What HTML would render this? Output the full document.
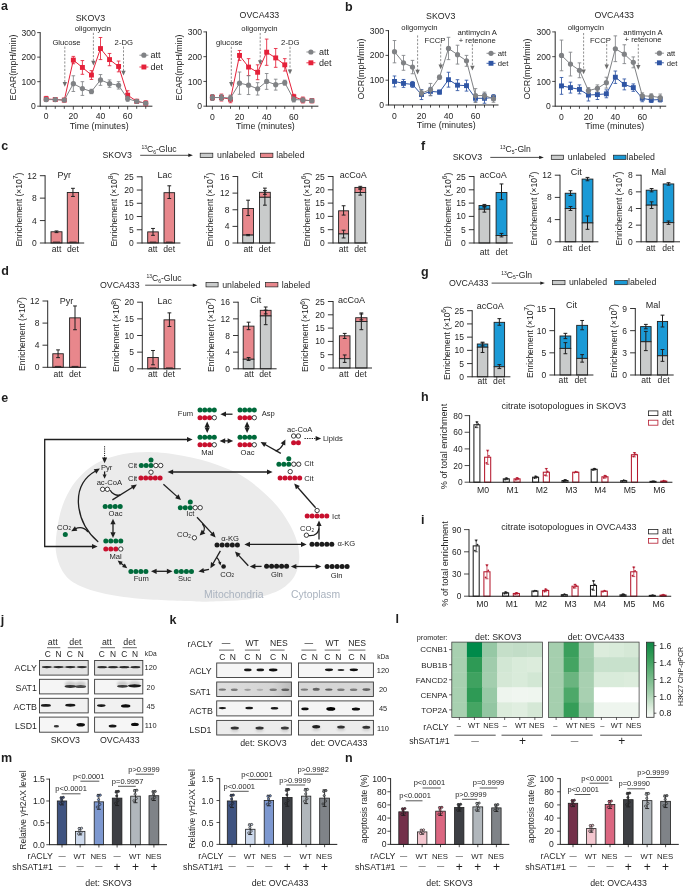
<!DOCTYPE html>
<html lang="en">
<head>
<meta charset="utf-8">
<title>Figure</title>
<style>
html,body{margin:0;padding:0;background:#fff;}
body{width:685px;height:886px;overflow:hidden;}
svg{display:block;font-family:"Liberation Sans", sans-serif;fill:#1f1f1f;}
</style>
</head>
<body>
<svg width="685" height="886" viewBox="0 0 685 886" shape-rendering="geometricPrecision">
<rect x="0" y="0" width="685" height="886" fill="#ffffff"/>
<line x1="40.20" y1="32.15" x2="40.20" y2="106.65" stroke="#1f1f1f" stroke-width="0.95"/>
<line x1="40.20" y1="106.20" x2="152.40" y2="106.20" stroke="#1f1f1f" stroke-width="0.95"/>
<line x1="37.20" y1="106.20" x2="40.20" y2="106.20" stroke="#1f1f1f" stroke-width="0.8"/>
<text x="35.80" y="109.28" font-size="8.6" text-anchor="end">0</text>
<line x1="37.20" y1="81.67" x2="40.20" y2="81.67" stroke="#1f1f1f" stroke-width="0.8"/>
<text x="35.80" y="84.75" font-size="8.6" text-anchor="end">100</text>
<line x1="37.20" y1="57.13" x2="40.20" y2="57.13" stroke="#1f1f1f" stroke-width="0.8"/>
<text x="35.80" y="60.21" font-size="8.6" text-anchor="end">200</text>
<line x1="37.20" y1="32.60" x2="40.20" y2="32.60" stroke="#1f1f1f" stroke-width="0.8"/>
<text x="35.80" y="35.68" font-size="8.6" text-anchor="end">300</text>
<line x1="46.20" y1="106.20" x2="46.20" y2="109.60" stroke="#1f1f1f" stroke-width="0.8"/>
<text x="46.20" y="119.38" font-size="8.6" text-anchor="middle">0</text>
<line x1="73.35" y1="106.20" x2="73.35" y2="109.60" stroke="#1f1f1f" stroke-width="0.8"/>
<text x="73.35" y="119.38" font-size="8.6" text-anchor="middle">20</text>
<line x1="100.50" y1="106.20" x2="100.50" y2="109.60" stroke="#1f1f1f" stroke-width="0.8"/>
<text x="100.50" y="119.38" font-size="8.6" text-anchor="middle">40</text>
<line x1="127.65" y1="106.20" x2="127.65" y2="109.60" stroke="#1f1f1f" stroke-width="0.8"/>
<text x="127.65" y="119.38" font-size="8.6" text-anchor="middle">60</text>
<text x="90.40" y="21.15" font-size="8.8" text-anchor="middle">SKOV3</text>
<text x="99.20" y="129.49" font-size="8.9" text-anchor="middle">Time (minutes)</text>
<text transform="translate(12.50 67.50) rotate(-90)" y="3.19" font-size="8.9" text-anchor="middle">ECAR(mpH/min)</text>
<text x="66.50" y="44.96" font-size="7.7" text-anchor="middle">Glucose</text>
<line x1="64.80" y1="46.60" x2="64.80" y2="82.80" stroke="#555" stroke-width="0.65" stroke-dasharray="2.2 1.5"/>
<polygon points="64.80,86.80 62.60,82.00 67.00,82.00" fill="#6d6d6d"/>
<text x="92.90" y="30.86" font-size="7.7" text-anchor="middle">oligomycin</text>
<line x1="93.40" y1="32.80" x2="93.40" y2="61.50" stroke="#555" stroke-width="0.65" stroke-dasharray="2.2 1.5"/>
<polygon points="93.40,65.50 91.20,60.70 95.60,60.70" fill="#6d6d6d"/>
<text x="123.80" y="44.96" font-size="7.7" text-anchor="middle">2-DG</text>
<line x1="123.50" y1="46.60" x2="123.50" y2="71.50" stroke="#555" stroke-width="0.65" stroke-dasharray="2.2 1.5"/>
<polygon points="123.50,75.50 121.30,70.70 125.70,70.70" fill="#6d6d6d"/>
<line x1="55.25" y1="106.20" x2="55.25" y2="108.80" stroke="#1f1f1f" stroke-width="0.8"/>
<line x1="64.30" y1="106.20" x2="64.30" y2="108.80" stroke="#1f1f1f" stroke-width="0.8"/>
<line x1="82.40" y1="106.20" x2="82.40" y2="108.80" stroke="#1f1f1f" stroke-width="0.8"/>
<line x1="91.45" y1="106.20" x2="91.45" y2="108.80" stroke="#1f1f1f" stroke-width="0.8"/>
<line x1="109.55" y1="106.20" x2="109.55" y2="108.80" stroke="#1f1f1f" stroke-width="0.8"/>
<line x1="118.60" y1="106.20" x2="118.60" y2="108.80" stroke="#1f1f1f" stroke-width="0.8"/>
<line x1="136.70" y1="106.20" x2="136.70" y2="108.80" stroke="#1f1f1f" stroke-width="0.8"/>
<line x1="145.75" y1="106.20" x2="145.75" y2="108.80" stroke="#1f1f1f" stroke-width="0.8"/>
<path d="M46.20 96.39V101.29M44.40 96.39H48.00M44.40 101.29H48.00" fill="none" stroke="#e5213a" stroke-width="0.85"/>
<path d="M55.25 97.86V101.29M53.45 97.86H57.05M53.45 101.29H57.05" fill="none" stroke="#e5213a" stroke-width="0.85"/>
<path d="M64.30 98.35V101.78M62.50 98.35H66.10M62.50 101.78H66.10" fill="none" stroke="#e5213a" stroke-width="0.85"/>
<path d="M73.35 56.40V63.76M71.55 56.40H75.15M71.55 63.76H75.15" fill="none" stroke="#e5213a" stroke-width="0.85"/>
<path d="M82.40 60.57V74.31M80.60 60.57H84.20M80.60 74.31H84.20" fill="none" stroke="#e5213a" stroke-width="0.85"/>
<path d="M91.45 70.63V79.46M89.65 70.63H93.25M89.65 79.46H93.25" fill="none" stroke="#e5213a" stroke-width="0.85"/>
<path d="M100.50 37.51V59.59M98.70 37.51H102.30M98.70 59.59H102.30" fill="none" stroke="#e5213a" stroke-width="0.85"/>
<path d="M109.55 53.45V65.72M107.75 53.45H111.35M107.75 65.72H111.35" fill="none" stroke="#e5213a" stroke-width="0.85"/>
<path d="M118.60 61.06V71.85M116.80 61.06H120.40M116.80 71.85H120.40" fill="none" stroke="#e5213a" stroke-width="0.85"/>
<path d="M127.65 90.74V99.58M125.85 90.74H129.45M125.85 99.58H129.45" fill="none" stroke="#e5213a" stroke-width="0.85"/>
<path d="M136.70 99.33V103.26M134.90 99.33H138.50M134.90 103.26H138.50" fill="none" stroke="#e5213a" stroke-width="0.85"/>
<path d="M145.75 100.80V105.71M143.95 100.80H147.55M143.95 105.71H147.55" fill="none" stroke="#e5213a" stroke-width="0.85"/>
<polyline points="46.20,98.84 55.25,99.58 64.30,100.07 73.35,60.08 82.40,67.44 91.45,75.04 100.50,48.55 109.55,59.59 118.60,66.46 127.65,95.16 136.70,101.29 145.75,103.26" fill="none" stroke="#e5213a" stroke-width="1.0"/>
<rect x="43.75" y="96.39" width="4.90" height="4.90" fill="#e5213a"/>
<rect x="52.80" y="97.13" width="4.90" height="4.90" fill="#e5213a"/>
<rect x="61.85" y="97.62" width="4.90" height="4.90" fill="#e5213a"/>
<rect x="70.90" y="57.63" width="4.90" height="4.90" fill="#e5213a"/>
<rect x="79.95" y="64.99" width="4.90" height="4.90" fill="#e5213a"/>
<rect x="89.00" y="72.59" width="4.90" height="4.90" fill="#e5213a"/>
<rect x="98.05" y="46.10" width="4.90" height="4.90" fill="#e5213a"/>
<rect x="107.10" y="57.14" width="4.90" height="4.90" fill="#e5213a"/>
<rect x="116.15" y="64.01" width="4.90" height="4.90" fill="#e5213a"/>
<rect x="125.20" y="92.71" width="4.90" height="4.90" fill="#e5213a"/>
<rect x="134.25" y="98.84" width="4.90" height="4.90" fill="#e5213a"/>
<rect x="143.30" y="100.81" width="4.90" height="4.90" fill="#e5213a"/>
<path d="M46.20 97.61V101.54M44.40 97.61H48.00M44.40 101.54H48.00" fill="none" stroke="#808285" stroke-width="0.85"/>
<path d="M55.25 98.10V101.05M53.45 98.10H57.05M53.45 101.05H57.05" fill="none" stroke="#808285" stroke-width="0.85"/>
<path d="M64.30 98.59V101.54M62.50 98.59H66.10M62.50 101.54H66.10" fill="none" stroke="#808285" stroke-width="0.85"/>
<path d="M73.35 75.78V91.48M71.55 75.78H75.15M71.55 91.48H75.15" fill="none" stroke="#808285" stroke-width="0.85"/>
<path d="M82.40 81.67V95.41M80.60 81.67H84.20M80.60 95.41H84.20" fill="none" stroke="#808285" stroke-width="0.85"/>
<path d="M91.45 89.27V93.69M89.65 89.27H93.25M89.65 93.69H93.25" fill="none" stroke="#808285" stroke-width="0.85"/>
<path d="M100.50 74.55V85.35M98.70 74.55H102.30M98.70 85.35H102.30" fill="none" stroke="#808285" stroke-width="0.85"/>
<path d="M109.55 79.95V87.31M107.75 79.95H111.35M107.75 87.31H111.35" fill="none" stroke="#808285" stroke-width="0.85"/>
<path d="M118.60 81.67V89.03M116.80 81.67H120.40M116.80 89.03H120.40" fill="none" stroke="#808285" stroke-width="0.85"/>
<path d="M127.65 96.39V101.29M125.85 96.39H129.45M125.85 101.29H129.45" fill="none" stroke="#808285" stroke-width="0.85"/>
<path d="M136.70 99.58V103.01M134.90 99.58H138.50M134.90 103.01H138.50" fill="none" stroke="#808285" stroke-width="0.85"/>
<path d="M145.75 101.54V104.97M143.95 101.54H147.55M143.95 104.97H147.55" fill="none" stroke="#808285" stroke-width="0.85"/>
<polyline points="46.20,99.58 55.25,99.58 64.30,100.07 73.35,83.63 82.40,88.54 91.45,91.48 100.50,79.95 109.55,83.63 118.60,85.35 127.65,98.84 136.70,101.29 145.75,103.26" fill="none" stroke="#808285" stroke-width="1.0"/>
<circle cx="46.20" cy="99.58" r="2.6" fill="#808285"/>
<circle cx="55.25" cy="99.58" r="2.6" fill="#808285"/>
<circle cx="64.30" cy="100.07" r="2.6" fill="#808285"/>
<circle cx="73.35" cy="83.63" r="2.6" fill="#808285"/>
<circle cx="82.40" cy="88.54" r="2.6" fill="#808285"/>
<circle cx="91.45" cy="91.48" r="2.6" fill="#808285"/>
<circle cx="100.50" cy="79.95" r="2.6" fill="#808285"/>
<circle cx="109.55" cy="83.63" r="2.6" fill="#808285"/>
<circle cx="118.60" cy="85.35" r="2.6" fill="#808285"/>
<circle cx="127.65" cy="98.84" r="2.6" fill="#808285"/>
<circle cx="136.70" cy="101.29" r="2.6" fill="#808285"/>
<circle cx="145.75" cy="103.26" r="2.6" fill="#808285"/>
<line x1="139.40" y1="55.20" x2="148.40" y2="55.20" stroke="#808285" stroke-width="0.9"/>
<circle cx="143.90" cy="55.20" r="2.6" fill="#808285"/>
<text x="150.60" y="58.42" font-size="9">att</text>
<line x1="139.40" y1="67.00" x2="148.40" y2="67.00" stroke="#e5213a" stroke-width="0.9"/>
<rect x="141.45" y="64.55" width="4.90" height="4.90" fill="#e5213a"/>
<text x="150.60" y="70.22" font-size="9">det</text>
<line x1="206.40" y1="31.45" x2="206.40" y2="106.65" stroke="#1f1f1f" stroke-width="0.95"/>
<line x1="206.40" y1="106.20" x2="318.40" y2="106.20" stroke="#1f1f1f" stroke-width="0.95"/>
<line x1="203.40" y1="106.20" x2="206.40" y2="106.20" stroke="#1f1f1f" stroke-width="0.8"/>
<text x="202.00" y="109.28" font-size="8.6" text-anchor="end">0</text>
<line x1="203.40" y1="81.43" x2="206.40" y2="81.43" stroke="#1f1f1f" stroke-width="0.8"/>
<text x="202.00" y="84.51" font-size="8.6" text-anchor="end">100</text>
<line x1="203.40" y1="56.67" x2="206.40" y2="56.67" stroke="#1f1f1f" stroke-width="0.8"/>
<text x="202.00" y="59.75" font-size="8.6" text-anchor="end">200</text>
<line x1="203.40" y1="31.90" x2="206.40" y2="31.90" stroke="#1f1f1f" stroke-width="0.8"/>
<text x="202.00" y="34.98" font-size="8.6" text-anchor="end">300</text>
<line x1="212.40" y1="106.20" x2="212.40" y2="109.60" stroke="#1f1f1f" stroke-width="0.8"/>
<text x="212.40" y="119.68" font-size="8.6" text-anchor="middle">0</text>
<line x1="239.53" y1="106.20" x2="239.53" y2="109.60" stroke="#1f1f1f" stroke-width="0.8"/>
<text x="239.53" y="119.68" font-size="8.6" text-anchor="middle">20</text>
<line x1="266.66" y1="106.20" x2="266.66" y2="109.60" stroke="#1f1f1f" stroke-width="0.8"/>
<text x="266.66" y="119.68" font-size="8.6" text-anchor="middle">40</text>
<line x1="293.79" y1="106.20" x2="293.79" y2="109.60" stroke="#1f1f1f" stroke-width="0.8"/>
<text x="293.79" y="119.68" font-size="8.6" text-anchor="middle">60</text>
<text x="259.40" y="18.25" font-size="8.8" text-anchor="middle">OVCA433</text>
<text x="265.40" y="129.49" font-size="8.9" text-anchor="middle">Time (minutes)</text>
<text transform="translate(178.60 67.50) rotate(-90)" y="3.19" font-size="8.9" text-anchor="middle">ECAR(mpH/min)</text>
<text x="229.30" y="45.46" font-size="7.7" text-anchor="middle">glucose</text>
<line x1="231.30" y1="46.80" x2="231.30" y2="82.90" stroke="#555" stroke-width="0.65" stroke-dasharray="2.2 1.5"/>
<polygon points="231.30,86.90 229.10,82.10 233.50,82.10" fill="#6d6d6d"/>
<text x="259.40" y="31.16" font-size="7.7" text-anchor="middle">oligomycin</text>
<line x1="260.20" y1="33.00" x2="260.20" y2="61.00" stroke="#555" stroke-width="0.65" stroke-dasharray="2.2 1.5"/>
<polygon points="260.20,65.00 258.00,60.20 262.40,60.20" fill="#6d6d6d"/>
<text x="290.30" y="45.46" font-size="7.7" text-anchor="middle">2-DG</text>
<line x1="290.00" y1="46.80" x2="290.00" y2="70.20" stroke="#555" stroke-width="0.65" stroke-dasharray="2.2 1.5"/>
<polygon points="290.00,74.20 287.80,69.40 292.20,69.40" fill="#6d6d6d"/>
<line x1="221.44" y1="106.20" x2="221.44" y2="108.80" stroke="#1f1f1f" stroke-width="0.8"/>
<line x1="230.49" y1="106.20" x2="230.49" y2="108.80" stroke="#1f1f1f" stroke-width="0.8"/>
<line x1="248.57" y1="106.20" x2="248.57" y2="108.80" stroke="#1f1f1f" stroke-width="0.8"/>
<line x1="257.62" y1="106.20" x2="257.62" y2="108.80" stroke="#1f1f1f" stroke-width="0.8"/>
<line x1="275.70" y1="106.20" x2="275.70" y2="108.80" stroke="#1f1f1f" stroke-width="0.8"/>
<line x1="284.75" y1="106.20" x2="284.75" y2="108.80" stroke="#1f1f1f" stroke-width="0.8"/>
<line x1="302.83" y1="106.20" x2="302.83" y2="108.80" stroke="#1f1f1f" stroke-width="0.8"/>
<line x1="311.88" y1="106.20" x2="311.88" y2="108.80" stroke="#1f1f1f" stroke-width="0.8"/>
<path d="M212.40 94.56V100.50M210.60 94.56H214.20M210.60 100.50H214.20" fill="none" stroke="#e5213a" stroke-width="0.85"/>
<path d="M221.44 94.06V101.00M219.64 94.06H223.24M219.64 101.00H223.24" fill="none" stroke="#e5213a" stroke-width="0.85"/>
<path d="M230.49 95.80V102.73M228.69 95.80H232.29M228.69 102.73H232.29" fill="none" stroke="#e5213a" stroke-width="0.85"/>
<path d="M239.53 50.47V60.38M237.73 50.47H241.33M237.73 60.38H241.33" fill="none" stroke="#e5213a" stroke-width="0.85"/>
<path d="M248.57 58.65V75.49M246.77 58.65H250.37M246.77 75.49H250.37" fill="none" stroke="#e5213a" stroke-width="0.85"/>
<path d="M257.62 64.84V79.70M255.82 64.84H259.42M255.82 79.70H259.42" fill="none" stroke="#e5213a" stroke-width="0.85"/>
<path d="M266.66 39.08V65.33M264.86 39.08H268.46M264.86 65.33H268.46" fill="none" stroke="#e5213a" stroke-width="0.85"/>
<path d="M275.70 48.49V67.32M273.90 48.49H277.50M273.90 67.32H277.50" fill="none" stroke="#e5213a" stroke-width="0.85"/>
<path d="M284.75 58.65V71.03M282.95 58.65H286.55M282.95 71.03H286.55" fill="none" stroke="#e5213a" stroke-width="0.85"/>
<path d="M293.79 94.31V99.27M291.99 94.31H295.59M291.99 99.27H295.59" fill="none" stroke="#e5213a" stroke-width="0.85"/>
<path d="M302.83 97.04V102.98M301.03 97.04H304.63M301.03 102.98H304.63" fill="none" stroke="#e5213a" stroke-width="0.85"/>
<path d="M311.88 98.77V102.73M310.08 98.77H313.68M310.08 102.73H313.68" fill="none" stroke="#e5213a" stroke-width="0.85"/>
<polyline points="212.40,97.53 221.44,97.53 230.49,99.27 239.53,55.43 248.57,67.07 257.62,72.27 266.66,52.21 275.70,57.90 284.75,64.84 293.79,96.79 302.83,100.01 311.88,100.75" fill="none" stroke="#e5213a" stroke-width="1.0"/>
<rect x="209.95" y="95.08" width="4.90" height="4.90" fill="#e5213a"/>
<rect x="218.99" y="95.08" width="4.90" height="4.90" fill="#e5213a"/>
<rect x="228.04" y="96.82" width="4.90" height="4.90" fill="#e5213a"/>
<rect x="237.08" y="52.98" width="4.90" height="4.90" fill="#e5213a"/>
<rect x="246.12" y="64.62" width="4.90" height="4.90" fill="#e5213a"/>
<rect x="255.17" y="69.82" width="4.90" height="4.90" fill="#e5213a"/>
<rect x="264.21" y="49.76" width="4.90" height="4.90" fill="#e5213a"/>
<rect x="273.25" y="55.45" width="4.90" height="4.90" fill="#e5213a"/>
<rect x="282.30" y="62.39" width="4.90" height="4.90" fill="#e5213a"/>
<rect x="291.34" y="94.34" width="4.90" height="4.90" fill="#e5213a"/>
<rect x="300.38" y="97.56" width="4.90" height="4.90" fill="#e5213a"/>
<rect x="309.43" y="98.30" width="4.90" height="4.90" fill="#e5213a"/>
<path d="M212.40 94.56V100.50M210.60 94.56H214.20M210.60 100.50H214.20" fill="none" stroke="#808285" stroke-width="0.85"/>
<path d="M221.44 94.56V100.50M219.64 94.56H223.24M219.64 100.50H223.24" fill="none" stroke="#808285" stroke-width="0.85"/>
<path d="M230.49 95.06V101.00M228.69 95.06H232.29M228.69 101.00H232.29" fill="none" stroke="#808285" stroke-width="0.85"/>
<path d="M239.53 72.02V94.31M237.73 72.02H241.33M237.73 94.31H241.33" fill="none" stroke="#808285" stroke-width="0.85"/>
<path d="M248.57 75.74V94.56M246.77 75.74H250.37M246.77 94.56H250.37" fill="none" stroke="#808285" stroke-width="0.85"/>
<path d="M257.62 82.67V95.06M255.82 82.67H259.42M255.82 95.06H259.42" fill="none" stroke="#808285" stroke-width="0.85"/>
<path d="M266.66 73.51V89.36M264.86 73.51H268.46M264.86 89.36H268.46" fill="none" stroke="#808285" stroke-width="0.85"/>
<path d="M275.70 79.20V90.10M273.90 79.20H277.50M273.90 90.10H277.50" fill="none" stroke="#808285" stroke-width="0.85"/>
<path d="M284.75 80.19V85.15M282.95 80.19H286.55M282.95 85.15H286.55" fill="none" stroke="#808285" stroke-width="0.85"/>
<path d="M293.79 97.04V101.99M291.99 97.04H295.59M291.99 101.99H295.59" fill="none" stroke="#808285" stroke-width="0.85"/>
<path d="M302.83 98.03V101.99M301.03 98.03H304.63M301.03 101.99H304.63" fill="none" stroke="#808285" stroke-width="0.85"/>
<path d="M311.88 99.02V102.48M310.08 99.02H313.68M310.08 102.48H313.68" fill="none" stroke="#808285" stroke-width="0.85"/>
<polyline points="212.40,97.53 221.44,97.53 230.49,98.03 239.53,83.17 248.57,85.15 257.62,88.86 266.66,81.43 275.70,84.65 284.75,82.67 293.79,99.51 302.83,100.01 311.88,100.75" fill="none" stroke="#808285" stroke-width="1.0"/>
<circle cx="212.40" cy="97.53" r="2.6" fill="#808285"/>
<circle cx="221.44" cy="97.53" r="2.6" fill="#808285"/>
<circle cx="230.49" cy="98.03" r="2.6" fill="#808285"/>
<circle cx="239.53" cy="83.17" r="2.6" fill="#808285"/>
<circle cx="248.57" cy="85.15" r="2.6" fill="#808285"/>
<circle cx="257.62" cy="88.86" r="2.6" fill="#808285"/>
<circle cx="266.66" cy="81.43" r="2.6" fill="#808285"/>
<circle cx="275.70" cy="84.65" r="2.6" fill="#808285"/>
<circle cx="284.75" cy="82.67" r="2.6" fill="#808285"/>
<circle cx="293.79" cy="99.51" r="2.6" fill="#808285"/>
<circle cx="302.83" cy="100.01" r="2.6" fill="#808285"/>
<circle cx="311.88" cy="100.75" r="2.6" fill="#808285"/>
<line x1="306.40" y1="52.00" x2="315.40" y2="52.00" stroke="#808285" stroke-width="0.9"/>
<circle cx="310.90" cy="52.00" r="2.6" fill="#808285"/>
<text x="318.90" y="55.22" font-size="9">att</text>
<line x1="306.40" y1="62.80" x2="315.40" y2="62.80" stroke="#e5213a" stroke-width="0.9"/>
<rect x="308.45" y="60.35" width="4.90" height="4.90" fill="#e5213a"/>
<text x="318.90" y="66.02" font-size="9">det</text>
<line x1="388.50" y1="30.15" x2="388.50" y2="105.45" stroke="#1f1f1f" stroke-width="0.95"/>
<line x1="388.50" y1="105.00" x2="498.50" y2="105.00" stroke="#1f1f1f" stroke-width="0.95"/>
<line x1="385.50" y1="105.00" x2="388.50" y2="105.00" stroke="#1f1f1f" stroke-width="0.8"/>
<text x="384.10" y="108.08" font-size="8.6" text-anchor="end">0</text>
<line x1="385.50" y1="80.20" x2="388.50" y2="80.20" stroke="#1f1f1f" stroke-width="0.8"/>
<text x="384.10" y="83.28" font-size="8.6" text-anchor="end">100</text>
<line x1="385.50" y1="55.40" x2="388.50" y2="55.40" stroke="#1f1f1f" stroke-width="0.8"/>
<text x="384.10" y="58.48" font-size="8.6" text-anchor="end">200</text>
<line x1="385.50" y1="30.60" x2="388.50" y2="30.60" stroke="#1f1f1f" stroke-width="0.8"/>
<text x="384.10" y="33.68" font-size="8.6" text-anchor="end">300</text>
<line x1="394.50" y1="105.00" x2="394.50" y2="108.40" stroke="#1f1f1f" stroke-width="0.8"/>
<text x="394.50" y="118.68" font-size="8.6" text-anchor="middle">0</text>
<line x1="421.50" y1="105.00" x2="421.50" y2="108.40" stroke="#1f1f1f" stroke-width="0.8"/>
<text x="421.50" y="118.68" font-size="8.6" text-anchor="middle">20</text>
<line x1="448.50" y1="105.00" x2="448.50" y2="108.40" stroke="#1f1f1f" stroke-width="0.8"/>
<text x="448.50" y="118.68" font-size="8.6" text-anchor="middle">40</text>
<line x1="475.50" y1="105.00" x2="475.50" y2="108.40" stroke="#1f1f1f" stroke-width="0.8"/>
<text x="475.50" y="118.68" font-size="8.6" text-anchor="middle">60</text>
<text x="440.70" y="18.75" font-size="8.8" text-anchor="middle">SKOV3</text>
<text x="446.30" y="128.09" font-size="8.9" text-anchor="middle">Time (minutes)</text>
<text transform="translate(361.00 69.00) rotate(-90)" y="3.19" font-size="8.9" text-anchor="middle">OCR(mpH/min)</text>
<text x="419.40" y="30.36" font-size="7.7" text-anchor="middle">oligomycin</text>
<line x1="417.60" y1="35.40" x2="417.60" y2="70.50" stroke="#555" stroke-width="0.65" stroke-dasharray="2.2 1.5"/>
<polygon points="417.60,74.50 415.40,69.70 419.80,69.70" fill="#6d6d6d"/>
<text x="435.00" y="42.96" font-size="7.7" text-anchor="middle">FCCP</text>
<line x1="440.70" y1="44.20" x2="440.70" y2="65.30" stroke="#555" stroke-width="0.65" stroke-dasharray="2.2 1.5"/>
<polygon points="440.70,69.30 438.50,64.50 442.90,64.50" fill="#6d6d6d"/>
<text x="477.20" y="35.36" font-size="7.7" text-anchor="middle">antimycin A</text>
<text x="477.20" y="42.56" font-size="7.7" text-anchor="middle">+ retenone</text>
<line x1="472.40" y1="44.20" x2="472.40" y2="66.50" stroke="#555" stroke-width="0.65" stroke-dasharray="2.2 1.5"/>
<polygon points="472.40,70.50 470.20,65.70 474.60,65.70" fill="#6d6d6d"/>
<line x1="403.50" y1="105.00" x2="403.50" y2="107.60" stroke="#1f1f1f" stroke-width="0.8"/>
<line x1="412.50" y1="105.00" x2="412.50" y2="107.60" stroke="#1f1f1f" stroke-width="0.8"/>
<line x1="430.50" y1="105.00" x2="430.50" y2="107.60" stroke="#1f1f1f" stroke-width="0.8"/>
<line x1="439.50" y1="105.00" x2="439.50" y2="107.60" stroke="#1f1f1f" stroke-width="0.8"/>
<line x1="457.50" y1="105.00" x2="457.50" y2="107.60" stroke="#1f1f1f" stroke-width="0.8"/>
<line x1="466.50" y1="105.00" x2="466.50" y2="107.60" stroke="#1f1f1f" stroke-width="0.8"/>
<line x1="484.50" y1="105.00" x2="484.50" y2="107.60" stroke="#1f1f1f" stroke-width="0.8"/>
<line x1="493.50" y1="105.00" x2="493.50" y2="107.60" stroke="#1f1f1f" stroke-width="0.8"/>
<path d="M394.50 75.98V86.90M392.70 75.98H396.30M392.70 86.90H396.30" fill="none" stroke="#2f55a4" stroke-width="0.85"/>
<path d="M403.50 79.46V87.39M401.70 79.46H405.30M401.70 87.39H405.30" fill="none" stroke="#2f55a4" stroke-width="0.85"/>
<path d="M412.50 81.44V87.39M410.70 81.44H414.30M410.70 87.39H414.30" fill="none" stroke="#2f55a4" stroke-width="0.85"/>
<path d="M421.50 89.62V99.54M419.70 89.62H423.30M419.70 99.54H423.30" fill="none" stroke="#2f55a4" stroke-width="0.85"/>
<path d="M430.50 87.39V95.33M428.70 87.39H432.30M428.70 95.33H432.30" fill="none" stroke="#2f55a4" stroke-width="0.85"/>
<path d="M439.50 90.12V94.09M437.70 90.12H441.30M437.70 94.09H441.30" fill="none" stroke="#2f55a4" stroke-width="0.85"/>
<path d="M448.50 72.26V87.14M446.70 72.26H450.30M446.70 87.14H450.30" fill="none" stroke="#2f55a4" stroke-width="0.85"/>
<path d="M457.50 79.70V90.62M455.70 79.70H459.30M455.70 90.62H459.30" fill="none" stroke="#2f55a4" stroke-width="0.85"/>
<path d="M466.50 80.20V91.11M464.70 80.20H468.30M464.70 91.11H468.30" fill="none" stroke="#2f55a4" stroke-width="0.85"/>
<path d="M475.50 94.83V101.78M473.70 94.83H477.30M473.70 101.78H477.30" fill="none" stroke="#2f55a4" stroke-width="0.85"/>
<path d="M484.50 93.34V103.26M482.70 93.34H486.30M482.70 103.26H486.30" fill="none" stroke="#2f55a4" stroke-width="0.85"/>
<path d="M493.50 94.58V100.54M491.70 94.58H495.30M491.70 100.54H495.30" fill="none" stroke="#2f55a4" stroke-width="0.85"/>
<polyline points="394.50,81.44 403.50,83.42 412.50,84.42 421.50,94.58 430.50,91.36 439.50,92.10 448.50,79.70 457.50,85.16 466.50,85.66 475.50,98.30 484.50,98.30 493.50,97.56" fill="none" stroke="#2f55a4" stroke-width="1.0"/>
<rect x="392.05" y="78.99" width="4.90" height="4.90" fill="#2f55a4"/>
<rect x="401.05" y="80.97" width="4.90" height="4.90" fill="#2f55a4"/>
<rect x="410.05" y="81.97" width="4.90" height="4.90" fill="#2f55a4"/>
<rect x="419.05" y="92.13" width="4.90" height="4.90" fill="#2f55a4"/>
<rect x="428.05" y="88.91" width="4.90" height="4.90" fill="#2f55a4"/>
<rect x="437.05" y="89.65" width="4.90" height="4.90" fill="#2f55a4"/>
<rect x="446.05" y="77.25" width="4.90" height="4.90" fill="#2f55a4"/>
<rect x="455.05" y="82.71" width="4.90" height="4.90" fill="#2f55a4"/>
<rect x="464.05" y="83.21" width="4.90" height="4.90" fill="#2f55a4"/>
<rect x="473.05" y="95.85" width="4.90" height="4.90" fill="#2f55a4"/>
<rect x="482.05" y="95.85" width="4.90" height="4.90" fill="#2f55a4"/>
<rect x="491.05" y="95.11" width="4.90" height="4.90" fill="#2f55a4"/>
<path d="M394.50 40.52V62.84M392.70 40.52H396.30M392.70 62.84H396.30" fill="none" stroke="#808285" stroke-width="0.85"/>
<path d="M403.50 55.40V70.28M401.70 55.40H405.30M401.70 70.28H405.30" fill="none" stroke="#808285" stroke-width="0.85"/>
<path d="M412.50 60.36V73.75M410.70 60.36H414.30M410.70 73.75H414.30" fill="none" stroke="#808285" stroke-width="0.85"/>
<path d="M421.50 90.12V96.07M419.70 90.12H423.30M419.70 96.07H423.30" fill="none" stroke="#808285" stroke-width="0.85"/>
<path d="M430.50 83.42V95.82M428.70 83.42H432.30M428.70 95.82H432.30" fill="none" stroke="#808285" stroke-width="0.85"/>
<path d="M439.50 75.24V79.21M437.70 75.24H441.30M437.70 79.21H441.30" fill="none" stroke="#808285" stroke-width="0.85"/>
<path d="M448.50 37.30V59.62M446.70 37.30H450.30M446.70 59.62H450.30" fill="none" stroke="#808285" stroke-width="0.85"/>
<path d="M457.50 45.23V64.08M455.70 45.23H459.30M455.70 64.08H459.30" fill="none" stroke="#808285" stroke-width="0.85"/>
<path d="M466.50 55.40V66.31M464.70 55.40H468.30M464.70 66.31H468.30" fill="none" stroke="#808285" stroke-width="0.85"/>
<path d="M475.50 88.63V102.52M473.70 88.63H477.30M473.70 102.52H477.30" fill="none" stroke="#808285" stroke-width="0.85"/>
<path d="M484.50 92.10V99.05M482.70 92.10H486.30M482.70 99.05H486.30" fill="none" stroke="#808285" stroke-width="0.85"/>
<path d="M493.50 95.33V102.27M491.70 95.33H495.30M491.70 102.27H495.30" fill="none" stroke="#808285" stroke-width="0.85"/>
<polyline points="394.50,51.68 403.50,62.84 412.50,67.06 421.50,93.10 430.50,89.62 439.50,77.22 448.50,48.46 457.50,54.66 466.50,60.86 475.50,95.58 484.50,95.58 493.50,98.80" fill="none" stroke="#808285" stroke-width="1.0"/>
<circle cx="394.50" cy="51.68" r="2.6" fill="#808285"/>
<circle cx="403.50" cy="62.84" r="2.6" fill="#808285"/>
<circle cx="412.50" cy="67.06" r="2.6" fill="#808285"/>
<circle cx="421.50" cy="93.10" r="2.6" fill="#808285"/>
<circle cx="430.50" cy="89.62" r="2.6" fill="#808285"/>
<circle cx="439.50" cy="77.22" r="2.6" fill="#808285"/>
<circle cx="448.50" cy="48.46" r="2.6" fill="#808285"/>
<circle cx="457.50" cy="54.66" r="2.6" fill="#808285"/>
<circle cx="466.50" cy="60.86" r="2.6" fill="#808285"/>
<circle cx="475.50" cy="95.58" r="2.6" fill="#808285"/>
<circle cx="484.50" cy="95.58" r="2.6" fill="#808285"/>
<circle cx="493.50" cy="98.80" r="2.6" fill="#808285"/>
<line x1="486.50" y1="53.30" x2="495.50" y2="53.30" stroke="#808285" stroke-width="0.9"/>
<circle cx="491.00" cy="53.30" r="2.6" fill="#808285"/>
<text x="497.80" y="56.06" font-size="7.7">att</text>
<line x1="486.50" y1="63.30" x2="495.50" y2="63.30" stroke="#2f55a4" stroke-width="0.9"/>
<rect x="488.55" y="60.85" width="4.90" height="4.90" fill="#2f55a4"/>
<text x="497.80" y="66.06" font-size="7.7">det</text>
<line x1="555.20" y1="31.45" x2="555.20" y2="106.65" stroke="#1f1f1f" stroke-width="0.95"/>
<line x1="555.20" y1="106.20" x2="666.20" y2="106.20" stroke="#1f1f1f" stroke-width="0.95"/>
<line x1="552.20" y1="106.20" x2="555.20" y2="106.20" stroke="#1f1f1f" stroke-width="0.8"/>
<text x="550.80" y="109.28" font-size="8.6" text-anchor="end">0</text>
<line x1="552.20" y1="81.43" x2="555.20" y2="81.43" stroke="#1f1f1f" stroke-width="0.8"/>
<text x="550.80" y="84.51" font-size="8.6" text-anchor="end">100</text>
<line x1="552.20" y1="56.67" x2="555.20" y2="56.67" stroke="#1f1f1f" stroke-width="0.8"/>
<text x="550.80" y="59.75" font-size="8.6" text-anchor="end">200</text>
<line x1="552.20" y1="31.90" x2="555.20" y2="31.90" stroke="#1f1f1f" stroke-width="0.8"/>
<text x="550.80" y="34.98" font-size="8.6" text-anchor="end">300</text>
<line x1="561.50" y1="106.20" x2="561.50" y2="109.60" stroke="#1f1f1f" stroke-width="0.8"/>
<text x="561.50" y="119.88" font-size="8.6" text-anchor="middle">0</text>
<line x1="588.43" y1="106.20" x2="588.43" y2="109.60" stroke="#1f1f1f" stroke-width="0.8"/>
<text x="588.43" y="119.88" font-size="8.6" text-anchor="middle">20</text>
<line x1="615.36" y1="106.20" x2="615.36" y2="109.60" stroke="#1f1f1f" stroke-width="0.8"/>
<text x="615.36" y="119.88" font-size="8.6" text-anchor="middle">40</text>
<line x1="642.29" y1="106.20" x2="642.29" y2="109.60" stroke="#1f1f1f" stroke-width="0.8"/>
<text x="642.29" y="119.88" font-size="8.6" text-anchor="middle">60</text>
<text x="614.20" y="18.25" font-size="8.8" text-anchor="middle">OVCA433</text>
<text x="614.70" y="129.49" font-size="8.9" text-anchor="middle">Time (minutes)</text>
<text transform="translate(526.80 69.00) rotate(-90)" y="3.19" font-size="8.9" text-anchor="middle">OCR(mpH/min)</text>
<text x="585.80" y="29.86" font-size="7.7" text-anchor="middle">oligomycin</text>
<line x1="583.60" y1="33.00" x2="583.60" y2="70.20" stroke="#555" stroke-width="0.65" stroke-dasharray="2.2 1.5"/>
<polygon points="583.60,74.20 581.40,69.40 585.80,69.40" fill="#6d6d6d"/>
<text x="600.40" y="42.96" font-size="7.7" text-anchor="middle">FCCP</text>
<line x1="606.70" y1="44.20" x2="606.70" y2="65.20" stroke="#555" stroke-width="0.65" stroke-dasharray="2.2 1.5"/>
<polygon points="606.70,69.20 604.50,64.40 608.90,64.40" fill="#6d6d6d"/>
<text x="643.00" y="34.66" font-size="7.7" text-anchor="middle">antimycin A</text>
<text x="643.00" y="41.86" font-size="7.7" text-anchor="middle">+ retenone</text>
<line x1="638.30" y1="44.20" x2="638.30" y2="65.80" stroke="#555" stroke-width="0.65" stroke-dasharray="2.2 1.5"/>
<polygon points="638.30,69.80 636.10,65.00 640.50,65.00" fill="#6d6d6d"/>
<line x1="570.48" y1="106.20" x2="570.48" y2="108.80" stroke="#1f1f1f" stroke-width="0.8"/>
<line x1="579.45" y1="106.20" x2="579.45" y2="108.80" stroke="#1f1f1f" stroke-width="0.8"/>
<line x1="597.41" y1="106.20" x2="597.41" y2="108.80" stroke="#1f1f1f" stroke-width="0.8"/>
<line x1="606.38" y1="106.20" x2="606.38" y2="108.80" stroke="#1f1f1f" stroke-width="0.8"/>
<line x1="624.34" y1="106.20" x2="624.34" y2="108.80" stroke="#1f1f1f" stroke-width="0.8"/>
<line x1="633.31" y1="106.20" x2="633.31" y2="108.80" stroke="#1f1f1f" stroke-width="0.8"/>
<line x1="651.27" y1="106.20" x2="651.27" y2="108.80" stroke="#1f1f1f" stroke-width="0.8"/>
<line x1="660.24" y1="106.20" x2="660.24" y2="108.80" stroke="#1f1f1f" stroke-width="0.8"/>
<path d="M561.50 77.47V94.31M559.70 77.47H563.30M559.70 94.31H563.30" fill="none" stroke="#2f55a4" stroke-width="0.85"/>
<path d="M570.48 82.18V93.07M568.68 82.18H572.28M568.68 93.07H572.28" fill="none" stroke="#2f55a4" stroke-width="0.85"/>
<path d="M579.45 84.90V93.82M577.65 84.90H581.25M577.65 93.82H581.25" fill="none" stroke="#2f55a4" stroke-width="0.85"/>
<path d="M588.43 89.11V101.00M586.63 89.11H590.23M586.63 101.00H590.23" fill="none" stroke="#2f55a4" stroke-width="0.85"/>
<path d="M597.41 89.61V99.51M595.61 89.61H599.21M595.61 99.51H599.21" fill="none" stroke="#2f55a4" stroke-width="0.85"/>
<path d="M606.38 89.85V97.78M604.58 89.85H608.18M604.58 97.78H608.18" fill="none" stroke="#2f55a4" stroke-width="0.85"/>
<path d="M615.36 71.03V83.41M613.56 71.03H617.16M613.56 83.41H617.16" fill="none" stroke="#2f55a4" stroke-width="0.85"/>
<path d="M624.34 78.96V89.85M622.54 78.96H626.14M622.54 89.85H626.14" fill="none" stroke="#2f55a4" stroke-width="0.85"/>
<path d="M633.31 83.91V91.34M631.51 83.91H635.11M631.51 91.34H635.11" fill="none" stroke="#2f55a4" stroke-width="0.85"/>
<path d="M642.29 94.81V101.74M640.49 94.81H644.09M640.49 101.74H644.09" fill="none" stroke="#2f55a4" stroke-width="0.85"/>
<path d="M651.27 97.53V102.48M649.47 97.53H653.07M649.47 102.48H653.07" fill="none" stroke="#2f55a4" stroke-width="0.85"/>
<path d="M660.24 97.04V101.99M658.44 97.04H662.04M658.44 101.99H662.04" fill="none" stroke="#2f55a4" stroke-width="0.85"/>
<polyline points="561.50,85.89 570.48,87.62 579.45,89.36 588.43,95.06 597.41,94.56 606.38,93.82 615.36,77.22 624.34,84.41 633.31,87.62 642.29,98.27 651.27,100.01 660.24,99.51" fill="none" stroke="#2f55a4" stroke-width="1.0"/>
<rect x="559.05" y="83.44" width="4.90" height="4.90" fill="#2f55a4"/>
<rect x="568.03" y="85.17" width="4.90" height="4.90" fill="#2f55a4"/>
<rect x="577.00" y="86.91" width="4.90" height="4.90" fill="#2f55a4"/>
<rect x="585.98" y="92.61" width="4.90" height="4.90" fill="#2f55a4"/>
<rect x="594.96" y="92.11" width="4.90" height="4.90" fill="#2f55a4"/>
<rect x="603.93" y="91.37" width="4.90" height="4.90" fill="#2f55a4"/>
<rect x="612.91" y="74.77" width="4.90" height="4.90" fill="#2f55a4"/>
<rect x="621.89" y="81.96" width="4.90" height="4.90" fill="#2f55a4"/>
<rect x="630.86" y="85.17" width="4.90" height="4.90" fill="#2f55a4"/>
<rect x="639.84" y="95.82" width="4.90" height="4.90" fill="#2f55a4"/>
<rect x="648.82" y="97.56" width="4.90" height="4.90" fill="#2f55a4"/>
<rect x="657.79" y="97.06" width="4.90" height="4.90" fill="#2f55a4"/>
<path d="M561.50 40.07V70.78M559.70 40.07H563.30M559.70 70.78H563.30" fill="none" stroke="#808285" stroke-width="0.85"/>
<path d="M570.48 52.21V75.98M568.68 52.21H572.28M568.68 75.98H572.28" fill="none" stroke="#808285" stroke-width="0.85"/>
<path d="M579.45 62.86V77.72M577.65 62.86H581.25M577.65 77.72H581.25" fill="none" stroke="#808285" stroke-width="0.85"/>
<path d="M588.43 87.62V93.57M586.63 87.62H590.23M586.63 93.57H590.23" fill="none" stroke="#808285" stroke-width="0.85"/>
<path d="M597.41 84.90V91.84M595.61 84.90H599.21M595.61 91.84H599.21" fill="none" stroke="#808285" stroke-width="0.85"/>
<path d="M606.38 77.22V88.12M604.58 77.22H608.18M604.58 88.12H608.18" fill="none" stroke="#808285" stroke-width="0.85"/>
<path d="M615.36 35.86V61.62M613.56 35.86H617.16M613.56 61.62H617.16" fill="none" stroke="#808285" stroke-width="0.85"/>
<path d="M624.34 44.78V63.60M622.54 44.78H626.14M622.54 63.60H626.14" fill="none" stroke="#808285" stroke-width="0.85"/>
<path d="M633.31 56.91V67.81M631.51 56.91H635.11M631.51 67.81H635.11" fill="none" stroke="#808285" stroke-width="0.85"/>
<path d="M642.29 92.83V98.77M640.49 92.83H644.09M640.49 98.77H644.09" fill="none" stroke="#808285" stroke-width="0.85"/>
<path d="M651.27 93.82V98.77M649.47 93.82H653.07M649.47 98.77H653.07" fill="none" stroke="#808285" stroke-width="0.85"/>
<path d="M660.24 94.06V101.00M658.44 94.06H662.04M658.44 101.00H662.04" fill="none" stroke="#808285" stroke-width="0.85"/>
<polyline points="561.50,55.43 570.48,64.10 579.45,70.29 588.43,90.60 597.41,88.37 606.38,82.67 615.36,48.74 624.34,54.19 633.31,62.36 642.29,95.80 651.27,96.29 660.24,97.53" fill="none" stroke="#808285" stroke-width="1.0"/>
<circle cx="561.50" cy="55.43" r="2.6" fill="#808285"/>
<circle cx="570.48" cy="64.10" r="2.6" fill="#808285"/>
<circle cx="579.45" cy="70.29" r="2.6" fill="#808285"/>
<circle cx="588.43" cy="90.60" r="2.6" fill="#808285"/>
<circle cx="597.41" cy="88.37" r="2.6" fill="#808285"/>
<circle cx="606.38" cy="82.67" r="2.6" fill="#808285"/>
<circle cx="615.36" cy="48.74" r="2.6" fill="#808285"/>
<circle cx="624.34" cy="54.19" r="2.6" fill="#808285"/>
<circle cx="633.31" cy="62.36" r="2.6" fill="#808285"/>
<circle cx="642.29" cy="95.80" r="2.6" fill="#808285"/>
<circle cx="651.27" cy="96.29" r="2.6" fill="#808285"/>
<circle cx="660.24" cy="97.53" r="2.6" fill="#808285"/>
<line x1="654.90" y1="53.20" x2="663.90" y2="53.20" stroke="#808285" stroke-width="0.9"/>
<circle cx="659.40" cy="53.20" r="2.6" fill="#808285"/>
<text x="666.70" y="55.96" font-size="7.7">att</text>
<line x1="654.90" y1="62.80" x2="663.90" y2="62.80" stroke="#2f55a4" stroke-width="0.9"/>
<rect x="656.95" y="60.35" width="4.90" height="4.90" fill="#2f55a4"/>
<text x="666.70" y="65.56" font-size="7.7">det</text>
<text x="1.00" y="9.60" font-size="12.5" font-weight="bold">a</text>
<text x="345.00" y="11.40" font-size="12.5" font-weight="bold">b</text>
<text x="1.20" y="149.60" font-size="12.5" font-weight="bold">c</text>
<text x="102.50" y="158.05" font-size="8.8">SKOV3</text>
<line x1="140.20" y1="155.30" x2="189.90" y2="155.30" stroke="#1f1f1f" stroke-width="0.8"/>
<polygon points="192.90,155.30 188.30,157.00 188.30,153.60" fill="#1f1f1f"/>
<text x="159.00" y="152.00" font-size="8.6" text-anchor="middle"><tspan font-size="5" dy="-2.6">13</tspan><tspan dy="2.6">C</tspan><tspan font-size="5" dy="1.6">6</tspan><tspan dy="-1.6">-Gluc</tspan></text>
<rect x="200.20" y="153.20" width="12.60" height="4.40" fill="#c9cbcb" stroke="#1f1f1f" stroke-width="0.7"/>
<text x="217.00" y="158.25" font-size="8.8">unlabeled</text>
<rect x="260.40" y="153.20" width="12.50" height="4.40" fill="#e8878c" stroke="#1f1f1f" stroke-width="0.7"/>
<text x="276.20" y="158.25" font-size="8.8">labeled</text>
<rect x="51.00" y="231.78" width="11.00" height="11.22" fill="#e8878c" stroke="#1f1f1f" stroke-width="0.9"/>
<path d="M56.50 230.94V232.62M54.60 230.94H58.40M54.60 232.62H58.40" fill="none" stroke="#1f1f1f" stroke-width="1.0"/>
<line x1="53.00" y1="242.10" x2="60.00" y2="242.10" stroke="#1f1f1f" stroke-width="0.9"/>
<rect x="67.30" y="192.52" width="11.30" height="50.48" fill="#e8878c" stroke="#1f1f1f" stroke-width="0.9"/>
<path d="M72.95 188.32V196.45M71.05 188.32H74.85M71.05 196.45H74.85" fill="none" stroke="#1f1f1f" stroke-width="1.0"/>
<line x1="69.30" y1="242.10" x2="76.60" y2="242.10" stroke="#1f1f1f" stroke-width="0.9"/>
<line x1="45.10" y1="175.25" x2="45.10" y2="243.45" stroke="#1f1f1f" stroke-width="0.95"/>
<line x1="45.10" y1="243.00" x2="84.20" y2="243.00" stroke="#1f1f1f" stroke-width="0.95"/>
<line x1="39.90" y1="243.00" x2="45.10" y2="243.00" stroke="#1f1f1f" stroke-width="0.9"/>
<text x="36.80" y="246.04" font-size="8.5" text-anchor="end">0</text>
<line x1="39.90" y1="220.57" x2="45.10" y2="220.57" stroke="#1f1f1f" stroke-width="0.9"/>
<text x="36.80" y="223.61" font-size="8.5" text-anchor="end">4</text>
<line x1="39.90" y1="198.13" x2="45.10" y2="198.13" stroke="#1f1f1f" stroke-width="0.9"/>
<text x="36.80" y="201.18" font-size="8.5" text-anchor="end">8</text>
<line x1="39.90" y1="175.70" x2="45.10" y2="175.70" stroke="#1f1f1f" stroke-width="0.9"/>
<text x="36.80" y="178.74" font-size="8.5" text-anchor="end">12</text>
<text x="64.30" y="178.22" font-size="9" text-anchor="middle">Pyr</text>
<text x="56.50" y="251.78" font-size="8.6" text-anchor="middle">att</text>
<text x="73.00" y="251.78" font-size="8.6" text-anchor="middle">det</text>
<text transform="translate(18.80 209.60) rotate(-90)" y="3.04" font-size="8.5" text-anchor="middle">Enrichement (×10<tspan dy="-3.6" font-size="6.8">7</tspan><tspan dy="3.6">)</tspan></text>
<rect x="147.70" y="231.88" width="10.60" height="11.12" fill="#e8878c" stroke="#1f1f1f" stroke-width="0.9"/>
<path d="M153.00 228.44V235.32M151.10 228.44H154.90M151.10 235.32H154.90" fill="none" stroke="#1f1f1f" stroke-width="1.0"/>
<line x1="149.70" y1="242.10" x2="156.30" y2="242.10" stroke="#1f1f1f" stroke-width="0.9"/>
<rect x="164.00" y="192.69" width="10.60" height="50.31" fill="#e8878c" stroke="#1f1f1f" stroke-width="0.9"/>
<path d="M169.30 185.80V198.51M167.40 185.80H171.20M167.40 198.51H171.20" fill="none" stroke="#1f1f1f" stroke-width="1.0"/>
<line x1="166.00" y1="242.10" x2="172.60" y2="242.10" stroke="#1f1f1f" stroke-width="0.9"/>
<line x1="142.00" y1="176.35" x2="142.00" y2="243.45" stroke="#1f1f1f" stroke-width="0.95"/>
<line x1="142.00" y1="243.00" x2="180.40" y2="243.00" stroke="#1f1f1f" stroke-width="0.95"/>
<line x1="136.80" y1="243.00" x2="142.00" y2="243.00" stroke="#1f1f1f" stroke-width="0.9"/>
<text x="133.70" y="246.04" font-size="8.5" text-anchor="end">0</text>
<line x1="136.80" y1="229.76" x2="142.00" y2="229.76" stroke="#1f1f1f" stroke-width="0.9"/>
<text x="133.70" y="232.80" font-size="8.5" text-anchor="end">5</text>
<line x1="136.80" y1="216.52" x2="142.00" y2="216.52" stroke="#1f1f1f" stroke-width="0.9"/>
<text x="133.70" y="219.56" font-size="8.5" text-anchor="end">10</text>
<line x1="136.80" y1="203.28" x2="142.00" y2="203.28" stroke="#1f1f1f" stroke-width="0.9"/>
<text x="133.70" y="206.32" font-size="8.5" text-anchor="end">15</text>
<line x1="136.80" y1="190.04" x2="142.00" y2="190.04" stroke="#1f1f1f" stroke-width="0.9"/>
<text x="133.70" y="193.08" font-size="8.5" text-anchor="end">20</text>
<line x1="136.80" y1="176.80" x2="142.00" y2="176.80" stroke="#1f1f1f" stroke-width="0.9"/>
<text x="133.70" y="179.84" font-size="8.5" text-anchor="end">25</text>
<text x="164.80" y="178.22" font-size="9" text-anchor="middle">Lac</text>
<text x="152.70" y="251.78" font-size="8.6" text-anchor="middle">att</text>
<text x="169.30" y="251.78" font-size="8.6" text-anchor="middle">det</text>
<text transform="translate(113.80 209.60) rotate(-90)" y="3.04" font-size="8.5" text-anchor="middle">Enrichement (×10<tspan dy="-3.6" font-size="6.8">8</tspan><tspan dy="3.6">)</tspan></text>
<rect x="242.70" y="208.50" width="10.80" height="26.60" fill="#e8878c" stroke="#1f1f1f" stroke-width="0.9"/>
<rect x="242.70" y="235.10" width="10.80" height="7.90" fill="#c9cbcb" stroke="#1f1f1f" stroke-width="0.9"/>
<path d="M248.10 234.48V235.73M246.20 234.48H250.00M246.20 235.73H250.00" fill="none" stroke="#1f1f1f" stroke-width="1.0"/>
<path d="M248.10 200.19V215.57M246.20 200.19H250.00M246.20 215.57H250.00" fill="none" stroke="#1f1f1f" stroke-width="1.0"/>
<rect x="259.50" y="192.29" width="10.80" height="4.99" fill="#e8878c" stroke="#1f1f1f" stroke-width="0.9"/>
<rect x="259.50" y="197.28" width="10.80" height="45.72" fill="#c9cbcb" stroke="#1f1f1f" stroke-width="0.9"/>
<path d="M264.90 190.63V205.18M263.00 190.63H266.80M263.00 205.18H266.80" fill="none" stroke="#1f1f1f" stroke-width="1.0"/>
<path d="M264.90 188.14V194.37M263.00 188.14H266.80M263.00 194.37H266.80" fill="none" stroke="#1f1f1f" stroke-width="1.0"/>
<line x1="237.70" y1="176.05" x2="237.70" y2="243.45" stroke="#1f1f1f" stroke-width="0.95"/>
<line x1="237.70" y1="243.00" x2="275.30" y2="243.00" stroke="#1f1f1f" stroke-width="0.95"/>
<line x1="232.50" y1="243.00" x2="237.70" y2="243.00" stroke="#1f1f1f" stroke-width="0.9"/>
<text x="229.40" y="246.04" font-size="8.5" text-anchor="end">0</text>
<line x1="232.50" y1="226.38" x2="237.70" y2="226.38" stroke="#1f1f1f" stroke-width="0.9"/>
<text x="229.40" y="229.42" font-size="8.5" text-anchor="end">4</text>
<line x1="232.50" y1="209.75" x2="237.70" y2="209.75" stroke="#1f1f1f" stroke-width="0.9"/>
<text x="229.40" y="212.79" font-size="8.5" text-anchor="end">8</text>
<line x1="232.50" y1="193.12" x2="237.70" y2="193.12" stroke="#1f1f1f" stroke-width="0.9"/>
<text x="229.40" y="196.17" font-size="8.5" text-anchor="end">12</text>
<line x1="232.50" y1="176.50" x2="237.70" y2="176.50" stroke="#1f1f1f" stroke-width="0.9"/>
<text x="229.40" y="179.54" font-size="8.5" text-anchor="end">16</text>
<text x="257.20" y="178.22" font-size="9" text-anchor="middle">Cit</text>
<text x="248.20" y="251.78" font-size="8.6" text-anchor="middle">att</text>
<text x="264.80" y="251.78" font-size="8.6" text-anchor="middle">det</text>
<text transform="translate(209.50 209.60) rotate(-90)" y="3.04" font-size="8.5" text-anchor="middle">Enrichement (×10<tspan dy="-3.6" font-size="6.8">7</tspan><tspan dy="3.6">)</tspan></text>
<rect x="338.60" y="210.81" width="10.00" height="23.14" fill="#e8878c" stroke="#1f1f1f" stroke-width="0.9"/>
<rect x="338.60" y="233.96" width="10.00" height="9.04" fill="#c9cbcb" stroke="#1f1f1f" stroke-width="0.9"/>
<path d="M343.60 230.23V237.95M341.70 230.23H345.50M341.70 237.95H345.50" fill="none" stroke="#1f1f1f" stroke-width="1.0"/>
<path d="M343.60 205.76V215.07M341.70 205.76H345.50M341.70 215.07H345.50" fill="none" stroke="#1f1f1f" stroke-width="1.0"/>
<rect x="354.90" y="187.41" width="10.80" height="5.05" fill="#e8878c" stroke="#1f1f1f" stroke-width="0.9"/>
<rect x="354.90" y="192.46" width="10.80" height="50.54" fill="#c9cbcb" stroke="#1f1f1f" stroke-width="0.9"/>
<path d="M360.30 189.27V195.12M358.40 189.27H362.20M358.40 195.12H362.20" fill="none" stroke="#1f1f1f" stroke-width="1.0"/>
<path d="M360.30 186.34V188.74M358.40 186.34H362.20M358.40 188.74H362.20" fill="none" stroke="#1f1f1f" stroke-width="1.0"/>
<line x1="333.00" y1="176.05" x2="333.00" y2="243.45" stroke="#1f1f1f" stroke-width="0.95"/>
<line x1="333.00" y1="243.00" x2="367.70" y2="243.00" stroke="#1f1f1f" stroke-width="0.95"/>
<line x1="327.80" y1="243.00" x2="333.00" y2="243.00" stroke="#1f1f1f" stroke-width="0.9"/>
<text x="324.70" y="246.04" font-size="8.5" text-anchor="end">0</text>
<line x1="327.80" y1="229.70" x2="333.00" y2="229.70" stroke="#1f1f1f" stroke-width="0.9"/>
<text x="324.70" y="232.74" font-size="8.5" text-anchor="end">5</text>
<line x1="327.80" y1="216.40" x2="333.00" y2="216.40" stroke="#1f1f1f" stroke-width="0.9"/>
<text x="324.70" y="219.44" font-size="8.5" text-anchor="end">10</text>
<line x1="327.80" y1="203.10" x2="333.00" y2="203.10" stroke="#1f1f1f" stroke-width="0.9"/>
<text x="324.70" y="206.14" font-size="8.5" text-anchor="end">15</text>
<line x1="327.80" y1="189.80" x2="333.00" y2="189.80" stroke="#1f1f1f" stroke-width="0.9"/>
<text x="324.70" y="192.84" font-size="8.5" text-anchor="end">20</text>
<line x1="327.80" y1="176.50" x2="333.00" y2="176.50" stroke="#1f1f1f" stroke-width="0.9"/>
<text x="324.70" y="179.54" font-size="8.5" text-anchor="end">25</text>
<text x="353.20" y="178.22" font-size="9" text-anchor="middle">acCoA</text>
<text x="343.60" y="251.78" font-size="8.6" text-anchor="middle">att</text>
<text x="360.20" y="251.78" font-size="8.6" text-anchor="middle">det</text>
<text transform="translate(306.70 209.60) rotate(-90)" y="3.04" font-size="8.5" text-anchor="middle">Enrichement (×10<tspan dy="-3.6" font-size="6.8">6</tspan><tspan dy="3.6">)</tspan></text>
<text x="1.20" y="275.00" font-size="12.5" font-weight="bold">d</text>
<text x="100.00" y="287.75" font-size="8.8">OVCA433</text>
<line x1="145.20" y1="285.20" x2="194.40" y2="285.20" stroke="#1f1f1f" stroke-width="0.8"/>
<polygon points="197.40,285.20 192.80,286.90 192.80,283.50" fill="#1f1f1f"/>
<text x="164.00" y="280.90" font-size="8.6" text-anchor="middle"><tspan font-size="5" dy="-2.6">13</tspan><tspan dy="2.6">C</tspan><tspan font-size="5" dy="1.6">6</tspan><tspan dy="-1.6">-Gluc</tspan></text>
<rect x="206.00" y="282.60" width="12.10" height="4.30" fill="#c9cbcb" stroke="#1f1f1f" stroke-width="0.7"/>
<text x="222.20" y="287.60" font-size="8.8">unlabeled</text>
<rect x="265.60" y="282.60" width="12.30" height="4.30" fill="#e8878c" stroke="#1f1f1f" stroke-width="0.7"/>
<text x="281.70" y="287.60" font-size="8.8">labeled</text>
<rect x="52.80" y="353.76" width="10.50" height="13.54" fill="#e8878c" stroke="#1f1f1f" stroke-width="0.9"/>
<path d="M58.05 349.90V357.63M56.15 349.90H59.95M56.15 357.63H59.95" fill="none" stroke="#1f1f1f" stroke-width="1.0"/>
<line x1="54.80" y1="366.40" x2="61.30" y2="366.40" stroke="#1f1f1f" stroke-width="0.9"/>
<rect x="69.60" y="317.85" width="10.80" height="49.45" fill="#e8878c" stroke="#1f1f1f" stroke-width="0.9"/>
<path d="M75.00 305.97V329.73M73.10 305.97H76.90M73.10 329.73H76.90" fill="none" stroke="#1f1f1f" stroke-width="1.0"/>
<line x1="71.60" y1="366.40" x2="78.40" y2="366.40" stroke="#1f1f1f" stroke-width="0.9"/>
<line x1="47.70" y1="300.55" x2="47.70" y2="367.75" stroke="#1f1f1f" stroke-width="0.95"/>
<line x1="47.70" y1="367.30" x2="86.20" y2="367.30" stroke="#1f1f1f" stroke-width="0.95"/>
<line x1="42.50" y1="367.30" x2="47.70" y2="367.30" stroke="#1f1f1f" stroke-width="0.9"/>
<text x="39.40" y="370.34" font-size="8.5" text-anchor="end">0</text>
<line x1="42.50" y1="345.20" x2="47.70" y2="345.20" stroke="#1f1f1f" stroke-width="0.9"/>
<text x="39.40" y="348.24" font-size="8.5" text-anchor="end">4</text>
<line x1="42.50" y1="323.10" x2="47.70" y2="323.10" stroke="#1f1f1f" stroke-width="0.9"/>
<text x="39.40" y="326.14" font-size="8.5" text-anchor="end">8</text>
<line x1="42.50" y1="301.00" x2="47.70" y2="301.00" stroke="#1f1f1f" stroke-width="0.9"/>
<text x="39.40" y="304.04" font-size="8.5" text-anchor="end">12</text>
<text x="66.60" y="304.22" font-size="9" text-anchor="middle">Pyr</text>
<text x="58.30" y="377.48" font-size="8.6" text-anchor="middle">att</text>
<text x="74.90" y="377.48" font-size="8.6" text-anchor="middle">det</text>
<text transform="translate(22.10 334.00) rotate(-90)" y="3.04" font-size="8.5" text-anchor="middle">Enrichement (×10<tspan dy="-3.6" font-size="6.8">7</tspan><tspan dy="3.6">)</tspan></text>
<rect x="147.70" y="357.48" width="10.60" height="11.32" fill="#e8878c" stroke="#1f1f1f" stroke-width="0.9"/>
<path d="M153.00 350.49V364.80M151.10 350.49H154.90M151.10 364.80H154.90" fill="none" stroke="#1f1f1f" stroke-width="1.0"/>
<line x1="149.70" y1="367.90" x2="156.30" y2="367.90" stroke="#1f1f1f" stroke-width="0.9"/>
<rect x="164.00" y="319.85" width="10.80" height="48.95" fill="#e8878c" stroke="#1f1f1f" stroke-width="0.9"/>
<path d="M169.40 312.86V326.51M167.50 312.86H171.30M167.50 326.51H171.30" fill="none" stroke="#1f1f1f" stroke-width="1.0"/>
<line x1="166.00" y1="367.90" x2="172.80" y2="367.90" stroke="#1f1f1f" stroke-width="0.9"/>
<line x1="142.30" y1="301.75" x2="142.30" y2="369.25" stroke="#1f1f1f" stroke-width="0.95"/>
<line x1="142.30" y1="368.80" x2="180.90" y2="368.80" stroke="#1f1f1f" stroke-width="0.95"/>
<line x1="137.10" y1="368.80" x2="142.30" y2="368.80" stroke="#1f1f1f" stroke-width="0.9"/>
<text x="134.00" y="371.84" font-size="8.5" text-anchor="end">0</text>
<line x1="137.10" y1="352.15" x2="142.30" y2="352.15" stroke="#1f1f1f" stroke-width="0.9"/>
<text x="134.00" y="355.19" font-size="8.5" text-anchor="end">5</text>
<line x1="137.10" y1="335.50" x2="142.30" y2="335.50" stroke="#1f1f1f" stroke-width="0.9"/>
<text x="134.00" y="338.54" font-size="8.5" text-anchor="end">10</text>
<line x1="137.10" y1="318.85" x2="142.30" y2="318.85" stroke="#1f1f1f" stroke-width="0.9"/>
<text x="134.00" y="321.89" font-size="8.5" text-anchor="end">15</text>
<line x1="137.10" y1="302.20" x2="142.30" y2="302.20" stroke="#1f1f1f" stroke-width="0.9"/>
<text x="134.00" y="305.24" font-size="8.5" text-anchor="end">20</text>
<text x="164.80" y="304.22" font-size="9" text-anchor="middle">Lac</text>
<text x="152.70" y="377.48" font-size="8.6" text-anchor="middle">att</text>
<text x="169.00" y="377.48" font-size="8.6" text-anchor="middle">det</text>
<text transform="translate(116.30 335.00) rotate(-90)" y="3.04" font-size="8.5" text-anchor="middle">Enrichement (×10<tspan dy="-3.6" font-size="6.8">8</tspan><tspan dy="3.6">)</tspan></text>
<rect x="243.20" y="326.13" width="10.80" height="33.09" fill="#e8878c" stroke="#1f1f1f" stroke-width="0.9"/>
<rect x="243.20" y="359.23" width="10.80" height="9.57" fill="#c9cbcb" stroke="#1f1f1f" stroke-width="0.9"/>
<path d="M248.60 357.56V360.48M246.70 357.56H250.50M246.70 360.48H250.50" fill="none" stroke="#1f1f1f" stroke-width="1.0"/>
<path d="M248.60 322.18V329.67M246.70 322.18H250.50M246.70 329.67H250.50" fill="none" stroke="#1f1f1f" stroke-width="1.0"/>
<rect x="260.30" y="310.32" width="10.80" height="5.62" fill="#e8878c" stroke="#1f1f1f" stroke-width="0.9"/>
<rect x="260.30" y="315.94" width="10.80" height="52.86" fill="#c9cbcb" stroke="#1f1f1f" stroke-width="0.9"/>
<path d="M265.70 310.11V324.68M263.80 310.11H267.60M263.80 324.68H267.60" fill="none" stroke="#1f1f1f" stroke-width="1.0"/>
<path d="M265.70 306.99V313.86M263.80 306.99H267.60M263.80 313.86H267.60" fill="none" stroke="#1f1f1f" stroke-width="1.0"/>
<line x1="238.20" y1="301.75" x2="238.20" y2="369.25" stroke="#1f1f1f" stroke-width="0.95"/>
<line x1="238.20" y1="368.80" x2="276.60" y2="368.80" stroke="#1f1f1f" stroke-width="0.95"/>
<line x1="233.00" y1="368.80" x2="238.20" y2="368.80" stroke="#1f1f1f" stroke-width="0.9"/>
<text x="229.90" y="371.84" font-size="8.5" text-anchor="end">0</text>
<line x1="233.00" y1="352.15" x2="238.20" y2="352.15" stroke="#1f1f1f" stroke-width="0.9"/>
<text x="229.90" y="355.19" font-size="8.5" text-anchor="end">4</text>
<line x1="233.00" y1="335.50" x2="238.20" y2="335.50" stroke="#1f1f1f" stroke-width="0.9"/>
<text x="229.90" y="338.54" font-size="8.5" text-anchor="end">8</text>
<line x1="233.00" y1="318.85" x2="238.20" y2="318.85" stroke="#1f1f1f" stroke-width="0.9"/>
<text x="229.90" y="321.89" font-size="8.5" text-anchor="end">12</text>
<line x1="233.00" y1="302.20" x2="238.20" y2="302.20" stroke="#1f1f1f" stroke-width="0.9"/>
<text x="229.90" y="305.24" font-size="8.5" text-anchor="end">16</text>
<text x="255.80" y="303.42" font-size="9" text-anchor="middle">Cit</text>
<text x="249.00" y="377.48" font-size="8.6" text-anchor="middle">att</text>
<text x="265.30" y="377.48" font-size="8.6" text-anchor="middle">det</text>
<text transform="translate(211.30 335.00) rotate(-90)" y="3.04" font-size="8.5" text-anchor="middle">Enrichement (×10<tspan dy="-3.6" font-size="6.8">7</tspan><tspan dy="3.6">)</tspan></text>
<rect x="339.40" y="335.81" width="10.60" height="22.88" fill="#e8878c" stroke="#1f1f1f" stroke-width="0.9"/>
<rect x="339.40" y="358.69" width="10.60" height="9.31" fill="#c9cbcb" stroke="#1f1f1f" stroke-width="0.9"/>
<path d="M344.70 354.97V362.41M342.80 354.97H346.60M342.80 362.41H346.60" fill="none" stroke="#1f1f1f" stroke-width="1.0"/>
<path d="M344.70 333.42V338.47M342.80 333.42H346.60M342.80 338.47H346.60" fill="none" stroke="#1f1f1f" stroke-width="1.0"/>
<rect x="355.70" y="317.73" width="11.30" height="3.72" fill="#e8878c" stroke="#1f1f1f" stroke-width="0.9"/>
<rect x="355.70" y="321.45" width="11.30" height="46.55" fill="#c9cbcb" stroke="#1f1f1f" stroke-width="0.9"/>
<path d="M361.35 314.00V329.70M359.45 314.00H363.25M359.45 329.70H363.25" fill="none" stroke="#1f1f1f" stroke-width="1.0"/>
<path d="M361.35 312.94V319.85M359.45 312.94H363.25M359.45 319.85H363.25" fill="none" stroke="#1f1f1f" stroke-width="1.0"/>
<line x1="333.10" y1="301.05" x2="333.10" y2="368.45" stroke="#1f1f1f" stroke-width="0.95"/>
<line x1="333.10" y1="368.00" x2="372.00" y2="368.00" stroke="#1f1f1f" stroke-width="0.95"/>
<line x1="327.90" y1="368.00" x2="333.10" y2="368.00" stroke="#1f1f1f" stroke-width="0.9"/>
<text x="324.80" y="371.04" font-size="8.5" text-anchor="end">0</text>
<line x1="327.90" y1="354.70" x2="333.10" y2="354.70" stroke="#1f1f1f" stroke-width="0.9"/>
<text x="324.80" y="357.74" font-size="8.5" text-anchor="end">5</text>
<line x1="327.90" y1="341.40" x2="333.10" y2="341.40" stroke="#1f1f1f" stroke-width="0.9"/>
<text x="324.80" y="344.44" font-size="8.5" text-anchor="end">10</text>
<line x1="327.90" y1="328.10" x2="333.10" y2="328.10" stroke="#1f1f1f" stroke-width="0.9"/>
<text x="324.80" y="331.14" font-size="8.5" text-anchor="end">15</text>
<line x1="327.90" y1="314.80" x2="333.10" y2="314.80" stroke="#1f1f1f" stroke-width="0.9"/>
<text x="324.80" y="317.84" font-size="8.5" text-anchor="end">20</text>
<line x1="327.90" y1="301.50" x2="333.10" y2="301.50" stroke="#1f1f1f" stroke-width="0.9"/>
<text x="324.80" y="304.54" font-size="8.5" text-anchor="end">25</text>
<text x="351.40" y="303.42" font-size="9" text-anchor="middle">acCoA</text>
<text x="343.90" y="377.48" font-size="8.6" text-anchor="middle">att</text>
<text x="360.70" y="377.48" font-size="8.6" text-anchor="middle">det</text>
<text transform="translate(305.40 335.00) rotate(-90)" y="3.04" font-size="8.5" text-anchor="middle">Enrichement (×10<tspan dy="-3.6" font-size="6.8">6</tspan><tspan dy="3.6">)</tspan></text>
<text x="421.00" y="149.60" font-size="12.5" font-weight="bold">f</text>
<text x="452.70" y="160.05" font-size="8.8">SKOV3</text>
<line x1="490.30" y1="157.40" x2="540.80" y2="157.40" stroke="#1f1f1f" stroke-width="0.8"/>
<polygon points="543.80,157.40 539.20,159.10 539.20,155.70" fill="#1f1f1f"/>
<text x="515.40" y="152.00" font-size="8.6" text-anchor="middle"><tspan font-size="5" dy="-2.6">13</tspan><tspan dy="2.6">C</tspan><tspan font-size="5" dy="1.6">5</tspan><tspan dy="-1.6">-Gln</tspan></text>
<rect x="551.30" y="155.20" width="12.30" height="4.20" fill="#c9cbcb" stroke="#1f1f1f" stroke-width="0.7"/>
<text x="567.80" y="160.15" font-size="8.8">unlabeled</text>
<rect x="613.50" y="155.20" width="12.50" height="4.20" fill="#1b9ad6" stroke="#1f1f1f" stroke-width="0.7"/>
<text x="626.60" y="160.15" font-size="8.8">labeled</text>
<rect x="479.00" y="205.49" width="10.80" height="3.72" fill="#1b9ad6" stroke="#1f1f1f" stroke-width="0.9"/>
<rect x="479.00" y="209.22" width="10.80" height="33.78" fill="#c9cbcb" stroke="#1f1f1f" stroke-width="0.9"/>
<path d="M484.40 206.56V212.14M482.50 206.56H486.30M482.50 212.14H486.30" fill="none" stroke="#1f1f1f" stroke-width="1.0"/>
<path d="M484.40 204.43V207.09M482.50 204.43H486.30M482.50 207.09H486.30" fill="none" stroke="#1f1f1f" stroke-width="1.0"/>
<rect x="496.10" y="192.46" width="10.80" height="43.09" fill="#1b9ad6" stroke="#1f1f1f" stroke-width="0.9"/>
<rect x="496.10" y="235.55" width="10.80" height="7.45" fill="#c9cbcb" stroke="#1f1f1f" stroke-width="0.9"/>
<path d="M501.50 233.42V236.88M499.60 233.42H503.40M499.60 236.88H503.40" fill="none" stroke="#1f1f1f" stroke-width="1.0"/>
<path d="M501.50 183.95V199.64M499.60 183.95H503.40M499.60 199.64H503.40" fill="none" stroke="#1f1f1f" stroke-width="1.0"/>
<line x1="474.00" y1="176.05" x2="474.00" y2="243.45" stroke="#1f1f1f" stroke-width="0.95"/>
<line x1="474.00" y1="243.00" x2="512.90" y2="243.00" stroke="#1f1f1f" stroke-width="0.95"/>
<line x1="468.80" y1="243.00" x2="474.00" y2="243.00" stroke="#1f1f1f" stroke-width="0.9"/>
<text x="465.70" y="246.04" font-size="8.5" text-anchor="end">0</text>
<line x1="468.80" y1="229.70" x2="474.00" y2="229.70" stroke="#1f1f1f" stroke-width="0.9"/>
<text x="465.70" y="232.74" font-size="8.5" text-anchor="end">5</text>
<line x1="468.80" y1="216.40" x2="474.00" y2="216.40" stroke="#1f1f1f" stroke-width="0.9"/>
<text x="465.70" y="219.44" font-size="8.5" text-anchor="end">10</text>
<line x1="468.80" y1="203.10" x2="474.00" y2="203.10" stroke="#1f1f1f" stroke-width="0.9"/>
<text x="465.70" y="206.14" font-size="8.5" text-anchor="end">15</text>
<line x1="468.80" y1="189.80" x2="474.00" y2="189.80" stroke="#1f1f1f" stroke-width="0.9"/>
<text x="465.70" y="192.84" font-size="8.5" text-anchor="end">20</text>
<line x1="468.80" y1="176.50" x2="474.00" y2="176.50" stroke="#1f1f1f" stroke-width="0.9"/>
<text x="465.70" y="179.54" font-size="8.5" text-anchor="end">25</text>
<text x="493.30" y="177.72" font-size="9" text-anchor="middle">acCoA</text>
<text x="484.50" y="254.78" font-size="8.6" text-anchor="middle">att</text>
<text x="501.60" y="254.78" font-size="8.6" text-anchor="middle">det</text>
<text transform="translate(447.60 209.60) rotate(-90)" y="3.04" font-size="8.5" text-anchor="middle">Enrichement (×10<tspan dy="-3.6" font-size="6.8">6</tspan><tspan dy="3.6">)</tspan></text>
<rect x="565.20" y="193.24" width="10.60" height="15.26" fill="#1b9ad6" stroke="#1f1f1f" stroke-width="0.9"/>
<rect x="565.20" y="208.50" width="10.60" height="33.30" fill="#c9cbcb" stroke="#1f1f1f" stroke-width="0.9"/>
<path d="M570.50 206.56V210.44M568.60 206.56H572.40M568.60 210.44H572.40" fill="none" stroke="#1f1f1f" stroke-width="1.0"/>
<path d="M570.50 190.74V195.46M568.60 190.74H572.40M568.60 195.46H572.40" fill="none" stroke="#1f1f1f" stroke-width="1.0"/>
<rect x="582.10" y="179.08" width="10.80" height="43.85" fill="#1b9ad6" stroke="#1f1f1f" stroke-width="0.9"/>
<rect x="582.10" y="222.93" width="10.80" height="18.87" fill="#c9cbcb" stroke="#1f1f1f" stroke-width="0.9"/>
<path d="M587.50 215.99V229.31M585.60 215.99H589.40M585.60 229.31H589.40" fill="none" stroke="#1f1f1f" stroke-width="1.0"/>
<path d="M587.50 177.42V180.75M585.60 177.42H589.40M585.60 180.75H589.40" fill="none" stroke="#1f1f1f" stroke-width="1.0"/>
<line x1="560.00" y1="174.75" x2="560.00" y2="242.25" stroke="#1f1f1f" stroke-width="0.95"/>
<line x1="560.00" y1="241.80" x2="598.40" y2="241.80" stroke="#1f1f1f" stroke-width="0.95"/>
<line x1="554.80" y1="241.80" x2="560.00" y2="241.80" stroke="#1f1f1f" stroke-width="0.9"/>
<text x="551.70" y="244.84" font-size="8.5" text-anchor="end">0</text>
<line x1="554.80" y1="219.60" x2="560.00" y2="219.60" stroke="#1f1f1f" stroke-width="0.9"/>
<text x="551.70" y="222.64" font-size="8.5" text-anchor="end">4</text>
<line x1="554.80" y1="197.40" x2="560.00" y2="197.40" stroke="#1f1f1f" stroke-width="0.9"/>
<text x="551.70" y="200.44" font-size="8.5" text-anchor="end">8</text>
<line x1="554.80" y1="175.20" x2="560.00" y2="175.20" stroke="#1f1f1f" stroke-width="0.9"/>
<text x="551.70" y="178.24" font-size="8.5" text-anchor="end">12</text>
<text x="576.30" y="175.22" font-size="9" text-anchor="middle">Cit</text>
<text x="567.50" y="251.08" font-size="8.6" text-anchor="middle">att</text>
<text x="584.60" y="251.08" font-size="8.6" text-anchor="middle">det</text>
<text transform="translate(534.40 208.50) rotate(-90)" y="3.04" font-size="8.5" text-anchor="middle">Enrichement (×10<tspan dy="-3.6" font-size="6.8">7</tspan><tspan dy="3.6">)</tspan></text>
<rect x="646.20" y="190.19" width="10.80" height="14.98" fill="#1b9ad6" stroke="#1f1f1f" stroke-width="0.9"/>
<rect x="646.20" y="205.17" width="10.80" height="36.63" fill="#c9cbcb" stroke="#1f1f1f" stroke-width="0.9"/>
<path d="M651.60 201.84V208.50M649.70 201.84H653.50M649.70 208.50H653.50" fill="none" stroke="#1f1f1f" stroke-width="1.0"/>
<path d="M651.60 188.52V191.85M649.70 188.52H653.50M649.70 191.85H653.50" fill="none" stroke="#1f1f1f" stroke-width="1.0"/>
<rect x="663.20" y="183.94" width="10.60" height="38.71" fill="#1b9ad6" stroke="#1f1f1f" stroke-width="0.9"/>
<rect x="663.20" y="222.65" width="10.60" height="19.15" fill="#c9cbcb" stroke="#1f1f1f" stroke-width="0.9"/>
<path d="M668.50 220.99V224.32M666.60 220.99H670.40M666.60 224.32H670.40" fill="none" stroke="#1f1f1f" stroke-width="1.0"/>
<path d="M668.50 182.69V185.19M666.60 182.69H670.40M666.60 185.19H670.40" fill="none" stroke="#1f1f1f" stroke-width="1.0"/>
<line x1="641.10" y1="174.75" x2="641.10" y2="242.25" stroke="#1f1f1f" stroke-width="0.95"/>
<line x1="641.10" y1="241.80" x2="680.00" y2="241.80" stroke="#1f1f1f" stroke-width="0.95"/>
<line x1="635.90" y1="241.80" x2="641.10" y2="241.80" stroke="#1f1f1f" stroke-width="0.9"/>
<text x="632.80" y="244.84" font-size="8.5" text-anchor="end">0</text>
<line x1="635.90" y1="225.15" x2="641.10" y2="225.15" stroke="#1f1f1f" stroke-width="0.9"/>
<text x="632.80" y="228.19" font-size="8.5" text-anchor="end">2</text>
<line x1="635.90" y1="208.50" x2="641.10" y2="208.50" stroke="#1f1f1f" stroke-width="0.9"/>
<text x="632.80" y="211.54" font-size="8.5" text-anchor="end">4</text>
<line x1="635.90" y1="191.85" x2="641.10" y2="191.85" stroke="#1f1f1f" stroke-width="0.9"/>
<text x="632.80" y="194.89" font-size="8.5" text-anchor="end">6</text>
<line x1="635.90" y1="175.20" x2="641.10" y2="175.20" stroke="#1f1f1f" stroke-width="0.9"/>
<text x="632.80" y="178.24" font-size="8.5" text-anchor="end">8</text>
<text x="658.70" y="175.22" font-size="9" text-anchor="middle">Mal</text>
<text x="650.70" y="251.08" font-size="8.6" text-anchor="middle">att</text>
<text x="668.30" y="251.08" font-size="8.6" text-anchor="middle">det</text>
<text transform="translate(618.50 208.50) rotate(-90)" y="3.04" font-size="8.5" text-anchor="middle">Enrichement (×10<tspan dy="-3.6" font-size="6.8">7</tspan><tspan dy="3.6">)</tspan></text>
<text x="421.00" y="275.60" font-size="12.5" font-weight="bold">g</text>
<text x="448.90" y="285.75" font-size="8.8">OVCA433</text>
<line x1="491.60" y1="283.10" x2="541.90" y2="283.10" stroke="#1f1f1f" stroke-width="0.8"/>
<polygon points="544.90,283.10 540.30,284.80 540.30,281.40" fill="#1f1f1f"/>
<text x="516.70" y="277.80" font-size="8.6" text-anchor="middle"><tspan font-size="5" dy="-2.6">13</tspan><tspan dy="2.6">C</tspan><tspan font-size="5" dy="1.6">5</tspan><tspan dy="-1.6">-Gln</tspan></text>
<rect x="552.50" y="280.50" width="12.50" height="4.20" fill="#c9cbcb" stroke="#1f1f1f" stroke-width="0.7"/>
<text x="568.90" y="285.45" font-size="8.8">unlabeled</text>
<rect x="614.70" y="280.50" width="12.60" height="4.20" fill="#1b9ad6" stroke="#1f1f1f" stroke-width="0.7"/>
<text x="628.00" y="285.45" font-size="8.8">labeled</text>
<rect x="477.30" y="344.01" width="10.50" height="3.17" fill="#1b9ad6" stroke="#1f1f1f" stroke-width="0.9"/>
<rect x="477.30" y="347.19" width="10.50" height="29.61" fill="#c9cbcb" stroke="#1f1f1f" stroke-width="0.9"/>
<path d="M482.55 342.96V352.48M480.65 342.96H484.45M480.65 352.48H484.45" fill="none" stroke="#1f1f1f" stroke-width="1.0"/>
<path d="M482.55 342.16V345.87M480.65 342.16H484.45M480.65 345.87H484.45" fill="none" stroke="#1f1f1f" stroke-width="1.0"/>
<rect x="494.10" y="322.33" width="10.50" height="44.42" fill="#1b9ad6" stroke="#1f1f1f" stroke-width="0.9"/>
<rect x="494.10" y="366.75" width="10.50" height="10.05" fill="#c9cbcb" stroke="#1f1f1f" stroke-width="0.9"/>
<path d="M499.35 364.64V368.60M497.45 364.64H501.25M497.45 368.60H501.25" fill="none" stroke="#1f1f1f" stroke-width="1.0"/>
<path d="M499.35 318.63V325.24M497.45 318.63H501.25M497.45 325.24H501.25" fill="none" stroke="#1f1f1f" stroke-width="1.0"/>
<line x1="472.20" y1="310.25" x2="472.20" y2="377.25" stroke="#1f1f1f" stroke-width="0.95"/>
<line x1="472.20" y1="376.80" x2="510.40" y2="376.80" stroke="#1f1f1f" stroke-width="0.95"/>
<line x1="467.00" y1="376.80" x2="472.20" y2="376.80" stroke="#1f1f1f" stroke-width="0.9"/>
<text x="463.90" y="379.84" font-size="8.5" text-anchor="end">0</text>
<line x1="467.00" y1="363.58" x2="472.20" y2="363.58" stroke="#1f1f1f" stroke-width="0.9"/>
<text x="463.90" y="366.62" font-size="8.5" text-anchor="end">5</text>
<line x1="467.00" y1="350.36" x2="472.20" y2="350.36" stroke="#1f1f1f" stroke-width="0.9"/>
<text x="463.90" y="353.40" font-size="8.5" text-anchor="end">10</text>
<line x1="467.00" y1="337.14" x2="472.20" y2="337.14" stroke="#1f1f1f" stroke-width="0.9"/>
<text x="463.90" y="340.18" font-size="8.5" text-anchor="end">15</text>
<line x1="467.00" y1="323.92" x2="472.20" y2="323.92" stroke="#1f1f1f" stroke-width="0.9"/>
<text x="463.90" y="326.96" font-size="8.5" text-anchor="end">20</text>
<line x1="467.00" y1="310.70" x2="472.20" y2="310.70" stroke="#1f1f1f" stroke-width="0.9"/>
<text x="463.90" y="313.74" font-size="8.5" text-anchor="end">25</text>
<text x="490.30" y="309.22" font-size="9" text-anchor="middle">acCoA</text>
<text x="482.30" y="384.28" font-size="8.6" text-anchor="middle">att</text>
<text x="499.10" y="384.28" font-size="8.6" text-anchor="middle">det</text>
<text transform="translate(446.90 343.00) rotate(-90)" y="3.04" font-size="8.5" text-anchor="middle">Enrichement (×10<tspan dy="-3.6" font-size="6.8">6</tspan><tspan dy="3.6">)</tspan></text>
<rect x="560.00" y="335.99" width="10.80" height="12.41" fill="#1b9ad6" stroke="#1f1f1f" stroke-width="0.9"/>
<rect x="560.00" y="348.40" width="10.80" height="26.60" fill="#c9cbcb" stroke="#1f1f1f" stroke-width="0.9"/>
<path d="M565.40 342.64V353.72M563.50 342.64H567.30M563.50 353.72H567.30" fill="none" stroke="#1f1f1f" stroke-width="1.0"/>
<path d="M565.40 333.33V338.65M563.50 333.33H567.30M563.50 338.65H567.30" fill="none" stroke="#1f1f1f" stroke-width="1.0"/>
<rect x="576.70" y="325.35" width="10.90" height="33.03" fill="#1b9ad6" stroke="#1f1f1f" stroke-width="0.9"/>
<rect x="576.70" y="358.38" width="10.90" height="16.62" fill="#c9cbcb" stroke="#1f1f1f" stroke-width="0.9"/>
<path d="M582.15 354.61V362.14M580.25 354.61H584.05M580.25 362.14H584.05" fill="none" stroke="#1f1f1f" stroke-width="1.0"/>
<path d="M582.15 320.47V329.78M580.25 320.47H584.05M580.25 329.78H584.05" fill="none" stroke="#1f1f1f" stroke-width="1.0"/>
<line x1="554.60" y1="308.05" x2="554.60" y2="375.45" stroke="#1f1f1f" stroke-width="0.95"/>
<line x1="554.60" y1="375.00" x2="593.40" y2="375.00" stroke="#1f1f1f" stroke-width="0.95"/>
<line x1="549.40" y1="375.00" x2="554.60" y2="375.00" stroke="#1f1f1f" stroke-width="0.9"/>
<text x="546.30" y="378.04" font-size="8.5" text-anchor="end">0</text>
<line x1="549.40" y1="352.83" x2="554.60" y2="352.83" stroke="#1f1f1f" stroke-width="0.9"/>
<text x="546.30" y="355.88" font-size="8.5" text-anchor="end">5</text>
<line x1="549.40" y1="330.67" x2="554.60" y2="330.67" stroke="#1f1f1f" stroke-width="0.9"/>
<text x="546.30" y="333.71" font-size="8.5" text-anchor="end">10</text>
<line x1="549.40" y1="308.50" x2="554.60" y2="308.50" stroke="#1f1f1f" stroke-width="0.9"/>
<text x="546.30" y="311.54" font-size="8.5" text-anchor="end">15</text>
<text x="571.50" y="308.42" font-size="9" text-anchor="middle">Cit</text>
<text x="563.40" y="382.88" font-size="8.6" text-anchor="middle">att</text>
<text x="580.50" y="382.88" font-size="8.6" text-anchor="middle">det</text>
<text transform="translate(529.50 341.00) rotate(-90)" y="3.04" font-size="8.5" text-anchor="middle">Enrichement (×10<tspan dy="-3.6" font-size="6.8">7</tspan><tspan dy="3.6">)</tspan></text>
<rect x="640.60" y="326.60" width="10.50" height="15.15" fill="#1b9ad6" stroke="#1f1f1f" stroke-width="0.9"/>
<rect x="640.60" y="341.75" width="10.50" height="33.25" fill="#c9cbcb" stroke="#1f1f1f" stroke-width="0.9"/>
<path d="M645.85 331.41V350.62M643.95 331.41H647.75M643.95 350.62H647.75" fill="none" stroke="#1f1f1f" stroke-width="1.0"/>
<path d="M645.85 324.39V328.82M643.95 324.39H647.75M643.95 328.82H647.75" fill="none" stroke="#1f1f1f" stroke-width="1.0"/>
<rect x="657.40" y="321.43" width="10.20" height="34.36" fill="#1b9ad6" stroke="#1f1f1f" stroke-width="0.9"/>
<rect x="657.40" y="355.79" width="10.20" height="19.21" fill="#c9cbcb" stroke="#1f1f1f" stroke-width="0.9"/>
<path d="M662.50 349.51V361.33M660.60 349.51H664.40M660.60 361.33H664.40" fill="none" stroke="#1f1f1f" stroke-width="1.0"/>
<path d="M662.50 315.15V326.97M660.60 315.15H664.40M660.60 326.97H664.40" fill="none" stroke="#1f1f1f" stroke-width="1.0"/>
<line x1="635.30" y1="308.05" x2="635.30" y2="375.45" stroke="#1f1f1f" stroke-width="0.95"/>
<line x1="635.30" y1="375.00" x2="673.70" y2="375.00" stroke="#1f1f1f" stroke-width="0.95"/>
<line x1="630.10" y1="375.00" x2="635.30" y2="375.00" stroke="#1f1f1f" stroke-width="0.9"/>
<text x="627.00" y="378.04" font-size="8.5" text-anchor="end">0</text>
<line x1="630.10" y1="352.83" x2="635.30" y2="352.83" stroke="#1f1f1f" stroke-width="0.9"/>
<text x="627.00" y="355.88" font-size="8.5" text-anchor="end">3</text>
<line x1="630.10" y1="330.67" x2="635.30" y2="330.67" stroke="#1f1f1f" stroke-width="0.9"/>
<text x="627.00" y="333.71" font-size="8.5" text-anchor="end">6</text>
<line x1="630.10" y1="308.50" x2="635.30" y2="308.50" stroke="#1f1f1f" stroke-width="0.9"/>
<text x="627.00" y="311.54" font-size="8.5" text-anchor="end">9</text>
<text x="653.10" y="308.42" font-size="9" text-anchor="middle">Mal</text>
<text x="646.10" y="382.88" font-size="8.6" text-anchor="middle">att</text>
<text x="663.60" y="382.88" font-size="8.6" text-anchor="middle">det</text>
<text transform="translate(614.20 341.00) rotate(-90)" y="3.04" font-size="8.5" text-anchor="middle">Enrichement (×10<tspan dy="-3.6" font-size="6.8">7</tspan><tspan dy="3.6">)</tspan></text>
<text x="421.00" y="401.00" font-size="12.5" font-weight="bold">h</text>
<rect x="473.90" y="424.76" width="6.00" height="57.44" fill="#fff" stroke="#1f1f1f" stroke-width="1.05"/>
<path d="M476.90 421.84V427.67M475.40 421.84H478.40M475.40 427.67H478.40" fill="none" stroke="#1f1f1f" stroke-width="0.7"/>
<circle cx="475.60" cy="427.09" r="0.9" fill="#1f1f1f"/>
<circle cx="476.90" cy="422.14" r="0.9" fill="#1f1f1f"/>
<circle cx="478.20" cy="424.17" r="0.9" fill="#1f1f1f"/>
<rect x="484.60" y="457.23" width="6.10" height="24.97" fill="#fff" stroke="#b5192e" stroke-width="1.05"/>
<path d="M487.65 450.15V464.30M486.15 450.15H489.15M486.15 464.30H489.15" fill="none" stroke="#b5192e" stroke-width="0.7"/>
<circle cx="486.35" cy="462.89" r="0.9" fill="#b5192e"/>
<circle cx="487.65" cy="450.86" r="0.9" fill="#b5192e"/>
<circle cx="488.95" cy="455.81" r="0.9" fill="#b5192e"/>
<text x="483.10" y="492.91" font-size="8.7" text-anchor="middle">M0</text>
<rect x="503.30" y="478.87" width="6.00" height="3.33" fill="#fff" stroke="#1f1f1f" stroke-width="1.05"/>
<path d="M506.30 478.04V479.70M504.80 478.04H507.80M504.80 479.70H507.80" fill="none" stroke="#1f1f1f" stroke-width="0.7"/>
<circle cx="505.00" cy="479.54" r="0.9" fill="#1f1f1f"/>
<circle cx="506.30" cy="478.12" r="0.9" fill="#1f1f1f"/>
<circle cx="507.60" cy="478.70" r="0.9" fill="#1f1f1f"/>
<rect x="514.00" y="478.87" width="6.10" height="3.33" fill="#fff" stroke="#b5192e" stroke-width="1.05"/>
<path d="M517.05 477.87V479.87M515.55 477.87H518.55M515.55 479.87H518.55" fill="none" stroke="#b5192e" stroke-width="0.7"/>
<circle cx="515.75" cy="479.67" r="0.9" fill="#b5192e"/>
<circle cx="517.05" cy="477.97" r="0.9" fill="#b5192e"/>
<circle cx="518.35" cy="478.67" r="0.9" fill="#b5192e"/>
<text x="512.50" y="492.91" font-size="8.7" text-anchor="middle">M1</text>
<rect x="532.60" y="477.20" width="6.00" height="5.00" fill="#fff" stroke="#1f1f1f" stroke-width="1.05"/>
<path d="M535.60 476.21V478.20M534.10 476.21H537.10M534.10 478.20H537.10" fill="none" stroke="#1f1f1f" stroke-width="0.7"/>
<circle cx="534.30" cy="478.00" r="0.9" fill="#1f1f1f"/>
<circle cx="535.60" cy="476.31" r="0.9" fill="#1f1f1f"/>
<circle cx="536.90" cy="477.01" r="0.9" fill="#1f1f1f"/>
<rect x="543.30" y="472.21" width="6.10" height="9.99" fill="#fff" stroke="#b5192e" stroke-width="1.05"/>
<path d="M546.35 468.46V475.96M544.85 468.46H547.85M544.85 475.96H547.85" fill="none" stroke="#b5192e" stroke-width="0.7"/>
<circle cx="545.05" cy="475.21" r="0.9" fill="#b5192e"/>
<circle cx="546.35" cy="468.84" r="0.9" fill="#b5192e"/>
<circle cx="547.65" cy="471.46" r="0.9" fill="#b5192e"/>
<text x="541.80" y="492.91" font-size="8.7" text-anchor="middle">M2</text>
<rect x="562.00" y="480.53" width="6.00" height="1.67" fill="#fff" stroke="#1f1f1f" stroke-width="1.05"/>
<path d="M565.00 479.70V481.37M563.50 479.70H566.50M563.50 481.37H566.50" fill="none" stroke="#1f1f1f" stroke-width="0.7"/>
<circle cx="563.70" cy="481.20" r="0.9" fill="#1f1f1f"/>
<circle cx="565.00" cy="479.79" r="0.9" fill="#1f1f1f"/>
<circle cx="566.30" cy="480.37" r="0.9" fill="#1f1f1f"/>
<rect x="572.70" y="472.21" width="6.10" height="9.99" fill="#fff" stroke="#b5192e" stroke-width="1.05"/>
<circle cx="574.45" cy="472.61" r="0.9" fill="#b5192e"/>
<circle cx="575.75" cy="471.76" r="0.9" fill="#b5192e"/>
<circle cx="577.05" cy="472.11" r="0.9" fill="#b5192e"/>
<text x="571.20" y="492.91" font-size="8.7" text-anchor="middle">M3</text>
<rect x="591.20" y="469.30" width="6.00" height="12.90" fill="#fff" stroke="#1f1f1f" stroke-width="1.05"/>
<path d="M594.20 468.46V470.13M592.70 468.46H595.70M592.70 470.13H595.70" fill="none" stroke="#1f1f1f" stroke-width="0.7"/>
<circle cx="592.90" cy="469.96" r="0.9" fill="#1f1f1f"/>
<circle cx="594.20" cy="468.55" r="0.9" fill="#1f1f1f"/>
<circle cx="595.50" cy="469.13" r="0.9" fill="#1f1f1f"/>
<rect x="601.90" y="476.79" width="6.10" height="5.41" fill="#fff" stroke="#b5192e" stroke-width="1.05"/>
<path d="M604.95 475.46V478.12M603.45 475.46H606.45M603.45 478.12H606.45" fill="none" stroke="#b5192e" stroke-width="0.7"/>
<circle cx="603.65" cy="477.85" r="0.9" fill="#b5192e"/>
<circle cx="604.95" cy="475.59" r="0.9" fill="#b5192e"/>
<circle cx="606.25" cy="476.52" r="0.9" fill="#b5192e"/>
<text x="600.40" y="492.91" font-size="8.7" text-anchor="middle">M4</text>
<rect x="620.70" y="480.70" width="6.00" height="1.50" fill="#fff" stroke="#1f1f1f" stroke-width="1.05"/>
<circle cx="622.40" cy="481.10" r="0.9" fill="#1f1f1f"/>
<circle cx="623.70" cy="480.25" r="0.9" fill="#1f1f1f"/>
<circle cx="625.00" cy="480.60" r="0.9" fill="#1f1f1f"/>
<rect x="631.40" y="454.73" width="6.10" height="27.47" fill="#fff" stroke="#b5192e" stroke-width="1.05"/>
<path d="M634.45 452.56V456.89M632.95 452.56H635.95M632.95 456.89H635.95" fill="none" stroke="#b5192e" stroke-width="0.7"/>
<circle cx="633.15" cy="456.46" r="0.9" fill="#b5192e"/>
<circle cx="634.45" cy="452.78" r="0.9" fill="#b5192e"/>
<circle cx="635.75" cy="454.29" r="0.9" fill="#b5192e"/>
<text x="629.90" y="492.91" font-size="8.7" text-anchor="middle">M5</text>
<rect x="650.00" y="481.37" width="6.00" height="0.83" fill="#fff" stroke="#1f1f1f" stroke-width="1.05"/>
<circle cx="651.70" cy="481.63" r="0.9" fill="#1f1f1f"/>
<circle cx="653.00" cy="481.07" r="0.9" fill="#1f1f1f"/>
<circle cx="654.30" cy="481.30" r="0.9" fill="#1f1f1f"/>
<rect x="660.70" y="481.12" width="6.10" height="1.08" fill="#fff" stroke="#b5192e" stroke-width="1.05"/>
<circle cx="662.45" cy="481.45" r="0.9" fill="#b5192e"/>
<circle cx="663.75" cy="480.74" r="0.9" fill="#b5192e"/>
<circle cx="665.05" cy="481.03" r="0.9" fill="#b5192e"/>
<text x="659.20" y="492.91" font-size="8.7" text-anchor="middle">M6</text>
<line x1="469.60" y1="415.15" x2="469.60" y2="482.65" stroke="#1f1f1f" stroke-width="0.95"/>
<line x1="469.60" y1="482.20" x2="672.40" y2="482.20" stroke="#1f1f1f" stroke-width="1.1"/>
<line x1="464.60" y1="482.20" x2="469.60" y2="482.20" stroke="#1f1f1f" stroke-width="0.8"/>
<text x="462.70" y="485.21" font-size="8.4" text-anchor="end">0</text>
<line x1="464.60" y1="465.55" x2="469.60" y2="465.55" stroke="#1f1f1f" stroke-width="0.8"/>
<text x="462.70" y="468.56" font-size="8.4" text-anchor="end">20</text>
<line x1="464.60" y1="448.90" x2="469.60" y2="448.90" stroke="#1f1f1f" stroke-width="0.8"/>
<text x="462.70" y="451.91" font-size="8.4" text-anchor="end">40</text>
<line x1="464.60" y1="432.25" x2="469.60" y2="432.25" stroke="#1f1f1f" stroke-width="0.8"/>
<text x="462.70" y="435.26" font-size="8.4" text-anchor="end">60</text>
<line x1="464.60" y1="415.60" x2="469.60" y2="415.60" stroke="#1f1f1f" stroke-width="0.8"/>
<text x="462.70" y="418.61" font-size="8.4" text-anchor="end">80</text>
<text x="563.80" y="408.82" font-size="9" text-anchor="middle">citrate isotopologues in SKOV3</text>
<text transform="translate(443.90 446.50) rotate(-90)" y="3.26" font-size="9.1" text-anchor="middle">% of total enrichment</text>
<rect x="648.60" y="410.90" width="9.30" height="4.70" fill="#fff" stroke="#1f1f1f" stroke-width="0.8"/>
<text x="661.90" y="416.00" font-size="8.8">att</text>
<rect x="648.60" y="420.20" width="9.30" height="5.00" fill="#fff" stroke="#b5192e" stroke-width="0.8"/>
<text x="661.90" y="425.45" font-size="8.8">det</text>
<text x="421.00" y="524.00" font-size="12.5" font-weight="bold">i</text>
<rect x="473.20" y="545.88" width="6.00" height="50.32" fill="#fff" stroke="#1f1f1f" stroke-width="1.05"/>
<path d="M476.20 539.96V551.80M474.70 539.96H477.70M474.70 551.80H477.70" fill="none" stroke="#1f1f1f" stroke-width="0.7"/>
<circle cx="474.90" cy="550.62" r="0.9" fill="#1f1f1f"/>
<circle cx="476.20" cy="540.55" r="0.9" fill="#1f1f1f"/>
<circle cx="477.50" cy="544.70" r="0.9" fill="#1f1f1f"/>
<rect x="483.90" y="571.78" width="6.10" height="24.42" fill="#fff" stroke="#b5192e" stroke-width="1.05"/>
<path d="M486.95 564.75V578.81M485.45 564.75H488.45M485.45 578.81H488.45" fill="none" stroke="#b5192e" stroke-width="0.7"/>
<circle cx="485.65" cy="577.40" r="0.9" fill="#b5192e"/>
<circle cx="486.95" cy="565.45" r="0.9" fill="#b5192e"/>
<circle cx="488.25" cy="570.37" r="0.9" fill="#b5192e"/>
<text x="482.40" y="606.81" font-size="8.7" text-anchor="middle">M0</text>
<rect x="502.60" y="592.87" width="6.00" height="3.33" fill="#fff" stroke="#1f1f1f" stroke-width="1.05"/>
<path d="M505.60 591.98V593.76M504.10 591.98H507.10M504.10 593.76H507.10" fill="none" stroke="#1f1f1f" stroke-width="0.7"/>
<circle cx="504.30" cy="593.58" r="0.9" fill="#1f1f1f"/>
<circle cx="505.60" cy="592.07" r="0.9" fill="#1f1f1f"/>
<circle cx="506.90" cy="592.69" r="0.9" fill="#1f1f1f"/>
<rect x="513.30" y="593.46" width="6.10" height="2.74" fill="#fff" stroke="#b5192e" stroke-width="1.05"/>
<path d="M516.35 592.72V594.20M514.85 592.72H517.85M514.85 594.20H517.85" fill="none" stroke="#b5192e" stroke-width="0.7"/>
<circle cx="515.05" cy="594.05" r="0.9" fill="#b5192e"/>
<circle cx="516.35" cy="592.80" r="0.9" fill="#b5192e"/>
<circle cx="517.65" cy="593.31" r="0.9" fill="#b5192e"/>
<text x="511.80" y="606.81" font-size="8.7" text-anchor="middle">M1</text>
<rect x="531.90" y="591.02" width="6.00" height="5.18" fill="#fff" stroke="#1f1f1f" stroke-width="1.05"/>
<circle cx="533.60" cy="591.38" r="0.9" fill="#1f1f1f"/>
<circle cx="534.90" cy="590.62" r="0.9" fill="#1f1f1f"/>
<circle cx="536.20" cy="590.93" r="0.9" fill="#1f1f1f"/>
<rect x="542.60" y="590.43" width="6.10" height="5.77" fill="#fff" stroke="#b5192e" stroke-width="1.05"/>
<path d="M545.65 589.10V591.76M544.15 589.10H547.15M544.15 591.76H547.15" fill="none" stroke="#b5192e" stroke-width="0.7"/>
<circle cx="544.35" cy="591.49" r="0.9" fill="#b5192e"/>
<circle cx="545.65" cy="589.23" r="0.9" fill="#b5192e"/>
<circle cx="546.95" cy="590.16" r="0.9" fill="#b5192e"/>
<text x="541.10" y="606.81" font-size="8.7" text-anchor="middle">M2</text>
<rect x="561.30" y="594.72" width="6.00" height="1.48" fill="#fff" stroke="#1f1f1f" stroke-width="1.05"/>
<circle cx="563.00" cy="595.19" r="0.9" fill="#1f1f1f"/>
<circle cx="564.30" cy="594.19" r="0.9" fill="#1f1f1f"/>
<circle cx="565.60" cy="594.60" r="0.9" fill="#1f1f1f"/>
<rect x="572.00" y="586.21" width="6.10" height="9.99" fill="#fff" stroke="#b5192e" stroke-width="1.05"/>
<path d="M575.05 584.36V588.06M573.55 584.36H576.55M573.55 588.06H576.55" fill="none" stroke="#b5192e" stroke-width="0.7"/>
<circle cx="573.75" cy="587.69" r="0.9" fill="#b5192e"/>
<circle cx="575.05" cy="584.55" r="0.9" fill="#b5192e"/>
<circle cx="576.35" cy="585.84" r="0.9" fill="#b5192e"/>
<text x="570.50" y="606.81" font-size="8.7" text-anchor="middle">M3</text>
<rect x="590.50" y="585.47" width="6.00" height="10.73" fill="#fff" stroke="#1f1f1f" stroke-width="1.05"/>
<path d="M593.50 580.66V590.28M592.00 580.66H595.00M592.00 590.28H595.00" fill="none" stroke="#1f1f1f" stroke-width="0.7"/>
<circle cx="592.20" cy="589.32" r="0.9" fill="#1f1f1f"/>
<circle cx="593.50" cy="581.14" r="0.9" fill="#1f1f1f"/>
<circle cx="594.80" cy="584.51" r="0.9" fill="#1f1f1f"/>
<rect x="601.20" y="591.17" width="6.10" height="5.03" fill="#fff" stroke="#b5192e" stroke-width="1.05"/>
<circle cx="602.95" cy="591.64" r="0.9" fill="#b5192e"/>
<circle cx="604.25" cy="590.64" r="0.9" fill="#b5192e"/>
<circle cx="605.55" cy="591.05" r="0.9" fill="#b5192e"/>
<text x="599.70" y="606.81" font-size="8.7" text-anchor="middle">M4</text>
<rect x="620.00" y="594.87" width="6.00" height="1.33" fill="#fff" stroke="#1f1f1f" stroke-width="1.05"/>
<path d="M623.00 594.13V595.61M621.50 594.13H624.50M621.50 595.61H624.50" fill="none" stroke="#1f1f1f" stroke-width="0.7"/>
<circle cx="621.70" cy="595.46" r="0.9" fill="#1f1f1f"/>
<circle cx="623.00" cy="594.20" r="0.9" fill="#1f1f1f"/>
<circle cx="624.30" cy="594.72" r="0.9" fill="#1f1f1f"/>
<rect x="630.70" y="571.78" width="6.10" height="24.42" fill="#fff" stroke="#b5192e" stroke-width="1.05"/>
<path d="M633.75 566.97V576.59M632.25 566.97H635.25M632.25 576.59H635.25" fill="none" stroke="#b5192e" stroke-width="0.7"/>
<circle cx="632.45" cy="575.63" r="0.9" fill="#b5192e"/>
<circle cx="633.75" cy="567.45" r="0.9" fill="#b5192e"/>
<circle cx="635.05" cy="570.82" r="0.9" fill="#b5192e"/>
<text x="629.20" y="606.81" font-size="8.7" text-anchor="middle">M5</text>
<rect x="649.30" y="595.40" width="6.00" height="0.80" fill="#fff" stroke="#1f1f1f" stroke-width="1.05"/>
<circle cx="651.00" cy="595.70" r="0.9" fill="#1f1f1f"/>
<circle cx="652.30" cy="595.19" r="0.9" fill="#1f1f1f"/>
<circle cx="653.60" cy="595.40" r="0.9" fill="#1f1f1f"/>
<rect x="660.00" y="595.16" width="6.10" height="1.04" fill="#fff" stroke="#b5192e" stroke-width="1.05"/>
<circle cx="661.75" cy="595.52" r="0.9" fill="#b5192e"/>
<circle cx="663.05" cy="594.76" r="0.9" fill="#b5192e"/>
<circle cx="664.35" cy="595.08" r="0.9" fill="#b5192e"/>
<text x="658.50" y="606.81" font-size="8.7" text-anchor="middle">M6</text>
<line x1="469.00" y1="529.15" x2="469.00" y2="596.65" stroke="#1f1f1f" stroke-width="0.95"/>
<line x1="469.00" y1="596.20" x2="671.20" y2="596.20" stroke="#1f1f1f" stroke-width="1.1"/>
<line x1="464.00" y1="596.20" x2="469.00" y2="596.20" stroke="#1f1f1f" stroke-width="0.8"/>
<text x="461.40" y="599.21" font-size="8.4" text-anchor="end">0</text>
<line x1="464.00" y1="574.00" x2="469.00" y2="574.00" stroke="#1f1f1f" stroke-width="0.8"/>
<text x="461.40" y="577.01" font-size="8.4" text-anchor="end">30</text>
<line x1="464.00" y1="551.80" x2="469.00" y2="551.80" stroke="#1f1f1f" stroke-width="0.8"/>
<text x="461.40" y="554.81" font-size="8.4" text-anchor="end">60</text>
<line x1="464.00" y1="529.60" x2="469.00" y2="529.60" stroke="#1f1f1f" stroke-width="0.8"/>
<text x="461.40" y="532.61" font-size="8.4" text-anchor="end">90</text>
<text x="568.90" y="529.82" font-size="9" text-anchor="middle">citrate isotopologues in OVCA433</text>
<text transform="translate(444.40 564.00) rotate(-90)" y="3.26" font-size="9.1" text-anchor="middle">% of total enrichment</text>
<rect x="648.60" y="529.40" width="9.30" height="4.50" fill="#fff" stroke="#1f1f1f" stroke-width="0.8"/>
<text x="661.90" y="534.40" font-size="8.8">att</text>
<rect x="648.60" y="538.40" width="9.30" height="4.80" fill="#fff" stroke="#b5192e" stroke-width="0.8"/>
<text x="661.90" y="543.55" font-size="8.8">det</text>
<text x="1.20" y="401.50" font-size="12.5" font-weight="bold">e</text>
<path d="M55.9 551.0C55.1 543.9 56.3 535.1 57.4 527.6C58.5 520.1 60.0 512.8 62.5 505.7C65.0 498.6 68.8 491.1 72.7 485.3C76.6 479.5 81.3 474.7 85.9 470.7C90.5 466.7 95.2 463.8 100.5 461.2C105.8 458.6 112.2 456.7 118.0 455.3C123.8 453.9 129.7 453.2 135.0 452.6C140.3 452.1 145.0 451.9 150.0 452.0C155.0 452.1 159.6 452.5 165.0 453.1C170.4 453.7 176.8 454.7 182.6 455.8C188.4 456.9 194.3 458.0 200.1 459.5C205.9 461.0 211.8 462.9 217.6 465.0C223.4 467.1 230.2 469.7 235.1 472.0C240.0 474.3 243.2 476.4 247.0 479.0C250.8 481.6 254.5 484.6 258.0 487.5C261.5 490.4 264.8 493.3 268.0 496.5C271.2 499.7 274.5 502.9 277.5 506.5C280.5 510.1 283.5 514.3 286.1 518.4C288.7 522.5 291.2 526.9 293.1 531.2C295.0 535.5 296.7 540.0 297.7 544.1C298.7 548.2 299.2 552.5 299.3 556.0C299.4 559.5 299.1 562.0 298.5 565.0C297.9 568.0 296.8 571.3 295.5 574.0C294.2 576.7 293.1 578.7 291.0 581.0C288.9 583.3 286.1 586.0 283.0 588.0C279.9 590.0 276.9 591.5 272.7 593.1C268.5 594.7 263.1 596.4 258.0 597.5C252.9 598.6 248.6 599.4 242.3 600.0C236.0 600.6 227.6 601.0 220.0 601.3C212.4 601.5 210.2 601.9 196.8 601.5C183.5 601.1 155.7 600.2 139.9 598.8C124.1 597.4 112.7 595.6 101.9 593.1C91.2 590.6 82.0 587.4 75.4 583.6C68.8 579.8 65.4 575.8 62.1 570.4C58.9 565.0 56.7 558.1 55.9 551.0Z" fill="#ebebeb" stroke="none" stroke-width="0"/>
<text x="185.40" y="416.12" font-size="7.6" text-anchor="middle">Fum</text>
<circle cx="200.00" cy="410.10" r="2.5" fill="#006a3b"/>
<circle cx="204.77" cy="410.10" r="2.5" fill="#006a3b"/>
<circle cx="209.54" cy="410.10" r="2.5" fill="#006a3b"/>
<circle cx="214.31" cy="410.10" r="2.5" fill="#006a3b"/>
<circle cx="200.00" cy="417.70" r="2.5" fill="#c8102e"/>
<circle cx="204.77" cy="417.70" r="2.5" fill="#c8102e"/>
<circle cx="209.54" cy="417.70" r="2.5" fill="#c8102e"/>
<circle cx="214.31" cy="417.70" r="2.2" fill="#fff" stroke="#1c1c1c" stroke-width="0.85"/>
<circle cx="240.00" cy="410.10" r="2.5" fill="#006a3b"/>
<circle cx="244.77" cy="410.10" r="2.5" fill="#006a3b"/>
<circle cx="249.54" cy="410.10" r="2.5" fill="#006a3b"/>
<circle cx="254.31" cy="410.10" r="2.5" fill="#006a3b"/>
<circle cx="240.00" cy="417.70" r="2.5" fill="#c8102e"/>
<circle cx="244.77" cy="417.70" r="2.5" fill="#c8102e"/>
<circle cx="249.54" cy="417.70" r="2.5" fill="#c8102e"/>
<circle cx="254.31" cy="417.70" r="2.2" fill="#fff" stroke="#1c1c1c" stroke-width="0.85"/>
<text x="268.30" y="416.12" font-size="7.6" text-anchor="middle">Asp</text>
<line x1="232.50" y1="414.20" x2="225.50" y2="414.20" stroke="#1f1f1f" stroke-width="1.3"/>
<polygon points="220.40,414.20 226.00,411.62 226.00,416.78" fill="#1f1f1f"/>
<polygon points="207.20,421.60 209.78,427.20 204.62,427.20" fill="#1f1f1f"/>
<line x1="207.20" y1="426.70" x2="207.20" y2="427.90" stroke="#1f1f1f" stroke-width="1.3"/>
<polygon points="207.20,433.00 204.62,427.40 209.78,427.40" fill="#1f1f1f"/>
<polygon points="247.10,421.60 249.68,427.20 244.52,427.20" fill="#1f1f1f"/>
<line x1="247.10" y1="426.70" x2="247.10" y2="427.90" stroke="#1f1f1f" stroke-width="1.3"/>
<polygon points="247.10,433.00 244.52,427.40 249.68,427.40" fill="#1f1f1f"/>
<circle cx="200.00" cy="437.30" r="2.5" fill="#006a3b"/>
<circle cx="204.77" cy="437.30" r="2.5" fill="#006a3b"/>
<circle cx="209.54" cy="437.30" r="2.5" fill="#006a3b"/>
<circle cx="214.31" cy="437.30" r="2.5" fill="#006a3b"/>
<circle cx="200.00" cy="444.80" r="2.5" fill="#c8102e"/>
<circle cx="204.77" cy="444.80" r="2.5" fill="#c8102e"/>
<circle cx="209.54" cy="444.80" r="2.5" fill="#c8102e"/>
<circle cx="214.31" cy="444.80" r="2.2" fill="#fff" stroke="#1c1c1c" stroke-width="0.85"/>
<circle cx="240.00" cy="437.30" r="2.5" fill="#006a3b"/>
<circle cx="244.77" cy="437.30" r="2.5" fill="#006a3b"/>
<circle cx="249.54" cy="437.30" r="2.5" fill="#006a3b"/>
<circle cx="254.31" cy="437.30" r="2.5" fill="#006a3b"/>
<circle cx="240.00" cy="444.80" r="2.5" fill="#c8102e"/>
<circle cx="244.77" cy="444.80" r="2.5" fill="#c8102e"/>
<circle cx="249.54" cy="444.80" r="2.5" fill="#c8102e"/>
<circle cx="254.31" cy="444.80" r="2.2" fill="#fff" stroke="#1c1c1c" stroke-width="0.85"/>
<text x="207.30" y="455.32" font-size="7.6" text-anchor="middle">Mal</text>
<text x="247.50" y="455.32" font-size="7.6" text-anchor="middle">Oac</text>
<polygon points="219.60,440.90 225.20,438.32 225.20,443.48" fill="#1f1f1f"/>
<line x1="224.70" y1="440.90" x2="228.10" y2="440.90" stroke="#1f1f1f" stroke-width="1.3"/>
<polygon points="233.20,440.90 227.60,443.48 227.60,438.32" fill="#1f1f1f"/>
<path d="M93.5 546.5H44.7V439.5H188.5" fill="none" stroke="#1f1f1f" stroke-width="1.3"/>
<polygon points="192.60,439.50 187.00,442.08 187.00,436.92" fill="#1f1f1f"/>
<polygon points="97.60,546.50 92.00,549.08 92.00,543.92" fill="#1f1f1f"/>
<text x="299.70" y="432.32" font-size="7.6" text-anchor="middle">ac-CoA</text>
<circle cx="293.60" cy="436.00" r="2.2" fill="#fff" stroke="#1c1c1c" stroke-width="0.85"/>
<circle cx="298.40" cy="436.00" r="2.2" fill="#fff" stroke="#1c1c1c" stroke-width="0.85"/>
<circle cx="293.60" cy="442.80" r="2.5" fill="#c8102e"/>
<circle cx="298.40" cy="442.80" r="2.5" fill="#c8102e"/>
<line x1="304.50" y1="438.50" x2="316.50" y2="438.50" stroke="#1f1f1f" stroke-width="1.1" stroke-dasharray="1.3 1.1"/>
<polygon points="321.20,438.50 315.60,441.08 315.60,435.92" fill="#1f1f1f"/>
<text x="322.90" y="441.12" font-size="7.6">Lipids</text>
<line x1="280.80" y1="453.40" x2="265.04" y2="444.51" stroke="#1f1f1f" stroke-width="1.3"/>
<polygon points="260.60,442.00 266.74,442.51 264.21,447.00" fill="#1f1f1f"/>
<path d="M276.0 450.8C279.5 449.5 282.2 446.5 283.6 443.2" fill="none" stroke="#1f1f1f" stroke-width="1.3" stroke-linecap="round"/>
<polygon points="285.40,439.40 285.26,445.56 280.63,443.30" fill="#1f1f1f"/>
<circle cx="278.90" cy="464.20" r="2.5" fill="#006a3b"/>
<circle cx="283.85" cy="464.20" r="2.5" fill="#006a3b"/>
<circle cx="288.80" cy="464.20" r="2.5" fill="#006a3b"/>
<circle cx="293.75" cy="464.20" r="2.2" fill="#fff" stroke="#1c1c1c" stroke-width="0.85"/>
<circle cx="298.70" cy="464.20" r="2.2" fill="#fff" stroke="#1c1c1c" stroke-width="0.85"/>
<circle cx="288.80" cy="458.80" r="2.5" fill="#006a3b"/>
<text x="309.00" y="466.12" font-size="7.6" text-anchor="middle">Cit</text>
<circle cx="290.20" cy="471.60" r="2.2" fill="#fff" stroke="#1c1c1c" stroke-width="0.85"/>
<circle cx="280.10" cy="478.00" r="2.5" fill="#c8102e"/>
<circle cx="285.00" cy="478.00" r="2.5" fill="#c8102e"/>
<circle cx="289.90" cy="478.00" r="2.5" fill="#c8102e"/>
<circle cx="294.80" cy="478.00" r="2.5" fill="#c8102e"/>
<circle cx="299.70" cy="478.00" r="2.5" fill="#c8102e"/>
<text x="309.00" y="481.12" font-size="7.6" text-anchor="middle">Cit</text>
<polygon points="167.50,472.00 173.10,469.42 173.10,474.58" fill="#1f1f1f"/>
<line x1="172.60" y1="472.00" x2="267.50" y2="472.00" stroke="#1f1f1f" stroke-width="1.3"/>
<polygon points="272.60,472.00 267.00,474.58 267.00,469.42" fill="#1f1f1f"/>
<circle cx="307.20" cy="515.90" r="2.5" fill="#c8102e"/>
<circle cx="312.10" cy="515.90" r="2.5" fill="#c8102e"/>
<circle cx="317.00" cy="515.90" r="2.5" fill="#c8102e"/>
<circle cx="321.90" cy="515.90" r="2.5" fill="#c8102e"/>
<circle cx="326.80" cy="515.90" r="2.5" fill="#c8102e"/>
<circle cx="317.10" cy="510.50" r="2.2" fill="#fff" stroke="#1c1c1c" stroke-width="0.85"/>
<text x="336.10" y="518.72" font-size="7.6" text-anchor="middle">Ict</text>
<line x1="315.60" y1="507.80" x2="297.56" y2="487.23" stroke="#1f1f1f" stroke-width="1.3"/>
<polygon points="294.20,483.40 299.83,485.91 295.96,489.31" fill="#1f1f1f"/>
<text x="307.00" y="530.92" font-size="7.6" text-anchor="middle">CO<tspan font-size="4.6" dy="0.6">2</tspan></text>
<circle cx="306.40" cy="535.20" r="2.2" fill="#fff" stroke="#1c1c1c" stroke-width="0.85"/>
<line x1="319.00" y1="539.40" x2="319.00" y2="525.50" stroke="#1f1f1f" stroke-width="1.3"/>
<polygon points="319.00,520.40 321.58,526.00 316.42,526.00" fill="#1f1f1f"/>
<path d="M308.8 535.6C314.5 536.0 318.4 533.5 318.9 528.5" fill="none" stroke="#1f1f1f" stroke-width="1.3"/>
<circle cx="312.00" cy="544.20" r="2.5" fill="#1c1c1c"/>
<circle cx="316.95" cy="544.20" r="2.5" fill="#1c1c1c"/>
<circle cx="321.90" cy="544.20" r="2.5" fill="#1c1c1c"/>
<circle cx="326.85" cy="544.20" r="2.5" fill="#1c1c1c"/>
<circle cx="331.80" cy="544.20" r="2.5" fill="#1c1c1c"/>
<text x="337.40" y="546.32" font-size="7.6">α-KG</text>
<polygon points="244.40,544.40 250.00,541.82 250.00,546.98" fill="#1f1f1f"/>
<line x1="249.50" y1="544.40" x2="301.50" y2="544.40" stroke="#1f1f1f" stroke-width="1.3"/>
<polygon points="306.60,544.40 301.00,546.98 301.00,541.82" fill="#1f1f1f"/>
<circle cx="327.10" cy="566.60" r="2.5" fill="#1c1c1c"/>
<circle cx="332.10" cy="566.60" r="2.5" fill="#1c1c1c"/>
<circle cx="337.10" cy="566.60" r="2.5" fill="#1c1c1c"/>
<circle cx="342.10" cy="566.60" r="2.5" fill="#1c1c1c"/>
<circle cx="347.10" cy="566.60" r="2.5" fill="#1c1c1c"/>
<text x="336.60" y="577.72" font-size="7.6" text-anchor="middle">Gln</text>
<polygon points="290.80,566.50 296.40,563.92 296.40,569.08" fill="#1f1f1f"/>
<line x1="295.90" y1="566.50" x2="316.20" y2="566.50" stroke="#1f1f1f" stroke-width="1.3"/>
<polygon points="321.30,566.50 315.70,569.08 315.70,563.92" fill="#1f1f1f"/>
<circle cx="266.60" cy="566.30" r="2.5" fill="#1c1c1c"/>
<circle cx="271.60" cy="566.30" r="2.5" fill="#1c1c1c"/>
<circle cx="276.60" cy="566.30" r="2.5" fill="#1c1c1c"/>
<circle cx="281.60" cy="566.30" r="2.5" fill="#1c1c1c"/>
<circle cx="286.60" cy="566.30" r="2.5" fill="#1c1c1c"/>
<text x="276.90" y="577.02" font-size="7.6" text-anchor="middle">Gln</text>
<line x1="261.60" y1="566.40" x2="254.90" y2="566.40" stroke="#1f1f1f" stroke-width="1.3"/>
<polygon points="249.80,566.40 255.40,563.82 255.40,568.98" fill="#1f1f1f"/>
<line x1="248.30" y1="565.80" x2="238.46" y2="555.15" stroke="#1f1f1f" stroke-width="1.3"/>
<polygon points="235.00,551.40 240.69,553.77 236.91,557.26" fill="#1f1f1f"/>
<line x1="104.60" y1="446.20" x2="104.60" y2="459.00" stroke="#1f1f1f" stroke-width="1.0" stroke-dasharray="1.2 1.0"/>
<polygon points="104.60,463.20 102.02,457.60 107.18,457.60" fill="#1f1f1f"/>
<text x="106.60" y="470.12" font-size="7.6" text-anchor="middle">Pyr</text>
<line x1="104.60" y1="471.40" x2="104.60" y2="474.90" stroke="#1f1f1f" stroke-width="1.3"/>
<polygon points="104.60,478.80 102.58,474.40 106.62,474.40" fill="#1f1f1f"/>
<text x="109.30" y="485.32" font-size="7.6" text-anchor="middle">ac-CoA</text>
<circle cx="102.60" cy="489.30" r="2.2" fill="#fff" stroke="#1c1c1c" stroke-width="0.85"/>
<circle cx="107.40" cy="489.30" r="2.2" fill="#fff" stroke="#1c1c1c" stroke-width="0.85"/>
<path d="M110.2 490.2C112.0 494.0 116.5 496.2 120.2 494.8" fill="none" stroke="#1f1f1f" stroke-width="1.3"/>
<line x1="112.40" y1="499.90" x2="132.57" y2="487.30" stroke="#1f1f1f" stroke-width="1.3"/>
<polygon points="136.90,484.60 133.51,489.75 130.79,485.38" fill="#1f1f1f"/>
<text x="132.60" y="468.32" font-size="7.6" text-anchor="middle">Cit</text>
<text x="132.60" y="480.52" font-size="7.6" text-anchor="middle">Cit</text>
<circle cx="141.30" cy="465.50" r="2.5" fill="#006a3b"/>
<circle cx="146.15" cy="465.50" r="2.5" fill="#006a3b"/>
<circle cx="151.00" cy="465.50" r="2.5" fill="#006a3b"/>
<circle cx="155.85" cy="465.50" r="2.2" fill="#fff" stroke="#1c1c1c" stroke-width="0.85"/>
<circle cx="160.70" cy="465.50" r="2.2" fill="#fff" stroke="#1c1c1c" stroke-width="0.85"/>
<circle cx="151.00" cy="460.00" r="2.5" fill="#006a3b"/>
<circle cx="151.00" cy="472.20" r="2.2" fill="#fff" stroke="#1c1c1c" stroke-width="0.85"/>
<circle cx="140.90" cy="478.00" r="2.5" fill="#c8102e"/>
<circle cx="145.70" cy="478.00" r="2.5" fill="#c8102e"/>
<circle cx="150.50" cy="478.00" r="2.5" fill="#c8102e"/>
<circle cx="155.30" cy="478.00" r="2.5" fill="#c8102e"/>
<circle cx="160.10" cy="478.00" r="2.5" fill="#c8102e"/>
<line x1="163.40" y1="484.30" x2="177.19" y2="496.61" stroke="#1f1f1f" stroke-width="1.3"/>
<polygon points="181.00,500.00 175.11,498.19 178.54,494.35" fill="#1f1f1f"/>
<circle cx="180.30" cy="507.70" r="2.5" fill="#006a3b"/>
<circle cx="185.27" cy="507.70" r="2.5" fill="#006a3b"/>
<circle cx="190.24" cy="507.70" r="2.5" fill="#006a3b"/>
<circle cx="195.21" cy="507.70" r="2.2" fill="#fff" stroke="#1c1c1c" stroke-width="0.85"/>
<circle cx="200.18" cy="507.70" r="2.2" fill="#fff" stroke="#1c1c1c" stroke-width="0.85"/>
<circle cx="190.30" cy="502.00" r="2.5" fill="#006a3b"/>
<text x="190.30" y="516.02" font-size="7.6" text-anchor="middle">Ict</text>
<line x1="197.00" y1="517.20" x2="212.15" y2="533.65" stroke="#1f1f1f" stroke-width="1.3"/>
<polygon points="215.60,537.40 209.91,535.03 213.70,531.54" fill="#1f1f1f"/>
<path d="M202.6 524.0C205.0 527.2 204.6 530.5 202.6 532.6" fill="none" stroke="#1f1f1f" stroke-width="1.3" stroke-linecap="round"/>
<polygon points="199.60,535.60 201.74,529.82 205.38,533.46" fill="#1f1f1f"/>
<text x="183.90" y="536.92" font-size="7.6" text-anchor="middle">CO<tspan font-size="4.6" dy="0.6">2</tspan></text>
<circle cx="194.40" cy="537.80" r="2.2" fill="#fff" stroke="#1c1c1c" stroke-width="0.85"/>
<text x="230.10" y="540.92" font-size="7.6" text-anchor="middle">α-KG</text>
<circle cx="217.00" cy="544.90" r="2.5" fill="#1c1c1c"/>
<circle cx="222.10" cy="544.90" r="2.5" fill="#1c1c1c"/>
<circle cx="227.20" cy="544.90" r="2.5" fill="#1c1c1c"/>
<circle cx="232.30" cy="544.90" r="2.5" fill="#1c1c1c"/>
<circle cx="237.40" cy="544.90" r="2.5" fill="#1c1c1c"/>
<line x1="220.40" y1="550.90" x2="212.95" y2="563.78" stroke="#1f1f1f" stroke-width="1.3"/>
<polygon points="210.40,568.20 210.97,562.06 215.43,564.64" fill="#1f1f1f"/>
<line x1="209.00" y1="569.40" x2="203.40" y2="570.51" stroke="#1f1f1f" stroke-width="1.3"/>
<polygon points="198.40,571.50 203.39,567.88 204.39,572.94" fill="#1f1f1f"/>
<path d="M216.6 557.6C218.4 559.0 219.4 561.0 219.6 562.4" fill="none" stroke="#1f1f1f" stroke-width="1.3" stroke-linecap="round"/>
<polygon points="220.60,565.60 218.07,562.55 221.27,561.69" fill="#1f1f1f"/>
<circle cx="223.60" cy="566.50" r="2.3" fill="#1c1c1c"/>
<text x="227.20" y="576.62" font-size="7.6" text-anchor="middle">CO<tspan font-size="4.6" dy="0.6">2</tspan></text>
<circle cx="176.30" cy="571.40" r="2.5" fill="#006a3b"/>
<circle cx="181.35" cy="571.40" r="2.5" fill="#006a3b"/>
<circle cx="186.40" cy="571.40" r="2.5" fill="#006a3b"/>
<circle cx="191.45" cy="571.40" r="2.5" fill="#006a3b"/>
<text x="184.60" y="581.42" font-size="7.6" text-anchor="middle">Suc</text>
<circle cx="130.90" cy="571.40" r="2.5" fill="#006a3b"/>
<circle cx="135.90" cy="571.40" r="2.5" fill="#006a3b"/>
<circle cx="140.90" cy="571.40" r="2.5" fill="#006a3b"/>
<circle cx="145.90" cy="571.40" r="2.5" fill="#006a3b"/>
<text x="141.30" y="581.32" font-size="7.6" text-anchor="middle">Fum</text>
<polygon points="151.00,571.30 156.60,568.72 156.60,573.88" fill="#1f1f1f"/>
<line x1="156.10" y1="571.30" x2="167.40" y2="571.30" stroke="#1f1f1f" stroke-width="1.3"/>
<polygon points="172.50,571.30 166.90,573.88 166.90,568.72" fill="#1f1f1f"/>
<polygon points="117.60,560.60 122.74,561.82 120.02,565.30" fill="#1f1f1f"/>
<polygon points="127.20,568.20 122.06,566.98 124.78,563.50" fill="#1f1f1f"/>
<line x1="120.00" y1="562.50" x2="124.80" y2="566.30" stroke="#1f1f1f" stroke-width="1.3"/>
<circle cx="105.80" cy="541.00" r="2.5" fill="#006a3b"/>
<circle cx="110.80" cy="541.00" r="2.5" fill="#006a3b"/>
<circle cx="115.80" cy="541.00" r="2.5" fill="#006a3b"/>
<circle cx="120.80" cy="541.00" r="2.5" fill="#006a3b"/>
<circle cx="105.80" cy="549.00" r="2.5" fill="#c8102e"/>
<circle cx="110.80" cy="549.00" r="2.5" fill="#c8102e"/>
<circle cx="115.80" cy="549.00" r="2.5" fill="#c8102e"/>
<circle cx="120.80" cy="549.00" r="2.2" fill="#fff" stroke="#1c1c1c" stroke-width="0.85"/>
<text x="115.50" y="558.72" font-size="7.6" text-anchor="middle">Mal</text>
<circle cx="105.20" cy="506.40" r="2.5" fill="#006a3b"/>
<circle cx="110.20" cy="506.40" r="2.5" fill="#006a3b"/>
<circle cx="115.20" cy="506.40" r="2.5" fill="#006a3b"/>
<circle cx="120.20" cy="506.40" r="2.5" fill="#006a3b"/>
<text x="115.50" y="516.02" font-size="7.6" text-anchor="middle">Oac</text>
<polygon points="113.00,518.70 115.58,524.30 110.42,524.30" fill="#1f1f1f"/>
<line x1="113.00" y1="523.80" x2="113.00" y2="532.80" stroke="#1f1f1f" stroke-width="1.3"/>
<polygon points="113.00,537.90 110.42,532.30 115.58,532.30" fill="#1f1f1f"/>
<text x="64.00" y="529.72" font-size="7.6" text-anchor="middle">CO<tspan font-size="4.6" dy="0.6">2</tspan></text>
<circle cx="65.30" cy="534.40" r="2.5" fill="#006a3b"/>
<path d="M97.8 541.6C88.0 533.0 79.4 520.0 78.4 503.0C77.8 489.0 84.0 477.5 96.0 470.8" fill="none" stroke="#1f1f1f" stroke-width="1.3" stroke-linecap="round"/>
<polygon points="99.90,468.60 96.34,473.63 93.76,469.17" fill="#1f1f1f"/>
<path d="M87.6 531.6C84.2 527.6 79.3 526.9 75.0 529.0" fill="none" stroke="#1f1f1f" stroke-width="1.3" stroke-linecap="round"/>
<polygon points="71.20,531.20 74.94,526.30 77.35,530.85" fill="#1f1f1f"/>
<text x="233.80" y="597.72" font-size="10.4" text-anchor="middle" fill="#aab3bf">Mitochondria</text>
<text x="315.60" y="597.72" font-size="10.4" text-anchor="middle" fill="#aab3bf">Cytoplasm</text>
<defs><filter id="bl" x="-30%" y="-80%" width="160%" height="260%"><feGaussianBlur stdDeviation="0.75"/></filter><filter id="bl2" x="-30%" y="-120%" width="160%" height="340%"><feGaussianBlur stdDeviation="1.3"/></filter><linearGradient id="cbar" x1="0" y1="0" x2="0" y2="1"><stop offset="0" stop-color="#0f8746"/><stop offset="0.2" stop-color="#349c57"/><stop offset="0.45" stop-color="#6fb783"/><stop offset="0.7" stop-color="#abd3b3"/><stop offset="0.88" stop-color="#dfeedf"/><stop offset="1" stop-color="#fbfdfb"/></linearGradient></defs>
<text x="0.80" y="623.60" font-size="12.5" font-weight="bold">j</text>
<text x="169.60" y="623.80" font-size="12.5" font-weight="bold">k</text>
<text x="395.60" y="623.00" font-size="12.5" font-weight="bold">l</text>
<clipPath id="cj1"><rect x="39.5" y="660.5" width="48.70" height="14.60"/></clipPath>
<rect x="39.50" y="660.50" width="48.70" height="14.60" fill="#e3e3e3"/>
<g clip-path="url(#cj1)">
<ellipse cx="63.8" cy="667.2" rx="22.00" ry="0.60" fill="#555" opacity="0.45" filter="url(#bl)"/>
<ellipse cx="46.8" cy="667.1" rx="4.90" ry="1.10" fill="#1a1a1a" opacity="0.9" filter="url(#bl)"/>
<ellipse cx="58.5" cy="667.1" rx="4.90" ry="1.10" fill="#1a1a1a" opacity="0.9" filter="url(#bl)"/>
<ellipse cx="70.3" cy="667.1" rx="4.90" ry="1.10" fill="#1a1a1a" opacity="0.9" filter="url(#bl)"/>
<ellipse cx="82.0" cy="667.1" rx="4.90" ry="1.10" fill="#1a1a1a" opacity="0.9" filter="url(#bl)"/>
</g>
<rect x="39.50" y="660.50" width="48.70" height="14.60" fill="none" stroke="#3a3a3a" stroke-width="0.9"/>
<clipPath id="cj2"><rect x="94.6" y="660.5" width="48.20" height="14.60"/></clipPath>
<rect x="94.60" y="660.50" width="48.20" height="14.60" fill="#e3e3e3"/>
<g clip-path="url(#cj2)">
<ellipse cx="118.7" cy="667.3" rx="22.00" ry="0.60" fill="#555" opacity="0.45" filter="url(#bl)"/>
<ellipse cx="102.1" cy="667.2" rx="4.80" ry="1.10" fill="#1a1a1a" opacity="0.9" filter="url(#bl)"/>
<ellipse cx="113.0" cy="667.2" rx="4.80" ry="1.10" fill="#1a1a1a" opacity="0.9" filter="url(#bl)"/>
<ellipse cx="124.3" cy="667.2" rx="4.80" ry="1.10" fill="#1a1a1a" opacity="0.9" filter="url(#bl)"/>
<ellipse cx="135.5" cy="667.2" rx="4.80" ry="1.10" fill="#1a1a1a" opacity="0.9" filter="url(#bl)"/>
</g>
<rect x="94.60" y="660.50" width="48.20" height="14.60" fill="none" stroke="#3a3a3a" stroke-width="0.9"/>
<clipPath id="cj3"><rect x="39.5" y="679.3" width="48.70" height="14.60"/></clipPath>
<rect x="39.50" y="679.30" width="48.70" height="14.60" fill="#f5f5f5"/>
<g clip-path="url(#cj3)">
<ellipse cx="70.3" cy="684.0" rx="5.50" ry="2.50" fill="#777" opacity="0.35" filter="url(#bl2)"/>
<ellipse cx="80.6" cy="684.0" rx="5.50" ry="2.50" fill="#777" opacity="0.35" filter="url(#bl2)"/>
<ellipse cx="70.3" cy="686.4" rx="5.75" ry="1.50" fill="#222" opacity="0.9" filter="url(#bl)"/>
<ellipse cx="80.6" cy="686.6" rx="5.50" ry="1.50" fill="#333" opacity="0.85" filter="url(#bl)"/>
</g>
<rect x="39.50" y="679.30" width="48.70" height="14.60" fill="none" stroke="#3a3a3a" stroke-width="0.9"/>
<clipPath id="cj4"><rect x="94.6" y="679.3" width="48.20" height="14.60"/></clipPath>
<rect x="94.60" y="679.30" width="48.20" height="14.60" fill="#f5f5f5"/>
<g clip-path="url(#cj4)">
<ellipse cx="122.5" cy="683.8" rx="5.50" ry="2.50" fill="#777" opacity="0.35" filter="url(#bl2)"/>
<ellipse cx="134.6" cy="683.6" rx="6.00" ry="2.50" fill="#777" opacity="0.3" filter="url(#bl2)"/>
<ellipse cx="122.5" cy="686.3" rx="5.50" ry="1.40" fill="#2a2a2a" opacity="0.9" filter="url(#bl)"/>
<ellipse cx="134.6" cy="685.8" rx="6.75" ry="1.60" fill="#111" opacity="0.95" filter="url(#bl)"/>
</g>
<rect x="94.60" y="679.30" width="48.20" height="14.60" fill="none" stroke="#3a3a3a" stroke-width="0.9"/>
<clipPath id="cj5"><rect x="39.5" y="698.3" width="48.70" height="14.60"/></clipPath>
<rect x="39.50" y="698.30" width="48.70" height="14.60" fill="#f1f1f1"/>
<g clip-path="url(#cj5)">
<ellipse cx="45.9" cy="705.4" rx="5.00" ry="1.45" fill="#111" opacity="0.95" filter="url(#bl)"/>
<ellipse cx="70.3" cy="705.2" rx="5.10" ry="1.45" fill="#111" opacity="0.95" filter="url(#bl)"/>
</g>
<rect x="39.50" y="698.30" width="48.70" height="14.60" fill="none" stroke="#3a3a3a" stroke-width="0.9"/>
<clipPath id="cj6"><rect x="94.6" y="698.3" width="48.20" height="14.60"/></clipPath>
<rect x="94.60" y="698.30" width="48.20" height="14.60" fill="#f1f1f1"/>
<g clip-path="url(#cj6)">
<ellipse cx="101.3" cy="705.6" rx="4.30" ry="1.30" fill="#111" opacity="0.95" filter="url(#bl)"/>
<ellipse cx="125.7" cy="705.9" rx="4.70" ry="1.70" fill="#080808" opacity="1" filter="url(#bl)"/>
</g>
<rect x="94.60" y="698.30" width="48.20" height="14.60" fill="none" stroke="#3a3a3a" stroke-width="0.9"/>
<clipPath id="cj7"><rect x="39.5" y="717.1" width="48.70" height="15.10"/></clipPath>
<rect x="39.50" y="717.10" width="48.70" height="15.10" fill="#f6f6f6"/>
<g clip-path="url(#cj7)">
<ellipse cx="56.4" cy="726.2" rx="2.60" ry="1.30" fill="#222" opacity="0.9" filter="url(#bl)"/>
<ellipse cx="80.7" cy="724.8" rx="4.30" ry="1.80" fill="#080808" opacity="1" filter="url(#bl)"/>
</g>
<rect x="39.50" y="717.10" width="48.70" height="15.10" fill="none" stroke="#3a3a3a" stroke-width="0.9"/>
<clipPath id="cj8"><rect x="94.6" y="717.1" width="48.20" height="15.10"/></clipPath>
<rect x="94.60" y="717.10" width="48.20" height="15.10" fill="#f6f6f6"/>
<g clip-path="url(#cj8)">
<ellipse cx="112.6" cy="726.0" rx="3.90" ry="1.50" fill="#111" opacity="0.95" filter="url(#bl)"/>
<ellipse cx="134.9" cy="724.4" rx="3.90" ry="1.70" fill="#080808" opacity="1" filter="url(#bl)"/>
</g>
<rect x="94.60" y="717.10" width="48.20" height="15.10" fill="none" stroke="#3a3a3a" stroke-width="0.9"/>
<text x="52.70" y="645.45" font-size="8.8" text-anchor="middle">att</text>
<line x1="47.00" y1="647.70" x2="60.30" y2="647.70" stroke="#444" stroke-width="0.8"/>
<text x="75.40" y="645.45" font-size="8.8" text-anchor="middle">det</text>
<line x1="67.80" y1="647.70" x2="82.90" y2="647.70" stroke="#444" stroke-width="0.8"/>
<text x="106.80" y="645.45" font-size="8.8" text-anchor="middle">att</text>
<line x1="100.50" y1="647.70" x2="115.00" y2="647.70" stroke="#444" stroke-width="0.8"/>
<text x="129.40" y="645.45" font-size="8.8" text-anchor="middle">det</text>
<line x1="122.60" y1="647.70" x2="136.90" y2="647.70" stroke="#444" stroke-width="0.8"/>
<text x="47.70" y="656.81" font-size="8.4" text-anchor="middle">C</text>
<text x="58.50" y="656.81" font-size="8.4" text-anchor="middle">N</text>
<text x="69.80" y="656.81" font-size="8.4" text-anchor="middle">C</text>
<text x="80.90" y="656.81" font-size="8.4" text-anchor="middle">N</text>
<text x="101.70" y="656.81" font-size="8.4" text-anchor="middle">C</text>
<text x="113.00" y="656.81" font-size="8.4" text-anchor="middle">N</text>
<text x="124.30" y="656.81" font-size="8.4" text-anchor="middle">C</text>
<text x="135.10" y="656.81" font-size="8.4" text-anchor="middle">N</text>
<text x="150.70" y="656.36" font-size="6.6" text-anchor="middle">kDa</text>
<text x="36.90" y="671.15" font-size="8.8" text-anchor="end">ACLY</text>
<text x="36.90" y="691.35" font-size="8.8" text-anchor="end">SAT1</text>
<text x="36.90" y="709.75" font-size="8.8" text-anchor="end">ACTB</text>
<text x="36.90" y="729.35" font-size="8.8" text-anchor="end">LSD1</text>
<text x="150.70" y="670.35" font-size="7.4" text-anchor="middle">120</text>
<text x="150.70" y="689.95" font-size="7.4" text-anchor="middle">20</text>
<text x="150.70" y="708.65" font-size="7.4" text-anchor="middle">45</text>
<text x="150.70" y="728.15" font-size="7.4" text-anchor="middle">110</text>
<text x="65.30" y="743.15" font-size="8.8" text-anchor="middle">SKOV3</text>
<text x="119.80" y="743.15" font-size="8.8" text-anchor="middle">OVCA433</text>
<clipPath id="ck1"><rect x="216.7" y="663.0" width="74.70" height="14.50"/></clipPath>
<rect x="216.70" y="663.00" width="74.70" height="14.50" fill="#f6f6f6"/>
<g clip-path="url(#ck1)">
<ellipse cx="247.8" cy="669.9" rx="3.80" ry="1.30" fill="#111" opacity="0.95" filter="url(#bl)"/>
<ellipse cx="260.3" cy="669.9" rx="3.80" ry="1.30" fill="#111" opacity="0.95" filter="url(#bl)"/>
<ellipse cx="273.2" cy="670.0" rx="4.30" ry="1.40" fill="#080808" opacity="1" filter="url(#bl)"/>
</g>
<rect x="216.70" y="663.00" width="74.70" height="14.50" fill="none" stroke="#3a3a3a" stroke-width="0.9"/>
<clipPath id="ck2"><rect x="298.5" y="663.0" width="74.90" height="14.50"/></clipPath>
<rect x="298.50" y="663.00" width="74.90" height="14.50" fill="#f6f6f6"/>
<g clip-path="url(#ck2)">
<ellipse cx="329.0" cy="669.8" rx="4.10" ry="1.35" fill="#111" opacity="0.95" filter="url(#bl)"/>
<ellipse cx="341.0" cy="670.0" rx="3.30" ry="1.10" fill="#1a1a1a" opacity="0.9" filter="url(#bl)"/>
<ellipse cx="353.8" cy="669.8" rx="4.20" ry="1.35" fill="#080808" opacity="1" filter="url(#bl)"/>
</g>
<rect x="298.50" y="663.00" width="74.90" height="14.50" fill="none" stroke="#3a3a3a" stroke-width="0.9"/>
<linearGradient id="sg1" x1="0" y1="0" x2="1" y2="0"><stop offset="0" stop-color="#dedede"/><stop offset="0.75" stop-color="#d4d4d4"/><stop offset="1" stop-color="#bcbcbc"/></linearGradient>
<clipPath id="ck3"><rect x="216.7" y="682.0" width="74.70" height="14.50"/></clipPath>
<rect x="216.70" y="682.00" width="74.70" height="14.50" fill="url(#sg1)"/>
<g clip-path="url(#ck3)">
<ellipse cx="222.3" cy="689.6" rx="3.75" ry="1.20" fill="#555" opacity="0.75" filter="url(#bl)"/>
<ellipse cx="234.3" cy="689.8" rx="3.50" ry="1.20" fill="#555" opacity="0.7" filter="url(#bl)"/>
<ellipse cx="247.6" cy="689.8" rx="3.25" ry="1.10" fill="#666" opacity="0.5" filter="url(#bl)"/>
<ellipse cx="259.9" cy="689.8" rx="3.25" ry="1.10" fill="#777" opacity="0.4" filter="url(#bl)"/>
<ellipse cx="273.2" cy="689.8" rx="3.75" ry="1.20" fill="#555" opacity="0.7" filter="url(#bl)"/>
<ellipse cx="285.3" cy="689.8" rx="4.00" ry="1.30" fill="#444" opacity="0.8" filter="url(#bl)"/>
</g>
<rect x="216.70" y="682.00" width="74.70" height="14.50" fill="none" stroke="#3a3a3a" stroke-width="0.9"/>
<clipPath id="ck4"><rect x="298.5" y="682.0" width="74.90" height="14.50"/></clipPath>
<rect x="298.50" y="682.00" width="74.90" height="14.50" fill="#d6d6d6"/>
<g clip-path="url(#ck4)">
<ellipse cx="304.4" cy="689.6" rx="3.75" ry="1.20" fill="#555" opacity="0.7" filter="url(#bl)"/>
<ellipse cx="316.2" cy="689.2" rx="3.50" ry="1.50" fill="#444" opacity="0.8" filter="url(#bl)"/>
<ellipse cx="328.8" cy="689.6" rx="3.75" ry="1.20" fill="#444" opacity="0.8" filter="url(#bl)"/>
<ellipse cx="340.9" cy="689.8" rx="3.75" ry="1.20" fill="#555" opacity="0.7" filter="url(#bl)"/>
<ellipse cx="353.6" cy="689.8" rx="3.75" ry="1.20" fill="#555" opacity="0.7" filter="url(#bl)"/>
<ellipse cx="366.4" cy="689.6" rx="4.00" ry="1.30" fill="#444" opacity="0.8" filter="url(#bl)"/>
</g>
<rect x="298.50" y="682.00" width="74.90" height="14.50" fill="none" stroke="#3a3a3a" stroke-width="0.9"/>
<clipPath id="ck5"><rect x="216.7" y="700.9" width="74.70" height="15.00"/></clipPath>
<rect x="216.70" y="700.90" width="74.70" height="15.00" fill="#f5f5f5"/>
<g clip-path="url(#ck5)">
<ellipse cx="222.4" cy="708.1" rx="3.70" ry="1.15" fill="#111" opacity="0.95" filter="url(#bl)"/>
<ellipse cx="249.2" cy="708.1" rx="3.90" ry="1.25" fill="#111" opacity="0.95" filter="url(#bl)"/>
<ellipse cx="274.5" cy="708.2" rx="3.80" ry="1.25" fill="#111" opacity="0.95" filter="url(#bl)"/>
</g>
<rect x="216.70" y="700.90" width="74.70" height="15.00" fill="none" stroke="#3a3a3a" stroke-width="0.9"/>
<clipPath id="ck6"><rect x="298.5" y="700.9" width="74.90" height="15.00"/></clipPath>
<rect x="298.50" y="700.90" width="74.90" height="15.00" fill="#f5f5f5"/>
<g clip-path="url(#ck6)">
<ellipse cx="305.0" cy="708.9" rx="3.70" ry="1.40" fill="#080808" opacity="1" filter="url(#bl)"/>
<ellipse cx="330.8" cy="708.9" rx="4.50" ry="1.80" fill="#050505" opacity="1" filter="url(#bl)"/>
<ellipse cx="355.9" cy="709.0" rx="4.10" ry="1.55" fill="#080808" opacity="1" filter="url(#bl)"/>
</g>
<rect x="298.50" y="700.90" width="74.90" height="15.00" fill="none" stroke="#3a3a3a" stroke-width="0.9"/>
<clipPath id="ck7"><rect x="216.7" y="720.4" width="74.70" height="14.60"/></clipPath>
<rect x="216.70" y="720.40" width="74.70" height="14.60" fill="#ececec"/>
<g clip-path="url(#ck7)">
<ellipse cx="234.8" cy="729.5" rx="4.00" ry="2.50" fill="#999" opacity="0.35" filter="url(#bl2)"/>
<ellipse cx="259.6" cy="729.5" rx="4.00" ry="2.50" fill="#999" opacity="0.35" filter="url(#bl2)"/>
<ellipse cx="284.9" cy="729.5" rx="4.00" ry="2.50" fill="#999" opacity="0.35" filter="url(#bl2)"/>
<ellipse cx="234.8" cy="728.0" rx="4.10" ry="1.50" fill="#222" opacity="0.9" filter="url(#bl)"/>
<ellipse cx="259.6" cy="728.0" rx="4.10" ry="1.50" fill="#222" opacity="0.9" filter="url(#bl)"/>
<ellipse cx="284.9" cy="728.0" rx="4.00" ry="1.50" fill="#2a2a2a" opacity="0.9" filter="url(#bl)"/>
</g>
<rect x="216.70" y="720.40" width="74.70" height="14.60" fill="none" stroke="#3a3a3a" stroke-width="0.9"/>
<clipPath id="ck8"><rect x="298.5" y="720.4" width="74.90" height="14.60"/></clipPath>
<rect x="298.50" y="720.40" width="74.90" height="14.60" fill="#ececec"/>
<g clip-path="url(#ck8)">
<ellipse cx="316.2" cy="728.5" rx="4.00" ry="2.50" fill="#999" opacity="0.35" filter="url(#bl2)"/>
<ellipse cx="341.0" cy="728.5" rx="4.00" ry="2.50" fill="#999" opacity="0.35" filter="url(#bl2)"/>
<ellipse cx="366.3" cy="728.5" rx="4.00" ry="2.50" fill="#999" opacity="0.35" filter="url(#bl2)"/>
<ellipse cx="316.2" cy="726.8" rx="4.00" ry="1.70" fill="#151515" opacity="0.95" filter="url(#bl)"/>
<ellipse cx="341.0" cy="727.0" rx="3.80" ry="1.50" fill="#222" opacity="0.9" filter="url(#bl)"/>
<ellipse cx="366.3" cy="727.2" rx="3.90" ry="1.50" fill="#222" opacity="0.9" filter="url(#bl)"/>
</g>
<rect x="298.50" y="720.40" width="74.90" height="14.60" fill="none" stroke="#3a3a3a" stroke-width="0.9"/>
<text x="187.60" y="646.55" font-size="8.8">rACLY</text>
<text x="226.00" y="645.58" font-size="8.6" text-anchor="middle">—</text>
<line x1="219.00" y1="650.10" x2="234.00" y2="650.10" stroke="#444" stroke-width="0.8"/>
<text x="252.10" y="646.48" font-size="8.6" text-anchor="middle">WT</text>
<line x1="244.90" y1="650.10" x2="260.00" y2="650.10" stroke="#444" stroke-width="0.8"/>
<text x="278.80" y="646.48" font-size="8.6" text-anchor="middle">NES</text>
<line x1="270.00" y1="650.10" x2="284.60" y2="650.10" stroke="#444" stroke-width="0.8"/>
<text x="308.90" y="645.58" font-size="8.6" text-anchor="middle">—</text>
<line x1="301.40" y1="650.10" x2="316.40" y2="650.10" stroke="#444" stroke-width="0.8"/>
<text x="332.30" y="646.48" font-size="8.6" text-anchor="middle">WT</text>
<line x1="324.70" y1="650.10" x2="340.30" y2="650.10" stroke="#444" stroke-width="0.8"/>
<text x="357.10" y="646.48" font-size="8.6" text-anchor="middle">NES</text>
<line x1="348.30" y1="650.10" x2="365.40" y2="650.10" stroke="#444" stroke-width="0.8"/>
<text x="222.30" y="659.64" font-size="8.5" text-anchor="middle">C</text>
<text x="232.80" y="659.64" font-size="8.5" text-anchor="middle">N</text>
<text x="247.40" y="659.64" font-size="8.5" text-anchor="middle">C</text>
<text x="258.40" y="659.64" font-size="8.5" text-anchor="middle">N</text>
<text x="273.00" y="659.64" font-size="8.5" text-anchor="middle">C</text>
<text x="284.30" y="659.64" font-size="8.5" text-anchor="middle">N</text>
<text x="303.90" y="659.64" font-size="8.5" text-anchor="middle">C</text>
<text x="314.70" y="659.64" font-size="8.5" text-anchor="middle">N</text>
<text x="327.20" y="659.64" font-size="8.5" text-anchor="middle">C</text>
<text x="338.30" y="659.64" font-size="8.5" text-anchor="middle">N</text>
<text x="351.60" y="659.64" font-size="8.5" text-anchor="middle">C</text>
<text x="362.90" y="659.64" font-size="8.5" text-anchor="middle">N</text>
<text x="383.00" y="658.76" font-size="6.6" text-anchor="middle">kDa</text>
<text x="189.40" y="674.35" font-size="8.8">ACLY</text>
<text x="189.40" y="694.75" font-size="8.8">SAT1</text>
<text x="189.40" y="714.35" font-size="8.8">ACTB</text>
<text x="189.40" y="732.95" font-size="8.8">LSD1</text>
<text x="383.00" y="672.85" font-size="7.4" text-anchor="middle">120</text>
<text x="383.00" y="692.25" font-size="7.4" text-anchor="middle">20</text>
<text x="383.00" y="711.35" font-size="7.4" text-anchor="middle">45</text>
<text x="383.00" y="730.65" font-size="7.4" text-anchor="middle">110</text>
<text x="263.40" y="745.55" font-size="8.8" text-anchor="middle">det: SKOV3</text>
<text x="339.00" y="745.55" font-size="8.8" text-anchor="middle">det: OVCA433</text>
<rect x="451.80" y="642.10" width="15.60" height="15.56" fill="#a8d0b0"/>
<rect x="466.90" y="642.10" width="15.60" height="15.56" fill="#008a4a"/>
<rect x="482.00" y="642.10" width="15.60" height="15.56" fill="#96c8a5"/>
<rect x="497.10" y="642.10" width="15.60" height="15.56" fill="#c5dfc9"/>
<rect x="512.20" y="642.10" width="15.60" height="15.56" fill="#c2ddc7"/>
<rect x="527.30" y="642.10" width="15.10" height="15.56" fill="#c5dfc9"/>
<rect x="451.80" y="657.16" width="15.60" height="15.56" fill="#a8d0b0"/>
<rect x="466.90" y="657.16" width="15.60" height="15.56" fill="#2e9a55"/>
<rect x="482.00" y="657.16" width="15.60" height="15.56" fill="#a0ccac"/>
<rect x="497.10" y="657.16" width="15.60" height="15.56" fill="#d2e7d4"/>
<rect x="512.20" y="657.16" width="15.60" height="15.56" fill="#d9ebda"/>
<rect x="527.30" y="657.16" width="15.10" height="15.56" fill="#dcecdc"/>
<rect x="451.80" y="672.22" width="15.60" height="15.56" fill="#a8d0b0"/>
<rect x="466.90" y="672.22" width="15.60" height="15.56" fill="#3fa260"/>
<rect x="482.00" y="672.22" width="15.60" height="15.56" fill="#a3ceae"/>
<rect x="497.10" y="672.22" width="15.60" height="15.56" fill="#d5e8d6"/>
<rect x="512.20" y="672.22" width="15.60" height="15.56" fill="#d9ebda"/>
<rect x="527.30" y="672.22" width="15.10" height="15.56" fill="#d2e7d4"/>
<rect x="451.80" y="687.28" width="15.60" height="15.56" fill="#a8d0b0"/>
<rect x="466.90" y="687.28" width="15.60" height="15.56" fill="#2e9a55"/>
<rect x="482.00" y="687.28" width="15.60" height="15.56" fill="#98c9a6"/>
<rect x="497.10" y="687.28" width="15.60" height="15.56" fill="#eef5ee"/>
<rect x="512.20" y="687.28" width="15.60" height="15.56" fill="#f0f6f0"/>
<rect x="527.30" y="687.28" width="15.10" height="15.56" fill="#eff6ef"/>
<rect x="451.80" y="702.34" width="15.60" height="15.06" fill="#a8d0b0"/>
<rect x="466.90" y="702.34" width="15.60" height="15.06" fill="#45a563"/>
<rect x="482.00" y="702.34" width="15.60" height="15.06" fill="#93c6a2"/>
<rect x="497.10" y="702.34" width="15.60" height="15.06" fill="#dcecdc"/>
<rect x="512.20" y="702.34" width="15.60" height="15.06" fill="#e0eee0"/>
<rect x="527.30" y="702.34" width="15.10" height="15.06" fill="#d5e8d6"/>
<rect x="451.80" y="642.10" width="90.60" height="75.30" fill="none" stroke="#3c3c3c" stroke-width="0.75"/>
<line x1="449.20" y1="649.63" x2="451.80" y2="649.63" stroke="#1f1f1f" stroke-width="0.7"/>
<line x1="449.20" y1="664.69" x2="451.80" y2="664.69" stroke="#1f1f1f" stroke-width="0.7"/>
<line x1="449.20" y1="679.75" x2="451.80" y2="679.75" stroke="#1f1f1f" stroke-width="0.7"/>
<line x1="449.20" y1="694.81" x2="451.80" y2="694.81" stroke="#1f1f1f" stroke-width="0.7"/>
<line x1="449.20" y1="709.87" x2="451.80" y2="709.87" stroke="#1f1f1f" stroke-width="0.7"/>
<line x1="459.35" y1="717.40" x2="459.35" y2="720.00" stroke="#1f1f1f" stroke-width="0.7"/>
<line x1="474.45" y1="717.40" x2="474.45" y2="720.00" stroke="#1f1f1f" stroke-width="0.7"/>
<line x1="489.55" y1="717.40" x2="489.55" y2="720.00" stroke="#1f1f1f" stroke-width="0.7"/>
<line x1="504.65" y1="717.40" x2="504.65" y2="720.00" stroke="#1f1f1f" stroke-width="0.7"/>
<line x1="519.75" y1="717.40" x2="519.75" y2="720.00" stroke="#1f1f1f" stroke-width="0.7"/>
<line x1="534.85" y1="717.40" x2="534.85" y2="720.00" stroke="#1f1f1f" stroke-width="0.7"/>
<rect x="548.60" y="642.10" width="15.58" height="15.56" fill="#a5cfae"/>
<rect x="563.68" y="642.10" width="15.58" height="15.56" fill="#3a9f5c"/>
<rect x="578.77" y="642.10" width="15.58" height="15.56" fill="#a3ceae"/>
<rect x="593.85" y="642.10" width="15.58" height="15.56" fill="#dcecdc"/>
<rect x="608.93" y="642.10" width="15.58" height="15.56" fill="#d9ebda"/>
<rect x="624.02" y="642.10" width="15.08" height="15.56" fill="#d5e8d6"/>
<rect x="548.60" y="657.16" width="15.58" height="15.56" fill="#a5cfae"/>
<rect x="563.68" y="657.16" width="15.58" height="15.56" fill="#44a462"/>
<rect x="578.77" y="657.16" width="15.58" height="15.56" fill="#a0ccab"/>
<rect x="593.85" y="657.16" width="15.58" height="15.56" fill="#c8e1cc"/>
<rect x="608.93" y="657.16" width="15.58" height="15.56" fill="#c8e1cc"/>
<rect x="624.02" y="657.16" width="15.08" height="15.56" fill="#c8e1cc"/>
<rect x="548.60" y="672.22" width="15.58" height="15.56" fill="#a5cfae"/>
<rect x="563.68" y="672.22" width="15.58" height="15.56" fill="#6ab47f"/>
<rect x="578.77" y="672.22" width="15.58" height="15.56" fill="#a8d0b1"/>
<rect x="593.85" y="672.22" width="15.58" height="15.56" fill="#d9ebda"/>
<rect x="608.93" y="672.22" width="15.58" height="15.56" fill="#d9ebda"/>
<rect x="624.02" y="672.22" width="15.08" height="15.56" fill="#dcecdc"/>
<rect x="548.60" y="687.28" width="15.58" height="15.56" fill="#a5cfae"/>
<rect x="563.68" y="687.28" width="15.58" height="15.56" fill="#4da869"/>
<rect x="578.77" y="687.28" width="15.58" height="15.56" fill="#a8d0b1"/>
<rect x="593.85" y="687.28" width="15.58" height="15.56" fill="#ffffff"/>
<rect x="608.93" y="687.28" width="15.58" height="15.56" fill="#ffffff"/>
<rect x="624.02" y="687.28" width="15.08" height="15.56" fill="#ffffff"/>
<rect x="548.60" y="702.34" width="15.58" height="15.06" fill="#a5cfae"/>
<rect x="563.68" y="702.34" width="15.58" height="15.06" fill="#359d58"/>
<rect x="578.77" y="702.34" width="15.58" height="15.06" fill="#9ccaa8"/>
<rect x="593.85" y="702.34" width="15.58" height="15.06" fill="#eef5ee"/>
<rect x="608.93" y="702.34" width="15.58" height="15.06" fill="#eef5ee"/>
<rect x="624.02" y="702.34" width="15.08" height="15.06" fill="#eef5ee"/>
<rect x="548.60" y="642.10" width="90.50" height="75.30" fill="none" stroke="#3c3c3c" stroke-width="0.75"/>
<line x1="556.14" y1="717.40" x2="556.14" y2="720.00" stroke="#1f1f1f" stroke-width="0.7"/>
<line x1="571.23" y1="717.40" x2="571.23" y2="720.00" stroke="#1f1f1f" stroke-width="0.7"/>
<line x1="586.31" y1="717.40" x2="586.31" y2="720.00" stroke="#1f1f1f" stroke-width="0.7"/>
<line x1="601.39" y1="717.40" x2="601.39" y2="720.00" stroke="#1f1f1f" stroke-width="0.7"/>
<line x1="616.48" y1="717.40" x2="616.48" y2="720.00" stroke="#1f1f1f" stroke-width="0.7"/>
<line x1="631.56" y1="717.40" x2="631.56" y2="720.00" stroke="#1f1f1f" stroke-width="0.7"/>
<text x="447.60" y="639.58" font-size="7.2" text-anchor="end">promoter:</text>
<text x="447.40" y="652.46" font-size="8.0" text-anchor="end">CCNB1</text>
<text x="447.40" y="667.52" font-size="8.0" text-anchor="end">BUB1B</text>
<text x="447.40" y="682.58" font-size="8.0" text-anchor="end">FANCD2</text>
<text x="447.40" y="697.64" font-size="8.0" text-anchor="end">CENPA</text>
<text x="447.40" y="712.70" font-size="8.0" text-anchor="end">TOP2A</text>
<text x="498.30" y="639.55" font-size="8.8" text-anchor="middle">det: SKOV3</text>
<text x="596.10" y="639.55" font-size="8.8" text-anchor="middle">det: OVCA433</text>
<text x="448.60" y="729.75" font-size="8.8" text-anchor="end">rACLY</text>
<text x="449.60" y="744.35" font-size="8.8" text-anchor="end">shSAT1#1</text>
<text x="458.80" y="728.48" font-size="7.5" text-anchor="middle">–</text>
<text x="473.90" y="728.48" font-size="7.5" text-anchor="middle">WT</text>
<text x="491.00" y="728.48" font-size="7.5" text-anchor="middle">NES</text>
<text x="504.80" y="728.48" font-size="7.5" text-anchor="middle">–</text>
<text x="520.80" y="728.48" font-size="7.5" text-anchor="middle">WT</text>
<text x="536.70" y="728.48" font-size="7.5" text-anchor="middle">NES</text>
<text x="555.40" y="728.48" font-size="7.5" text-anchor="middle">–</text>
<text x="571.90" y="728.48" font-size="7.5" text-anchor="middle">WT</text>
<text x="587.30" y="728.48" font-size="7.5" text-anchor="middle">NES</text>
<text x="602.40" y="728.48" font-size="7.5" text-anchor="middle">–</text>
<text x="616.70" y="728.48" font-size="7.5" text-anchor="middle">WT</text>
<text x="633.60" y="728.48" font-size="7.5" text-anchor="middle">NES</text>
<line x1="454.30" y1="735.20" x2="495.70" y2="735.20" stroke="#1f1f1f" stroke-width="0.8"/>
<text x="475.10" y="743.02" font-size="7.6" text-anchor="middle">—</text>
<line x1="501.50" y1="735.20" x2="542.40" y2="735.20" stroke="#1f1f1f" stroke-width="0.8"/>
<text x="522.40" y="745.10" font-size="12" text-anchor="middle">+</text>
<line x1="551.00" y1="735.20" x2="592.70" y2="735.20" stroke="#1f1f1f" stroke-width="0.8"/>
<text x="574.60" y="743.02" font-size="7.6" text-anchor="middle">—</text>
<line x1="600.20" y1="735.20" x2="642.00" y2="735.20" stroke="#1f1f1f" stroke-width="0.8"/>
<text x="621.70" y="745.10" font-size="12" text-anchor="middle">+</text>
<rect x="646.50" y="642.20" width="7.50" height="75.10" fill="url(#cbar)" stroke="#2a2a2a" stroke-width="0.8"/>
<line x1="654.00" y1="645.60" x2="656.40" y2="645.60" stroke="#1f1f1f" stroke-width="0.7"/>
<text x="659.20" y="648.75" font-size="8.8">1.6</text>
<line x1="654.00" y1="662.50" x2="656.40" y2="662.50" stroke="#1f1f1f" stroke-width="0.7"/>
<text x="659.20" y="665.65" font-size="8.8">1.4</text>
<line x1="654.00" y1="679.50" x2="656.40" y2="679.50" stroke="#1f1f1f" stroke-width="0.7"/>
<text x="659.20" y="682.65" font-size="8.8">1.2</text>
<line x1="654.00" y1="696.50" x2="656.40" y2="696.50" stroke="#1f1f1f" stroke-width="0.7"/>
<text x="659.20" y="699.65" font-size="8.8">1.0</text>
<line x1="654.00" y1="713.20" x2="656.40" y2="713.20" stroke="#1f1f1f" stroke-width="0.7"/>
<text x="659.20" y="716.35" font-size="8.8">0.8</text>
<text transform="translate(680.30 676.60) rotate(-90)" y="2.47" font-size="6.9" text-anchor="middle">H3K27 ChIP-qPCR</text>
<text x="1.00" y="762.40" font-size="12.5" font-weight="bold">m</text>
<text x="345.00" y="762.40" font-size="12.5" font-weight="bold">n</text>
<rect x="57.30" y="800.97" width="9.40" height="43.73" fill="#3f5380" stroke="#1f1f1f" stroke-width="0.8"/>
<path d="M62.00 797.03V804.90M60.00 797.03H64.00M60.00 804.90H64.00" fill="none" stroke="#1f1f1f" stroke-width="0.9"/>
<circle cx="60.40" cy="803.72" r="1.1" fill="#3f5380" stroke="#1f1f1f" stroke-width="0.6"/>
<circle cx="63.40" cy="797.42" r="1.1" fill="#3f5380" stroke="#1f1f1f" stroke-width="0.6"/>
<circle cx="61.60" cy="799.79" r="1.1" fill="#3f5380" stroke="#1f1f1f" stroke-width="0.6"/>
<circle cx="62.90" cy="802.34" r="1.1" fill="#3f5380" stroke="#1f1f1f" stroke-width="0.6"/>
<circle cx="61.00" cy="797.82" r="1.1" fill="#3f5380" stroke="#1f1f1f" stroke-width="0.6"/>
<rect x="75.40" y="831.36" width="9.50" height="13.34" fill="#cdd9ec" stroke="#1f1f1f" stroke-width="0.8"/>
<path d="M80.15 827.86V834.86M78.15 827.86H82.15M78.15 834.86H82.15" fill="none" stroke="#1f1f1f" stroke-width="0.9"/>
<circle cx="78.55" cy="833.81" r="1.1" fill="#cdd9ec" stroke="#1f1f1f" stroke-width="0.6"/>
<circle cx="81.55" cy="828.21" r="1.1" fill="#cdd9ec" stroke="#1f1f1f" stroke-width="0.6"/>
<circle cx="79.75" cy="830.31" r="1.1" fill="#cdd9ec" stroke="#1f1f1f" stroke-width="0.6"/>
<circle cx="81.05" cy="832.59" r="1.1" fill="#cdd9ec" stroke="#1f1f1f" stroke-width="0.6"/>
<circle cx="79.15" cy="828.56" r="1.1" fill="#cdd9ec" stroke="#1f1f1f" stroke-width="0.6"/>
<rect x="94.20" y="801.84" width="9.40" height="42.86" fill="#7d98d0" stroke="#1f1f1f" stroke-width="0.8"/>
<path d="M98.90 794.41V809.28M96.90 794.41H100.90M96.90 809.28H100.90" fill="none" stroke="#1f1f1f" stroke-width="0.9"/>
<circle cx="97.30" cy="807.05" r="1.1" fill="#7d98d0" stroke="#1f1f1f" stroke-width="0.6"/>
<circle cx="100.30" cy="795.15" r="1.1" fill="#7d98d0" stroke="#1f1f1f" stroke-width="0.6"/>
<circle cx="98.50" cy="799.61" r="1.1" fill="#7d98d0" stroke="#1f1f1f" stroke-width="0.6"/>
<circle cx="99.80" cy="804.44" r="1.1" fill="#7d98d0" stroke="#1f1f1f" stroke-width="0.6"/>
<circle cx="97.90" cy="795.89" r="1.1" fill="#7d98d0" stroke="#1f1f1f" stroke-width="0.6"/>
<rect x="112.30" y="798.12" width="9.60" height="46.58" fill="#3d3f44" stroke="#1f1f1f" stroke-width="0.8"/>
<path d="M117.10 790.69V805.56M115.10 790.69H119.10M115.10 805.56H119.10" fill="none" stroke="#1f1f1f" stroke-width="0.9"/>
<circle cx="115.50" cy="803.33" r="1.1" fill="#3d3f44" stroke="#1f1f1f" stroke-width="0.6"/>
<circle cx="118.50" cy="791.43" r="1.1" fill="#3d3f44" stroke="#1f1f1f" stroke-width="0.6"/>
<circle cx="116.70" cy="795.89" r="1.1" fill="#3d3f44" stroke="#1f1f1f" stroke-width="0.6"/>
<circle cx="118.00" cy="800.73" r="1.1" fill="#3d3f44" stroke="#1f1f1f" stroke-width="0.6"/>
<circle cx="116.10" cy="792.18" r="1.1" fill="#3d3f44" stroke="#1f1f1f" stroke-width="0.6"/>
<rect x="130.70" y="796.16" width="9.60" height="48.54" fill="#b1b7bc" stroke="#1f1f1f" stroke-width="0.8"/>
<path d="M135.50 789.60V802.72M133.50 789.60H137.50M133.50 802.72H137.50" fill="none" stroke="#1f1f1f" stroke-width="0.9"/>
<circle cx="133.90" cy="800.75" r="1.1" fill="#b1b7bc" stroke="#1f1f1f" stroke-width="0.6"/>
<circle cx="136.90" cy="790.25" r="1.1" fill="#b1b7bc" stroke="#1f1f1f" stroke-width="0.6"/>
<circle cx="135.10" cy="794.19" r="1.1" fill="#b1b7bc" stroke="#1f1f1f" stroke-width="0.6"/>
<circle cx="136.40" cy="798.45" r="1.1" fill="#b1b7bc" stroke="#1f1f1f" stroke-width="0.6"/>
<circle cx="134.50" cy="790.91" r="1.1" fill="#b1b7bc" stroke="#1f1f1f" stroke-width="0.6"/>
<rect x="149.00" y="795.72" width="9.80" height="48.98" fill="#7f8388" stroke="#1f1f1f" stroke-width="0.8"/>
<path d="M153.90 790.91V800.53M151.90 790.91H155.90M151.90 800.53H155.90" fill="none" stroke="#1f1f1f" stroke-width="0.9"/>
<circle cx="152.30" cy="799.09" r="1.1" fill="#7f8388" stroke="#1f1f1f" stroke-width="0.6"/>
<circle cx="155.30" cy="791.39" r="1.1" fill="#7f8388" stroke="#1f1f1f" stroke-width="0.6"/>
<circle cx="153.50" cy="794.28" r="1.1" fill="#7f8388" stroke="#1f1f1f" stroke-width="0.6"/>
<circle cx="154.80" cy="797.40" r="1.1" fill="#7f8388" stroke="#1f1f1f" stroke-width="0.6"/>
<circle cx="152.90" cy="791.87" r="1.1" fill="#7f8388" stroke="#1f1f1f" stroke-width="0.6"/>
<line x1="49.50" y1="778.65" x2="49.50" y2="845.15" stroke="#1f1f1f" stroke-width="0.95"/>
<line x1="49.50" y1="844.70" x2="167.00" y2="844.70" stroke="#1f1f1f" stroke-width="1.0"/>
<line x1="62.00" y1="844.70" x2="62.00" y2="847.50" stroke="#1f1f1f" stroke-width="0.8"/>
<line x1="80.15" y1="844.70" x2="80.15" y2="847.50" stroke="#1f1f1f" stroke-width="0.8"/>
<line x1="98.90" y1="844.70" x2="98.90" y2="847.50" stroke="#1f1f1f" stroke-width="0.8"/>
<line x1="117.10" y1="844.70" x2="117.10" y2="847.50" stroke="#1f1f1f" stroke-width="0.8"/>
<line x1="135.50" y1="844.70" x2="135.50" y2="847.50" stroke="#1f1f1f" stroke-width="0.8"/>
<line x1="153.90" y1="844.70" x2="153.90" y2="847.50" stroke="#1f1f1f" stroke-width="0.8"/>
<line x1="46.30" y1="844.70" x2="49.50" y2="844.70" stroke="#1f1f1f" stroke-width="0.8"/>
<text x="44.90" y="847.78" font-size="8.6" text-anchor="end">0.0</text>
<line x1="46.30" y1="822.83" x2="49.50" y2="822.83" stroke="#1f1f1f" stroke-width="0.8"/>
<text x="44.90" y="825.91" font-size="8.6" text-anchor="end">0.5</text>
<line x1="46.30" y1="800.97" x2="49.50" y2="800.97" stroke="#1f1f1f" stroke-width="0.8"/>
<text x="44.90" y="804.05" font-size="8.6" text-anchor="end">1.0</text>
<line x1="46.30" y1="779.10" x2="49.50" y2="779.10" stroke="#1f1f1f" stroke-width="0.8"/>
<text x="44.90" y="782.18" font-size="8.6" text-anchor="end">1.5</text>
<text transform="translate(22.60 810.00) rotate(-90)" y="3.04" font-size="8.5" text-anchor="middle">Relative γH2AX level</text>
<text x="71.10" y="791.38" font-size="7.5" text-anchor="middle">p&lt;0.0001</text>
<line x1="61.60" y1="793.80" x2="80.50" y2="793.80" stroke="#1f1f1f" stroke-width="0.75"/>
<text x="88.70" y="779.28" font-size="7.5" text-anchor="middle">p&lt;0.0001</text>
<line x1="80.40" y1="781.20" x2="99.30" y2="781.20" stroke="#1f1f1f" stroke-width="0.75"/>
<text x="127.60" y="784.28" font-size="7.5" text-anchor="middle">p=0.9957</text>
<line x1="118.00" y1="786.30" x2="135.80" y2="786.30" stroke="#1f1f1f" stroke-width="0.75"/>
<text x="144.00" y="771.98" font-size="7.5" text-anchor="middle">p&gt;0.9999</text>
<line x1="135.70" y1="774.20" x2="153.90" y2="774.20" stroke="#1f1f1f" stroke-width="0.75"/>
<text x="52.80" y="859.15" font-size="8.8" text-anchor="end">rACLY</text>
<text x="52.80" y="869.75" font-size="8.8" text-anchor="end">shSAT1#1</text>
<text x="62.00" y="857.78" font-size="7.2" text-anchor="middle">—</text>
<text x="62.00" y="868.38" font-size="7.2" text-anchor="middle">—</text>
<text x="79.65" y="858.59" font-size="7.8" text-anchor="middle">WT</text>
<text x="80.15" y="868.38" font-size="7.2" text-anchor="middle">—</text>
<text x="98.40" y="858.59" font-size="7.8" text-anchor="middle">NES</text>
<text x="98.90" y="868.38" font-size="7.2" text-anchor="middle">—</text>
<text x="117.10" y="857.78" font-size="7.2" text-anchor="middle">—</text>
<text x="117.10" y="870.90" font-size="12" text-anchor="middle">+</text>
<text x="135.00" y="858.59" font-size="7.8" text-anchor="middle">WT</text>
<text x="135.50" y="870.90" font-size="12" text-anchor="middle">+</text>
<text x="153.40" y="858.59" font-size="7.8" text-anchor="middle">NES</text>
<text x="153.90" y="870.90" font-size="12" text-anchor="middle">+</text>
<text x="108.50" y="885.55" font-size="8.8" text-anchor="middle">det: SKOV3</text>
<rect x="227.30" y="800.97" width="9.40" height="43.43" fill="#3f5380" stroke="#1f1f1f" stroke-width="0.8"/>
<path d="M232.00 794.39V807.55M230.00 794.39H234.00M230.00 807.55H234.00" fill="none" stroke="#1f1f1f" stroke-width="0.9"/>
<circle cx="230.40" cy="805.58" r="1.1" fill="#3f5380" stroke="#1f1f1f" stroke-width="0.6"/>
<circle cx="233.40" cy="795.05" r="1.1" fill="#3f5380" stroke="#1f1f1f" stroke-width="0.6"/>
<circle cx="231.60" cy="799.00" r="1.1" fill="#3f5380" stroke="#1f1f1f" stroke-width="0.6"/>
<circle cx="232.90" cy="803.27" r="1.1" fill="#3f5380" stroke="#1f1f1f" stroke-width="0.6"/>
<circle cx="231.00" cy="795.71" r="1.1" fill="#3f5380" stroke="#1f1f1f" stroke-width="0.6"/>
<rect x="245.60" y="829.27" width="9.40" height="15.13" fill="#cdd9ec" stroke="#1f1f1f" stroke-width="0.8"/>
<path d="M250.30 824.00V834.53M248.30 824.00H252.30M248.30 834.53H252.30" fill="none" stroke="#1f1f1f" stroke-width="0.9"/>
<circle cx="248.70" cy="832.95" r="1.1" fill="#cdd9ec" stroke="#1f1f1f" stroke-width="0.6"/>
<circle cx="251.70" cy="824.53" r="1.1" fill="#cdd9ec" stroke="#1f1f1f" stroke-width="0.6"/>
<circle cx="249.90" cy="827.69" r="1.1" fill="#cdd9ec" stroke="#1f1f1f" stroke-width="0.6"/>
<circle cx="251.20" cy="831.11" r="1.1" fill="#cdd9ec" stroke="#1f1f1f" stroke-width="0.6"/>
<circle cx="249.30" cy="825.05" r="1.1" fill="#cdd9ec" stroke="#1f1f1f" stroke-width="0.6"/>
<rect x="264.20" y="800.53" width="9.40" height="43.87" fill="#7d98d0" stroke="#1f1f1f" stroke-width="0.8"/>
<path d="M268.90 795.27V805.80M266.90 795.27H270.90M266.90 805.80H270.90" fill="none" stroke="#1f1f1f" stroke-width="0.9"/>
<circle cx="267.30" cy="804.22" r="1.1" fill="#7d98d0" stroke="#1f1f1f" stroke-width="0.6"/>
<circle cx="270.30" cy="795.80" r="1.1" fill="#7d98d0" stroke="#1f1f1f" stroke-width="0.6"/>
<circle cx="268.50" cy="798.95" r="1.1" fill="#7d98d0" stroke="#1f1f1f" stroke-width="0.6"/>
<circle cx="269.80" cy="802.38" r="1.1" fill="#7d98d0" stroke="#1f1f1f" stroke-width="0.6"/>
<circle cx="267.90" cy="796.32" r="1.1" fill="#7d98d0" stroke="#1f1f1f" stroke-width="0.6"/>
<rect x="282.50" y="797.46" width="9.60" height="46.94" fill="#3d3f44" stroke="#1f1f1f" stroke-width="0.8"/>
<path d="M287.30 788.69V806.24M285.30 788.69H289.30M285.30 806.24H289.30" fill="none" stroke="#1f1f1f" stroke-width="0.9"/>
<circle cx="285.70" cy="803.60" r="1.1" fill="#3d3f44" stroke="#1f1f1f" stroke-width="0.6"/>
<circle cx="288.70" cy="789.57" r="1.1" fill="#3d3f44" stroke="#1f1f1f" stroke-width="0.6"/>
<circle cx="286.90" cy="794.83" r="1.1" fill="#3d3f44" stroke="#1f1f1f" stroke-width="0.6"/>
<circle cx="288.20" cy="800.53" r="1.1" fill="#3d3f44" stroke="#1f1f1f" stroke-width="0.6"/>
<circle cx="286.30" cy="790.44" r="1.1" fill="#3d3f44" stroke="#1f1f1f" stroke-width="0.6"/>
<rect x="301.40" y="796.15" width="9.40" height="48.25" fill="#b1b7bc" stroke="#1f1f1f" stroke-width="0.8"/>
<path d="M306.10 788.69V803.60M304.10 788.69H308.10M304.10 803.60H308.10" fill="none" stroke="#1f1f1f" stroke-width="0.9"/>
<circle cx="304.50" cy="801.37" r="1.1" fill="#b1b7bc" stroke="#1f1f1f" stroke-width="0.6"/>
<circle cx="307.50" cy="789.44" r="1.1" fill="#b1b7bc" stroke="#1f1f1f" stroke-width="0.6"/>
<circle cx="305.70" cy="793.91" r="1.1" fill="#b1b7bc" stroke="#1f1f1f" stroke-width="0.6"/>
<circle cx="307.00" cy="798.76" r="1.1" fill="#b1b7bc" stroke="#1f1f1f" stroke-width="0.6"/>
<circle cx="305.10" cy="790.18" r="1.1" fill="#b1b7bc" stroke="#1f1f1f" stroke-width="0.6"/>
<rect x="319.70" y="798.12" width="9.80" height="46.28" fill="#7f8388" stroke="#1f1f1f" stroke-width="0.8"/>
<path d="M324.60 789.79V806.46M322.60 789.79H326.60M322.60 806.46H326.60" fill="none" stroke="#1f1f1f" stroke-width="0.9"/>
<circle cx="323.00" cy="803.95" r="1.1" fill="#7f8388" stroke="#1f1f1f" stroke-width="0.6"/>
<circle cx="326.00" cy="790.62" r="1.1" fill="#7f8388" stroke="#1f1f1f" stroke-width="0.6"/>
<circle cx="324.20" cy="795.62" r="1.1" fill="#7f8388" stroke="#1f1f1f" stroke-width="0.6"/>
<circle cx="325.50" cy="801.04" r="1.1" fill="#7f8388" stroke="#1f1f1f" stroke-width="0.6"/>
<circle cx="323.60" cy="791.45" r="1.1" fill="#7f8388" stroke="#1f1f1f" stroke-width="0.6"/>
<line x1="219.70" y1="778.15" x2="219.70" y2="844.85" stroke="#1f1f1f" stroke-width="0.95"/>
<line x1="219.70" y1="844.40" x2="337.30" y2="844.40" stroke="#1f1f1f" stroke-width="1.0"/>
<line x1="232.00" y1="844.40" x2="232.00" y2="847.20" stroke="#1f1f1f" stroke-width="0.8"/>
<line x1="250.30" y1="844.40" x2="250.30" y2="847.20" stroke="#1f1f1f" stroke-width="0.8"/>
<line x1="268.90" y1="844.40" x2="268.90" y2="847.20" stroke="#1f1f1f" stroke-width="0.8"/>
<line x1="287.30" y1="844.40" x2="287.30" y2="847.20" stroke="#1f1f1f" stroke-width="0.8"/>
<line x1="306.10" y1="844.40" x2="306.10" y2="847.20" stroke="#1f1f1f" stroke-width="0.8"/>
<line x1="324.60" y1="844.40" x2="324.60" y2="847.20" stroke="#1f1f1f" stroke-width="0.8"/>
<line x1="216.50" y1="844.40" x2="219.70" y2="844.40" stroke="#1f1f1f" stroke-width="0.8"/>
<text x="213.50" y="847.48" font-size="8.6" text-anchor="end">0.0</text>
<line x1="216.50" y1="822.47" x2="219.70" y2="822.47" stroke="#1f1f1f" stroke-width="0.8"/>
<text x="213.50" y="825.55" font-size="8.6" text-anchor="end">0.5</text>
<line x1="216.50" y1="800.53" x2="219.70" y2="800.53" stroke="#1f1f1f" stroke-width="0.8"/>
<text x="213.50" y="803.61" font-size="8.6" text-anchor="end">1.0</text>
<line x1="216.50" y1="778.60" x2="219.70" y2="778.60" stroke="#1f1f1f" stroke-width="0.8"/>
<text x="213.50" y="781.68" font-size="8.6" text-anchor="end">1.5</text>
<text transform="translate(191.60 808.80) rotate(-90)" y="3.04" font-size="8.5" text-anchor="middle">Relative γH2AX level</text>
<text x="239.30" y="789.38" font-size="7.5" text-anchor="middle">p&lt;0.0001</text>
<line x1="230.30" y1="791.30" x2="248.70" y2="791.30" stroke="#1f1f1f" stroke-width="0.75"/>
<text x="256.90" y="776.78" font-size="7.5" text-anchor="middle">p&lt;0.0001</text>
<line x1="248.60" y1="779.40" x2="267.60" y2="779.40" stroke="#1f1f1f" stroke-width="0.75"/>
<text x="295.10" y="783.08" font-size="7.5" text-anchor="middle">p&gt;0.9999</text>
<line x1="286.30" y1="785.00" x2="305.20" y2="785.00" stroke="#1f1f1f" stroke-width="0.75"/>
<text x="313.20" y="771.98" font-size="7.5" text-anchor="middle">p&gt;0.9982</text>
<line x1="303.90" y1="774.20" x2="322.80" y2="774.20" stroke="#1f1f1f" stroke-width="0.75"/>
<text x="223.50" y="859.15" font-size="8.8" text-anchor="end">rACLY</text>
<text x="223.50" y="869.75" font-size="8.8" text-anchor="end">shSAT1#1</text>
<text x="232.00" y="857.78" font-size="7.2" text-anchor="middle">—</text>
<text x="232.00" y="868.38" font-size="7.2" text-anchor="middle">—</text>
<text x="249.80" y="858.59" font-size="7.8" text-anchor="middle">WT</text>
<text x="250.30" y="868.38" font-size="7.2" text-anchor="middle">—</text>
<text x="268.40" y="858.59" font-size="7.8" text-anchor="middle">NES</text>
<text x="268.90" y="868.38" font-size="7.2" text-anchor="middle">—</text>
<text x="287.30" y="857.78" font-size="7.2" text-anchor="middle">—</text>
<text x="287.30" y="870.90" font-size="12" text-anchor="middle">+</text>
<text x="305.60" y="858.59" font-size="7.8" text-anchor="middle">WT</text>
<text x="306.10" y="870.90" font-size="12" text-anchor="middle">+</text>
<text x="324.10" y="858.59" font-size="7.8" text-anchor="middle">NES</text>
<text x="324.60" y="870.90" font-size="12" text-anchor="middle">+</text>
<text x="280.00" y="885.55" font-size="8.8" text-anchor="middle">det: OVCA433</text>
<rect x="398.80" y="811.83" width="9.40" height="32.57" fill="#73304a" stroke="#1f1f1f" stroke-width="0.8"/>
<path d="M403.50 808.21V815.45M401.50 808.21H405.50M401.50 815.45H405.50" fill="none" stroke="#1f1f1f" stroke-width="0.9"/>
<circle cx="401.90" cy="814.36" r="1.1" fill="#73304a" stroke="#1f1f1f" stroke-width="0.6"/>
<circle cx="404.90" cy="808.57" r="1.1" fill="#73304a" stroke="#1f1f1f" stroke-width="0.6"/>
<circle cx="403.10" cy="810.74" r="1.1" fill="#73304a" stroke="#1f1f1f" stroke-width="0.6"/>
<circle cx="404.40" cy="813.10" r="1.1" fill="#73304a" stroke="#1f1f1f" stroke-width="0.6"/>
<circle cx="402.50" cy="808.93" r="1.1" fill="#73304a" stroke="#1f1f1f" stroke-width="0.6"/>
<rect x="417.40" y="831.90" width="9.50" height="12.50" fill="#f3c6cf" stroke="#1f1f1f" stroke-width="0.8"/>
<path d="M422.15 829.60V834.20M420.15 829.60H424.15M420.15 834.20H424.15" fill="none" stroke="#1f1f1f" stroke-width="0.9"/>
<circle cx="420.55" cy="833.51" r="1.1" fill="#f3c6cf" stroke="#1f1f1f" stroke-width="0.6"/>
<circle cx="423.55" cy="829.83" r="1.1" fill="#f3c6cf" stroke="#1f1f1f" stroke-width="0.6"/>
<circle cx="421.75" cy="831.21" r="1.1" fill="#f3c6cf" stroke="#1f1f1f" stroke-width="0.6"/>
<circle cx="423.05" cy="832.70" r="1.1" fill="#f3c6cf" stroke="#1f1f1f" stroke-width="0.6"/>
<circle cx="421.15" cy="830.06" r="1.1" fill="#f3c6cf" stroke="#1f1f1f" stroke-width="0.6"/>
<rect x="435.70" y="811.17" width="9.60" height="33.23" fill="#db6781" stroke="#1f1f1f" stroke-width="0.8"/>
<path d="M440.50 806.89V815.45M438.50 806.89H442.50M438.50 815.45H442.50" fill="none" stroke="#1f1f1f" stroke-width="0.9"/>
<circle cx="438.90" cy="814.16" r="1.1" fill="#db6781" stroke="#1f1f1f" stroke-width="0.6"/>
<circle cx="441.90" cy="807.32" r="1.1" fill="#db6781" stroke="#1f1f1f" stroke-width="0.6"/>
<circle cx="440.10" cy="809.89" r="1.1" fill="#db6781" stroke="#1f1f1f" stroke-width="0.6"/>
<circle cx="441.40" cy="812.67" r="1.1" fill="#db6781" stroke="#1f1f1f" stroke-width="0.6"/>
<circle cx="439.50" cy="807.75" r="1.1" fill="#db6781" stroke="#1f1f1f" stroke-width="0.6"/>
<rect x="454.60" y="807.55" width="9.30" height="36.85" fill="#3d3f44" stroke="#1f1f1f" stroke-width="0.8"/>
<path d="M459.25 803.93V811.17M457.25 803.93H461.25M457.25 811.17H461.25" fill="none" stroke="#1f1f1f" stroke-width="0.9"/>
<circle cx="457.65" cy="810.09" r="1.1" fill="#3d3f44" stroke="#1f1f1f" stroke-width="0.6"/>
<circle cx="460.65" cy="804.29" r="1.1" fill="#3d3f44" stroke="#1f1f1f" stroke-width="0.6"/>
<circle cx="458.85" cy="806.47" r="1.1" fill="#3d3f44" stroke="#1f1f1f" stroke-width="0.6"/>
<circle cx="460.15" cy="808.82" r="1.1" fill="#3d3f44" stroke="#1f1f1f" stroke-width="0.6"/>
<circle cx="458.25" cy="804.66" r="1.1" fill="#3d3f44" stroke="#1f1f1f" stroke-width="0.6"/>
<rect x="472.90" y="806.89" width="9.80" height="37.51" fill="#b1b7bc" stroke="#1f1f1f" stroke-width="0.8"/>
<path d="M477.80 802.62V811.17M475.80 802.62H479.80M475.80 811.17H479.80" fill="none" stroke="#1f1f1f" stroke-width="0.9"/>
<circle cx="476.20" cy="809.89" r="1.1" fill="#b1b7bc" stroke="#1f1f1f" stroke-width="0.6"/>
<circle cx="479.20" cy="803.04" r="1.1" fill="#b1b7bc" stroke="#1f1f1f" stroke-width="0.6"/>
<circle cx="477.40" cy="805.61" r="1.1" fill="#b1b7bc" stroke="#1f1f1f" stroke-width="0.6"/>
<circle cx="478.70" cy="808.39" r="1.1" fill="#b1b7bc" stroke="#1f1f1f" stroke-width="0.6"/>
<circle cx="476.80" cy="803.47" r="1.1" fill="#b1b7bc" stroke="#1f1f1f" stroke-width="0.6"/>
<rect x="491.70" y="807.88" width="9.40" height="36.52" fill="#7f8388" stroke="#1f1f1f" stroke-width="0.8"/>
<path d="M496.40 804.26V811.50M494.40 804.26H498.40M494.40 811.50H498.40" fill="none" stroke="#1f1f1f" stroke-width="0.9"/>
<circle cx="494.80" cy="810.41" r="1.1" fill="#7f8388" stroke="#1f1f1f" stroke-width="0.6"/>
<circle cx="497.80" cy="804.62" r="1.1" fill="#7f8388" stroke="#1f1f1f" stroke-width="0.6"/>
<circle cx="496.00" cy="806.80" r="1.1" fill="#7f8388" stroke="#1f1f1f" stroke-width="0.6"/>
<circle cx="497.30" cy="809.15" r="1.1" fill="#7f8388" stroke="#1f1f1f" stroke-width="0.6"/>
<circle cx="495.40" cy="804.99" r="1.1" fill="#7f8388" stroke="#1f1f1f" stroke-width="0.6"/>
<line x1="390.60" y1="778.15" x2="390.60" y2="844.85" stroke="#1f1f1f" stroke-width="0.95"/>
<line x1="390.60" y1="844.40" x2="509.30" y2="844.40" stroke="#1f1f1f" stroke-width="1.0"/>
<line x1="403.50" y1="844.40" x2="403.50" y2="847.20" stroke="#1f1f1f" stroke-width="0.8"/>
<line x1="422.15" y1="844.40" x2="422.15" y2="847.20" stroke="#1f1f1f" stroke-width="0.8"/>
<line x1="440.50" y1="844.40" x2="440.50" y2="847.20" stroke="#1f1f1f" stroke-width="0.8"/>
<line x1="459.25" y1="844.40" x2="459.25" y2="847.20" stroke="#1f1f1f" stroke-width="0.8"/>
<line x1="477.80" y1="844.40" x2="477.80" y2="847.20" stroke="#1f1f1f" stroke-width="0.8"/>
<line x1="496.40" y1="844.40" x2="496.40" y2="847.20" stroke="#1f1f1f" stroke-width="0.8"/>
<line x1="387.40" y1="844.40" x2="390.60" y2="844.40" stroke="#1f1f1f" stroke-width="0.8"/>
<text x="386.50" y="847.48" font-size="8.6" text-anchor="end">0</text>
<line x1="387.40" y1="831.24" x2="390.60" y2="831.24" stroke="#1f1f1f" stroke-width="0.8"/>
<text x="386.50" y="834.32" font-size="8.6" text-anchor="end">20</text>
<line x1="387.40" y1="818.08" x2="390.60" y2="818.08" stroke="#1f1f1f" stroke-width="0.8"/>
<text x="386.50" y="821.16" font-size="8.6" text-anchor="end">40</text>
<line x1="387.40" y1="804.92" x2="390.60" y2="804.92" stroke="#1f1f1f" stroke-width="0.8"/>
<text x="386.50" y="808.00" font-size="8.6" text-anchor="end">60</text>
<line x1="387.40" y1="791.76" x2="390.60" y2="791.76" stroke="#1f1f1f" stroke-width="0.8"/>
<text x="386.50" y="794.84" font-size="8.6" text-anchor="end">80</text>
<line x1="387.40" y1="778.60" x2="390.60" y2="778.60" stroke="#1f1f1f" stroke-width="0.8"/>
<text x="386.50" y="781.68" font-size="8.6" text-anchor="end">100</text>
<text transform="translate(364.10 808.80) rotate(-90)" y="3.04" font-size="8.5" text-anchor="middle">apoptosis rate (%)</text>
<text x="415.10" y="798.08" font-size="7.5" text-anchor="middle">p&lt;0.0001</text>
<line x1="405.60" y1="800.80" x2="422.50" y2="800.80" stroke="#1f1f1f" stroke-width="0.75"/>
<text x="429.40" y="784.58" font-size="7.5" text-anchor="middle">p&lt;0.0001</text>
<line x1="422.60" y1="788.00" x2="440.80" y2="788.00" stroke="#1f1f1f" stroke-width="0.75"/>
<text x="470.90" y="796.88" font-size="7.5" text-anchor="middle">p&gt;0.9999</text>
<line x1="462.00" y1="799.30" x2="477.30" y2="799.30" stroke="#1f1f1f" stroke-width="0.75"/>
<text x="488.50" y="784.58" font-size="7.5" text-anchor="middle">p=0.9999</text>
<line x1="479.70" y1="788.00" x2="497.40" y2="788.00" stroke="#1f1f1f" stroke-width="0.75"/>
<text x="395.50" y="859.15" font-size="8.8" text-anchor="end">rACLY</text>
<text x="395.50" y="869.75" font-size="8.8" text-anchor="end">shSAT1#1</text>
<text x="403.50" y="857.78" font-size="7.2" text-anchor="middle">—</text>
<text x="403.50" y="868.38" font-size="7.2" text-anchor="middle">—</text>
<text x="421.65" y="858.59" font-size="7.8" text-anchor="middle">WT</text>
<text x="422.15" y="868.38" font-size="7.2" text-anchor="middle">—</text>
<text x="440.00" y="858.59" font-size="7.8" text-anchor="middle">NES</text>
<text x="440.50" y="868.38" font-size="7.2" text-anchor="middle">—</text>
<text x="459.25" y="857.78" font-size="7.2" text-anchor="middle">—</text>
<text x="459.25" y="870.90" font-size="12" text-anchor="middle">+</text>
<text x="477.30" y="858.59" font-size="7.8" text-anchor="middle">WT</text>
<text x="477.80" y="870.90" font-size="12" text-anchor="middle">+</text>
<text x="495.90" y="858.59" font-size="7.8" text-anchor="middle">NES</text>
<text x="496.40" y="870.90" font-size="12" text-anchor="middle">+</text>
<text x="449.50" y="885.55" font-size="8.8" text-anchor="middle">det: SKOV3</text>
<rect x="568.30" y="803.27" width="9.40" height="41.12" fill="#73304a" stroke="#1f1f1f" stroke-width="0.8"/>
<path d="M573.00 799.99V806.57M571.00 799.99H575.00M571.00 806.57H575.00" fill="none" stroke="#1f1f1f" stroke-width="0.9"/>
<circle cx="571.40" cy="805.58" r="1.1" fill="#73304a" stroke="#1f1f1f" stroke-width="0.6"/>
<circle cx="574.40" cy="800.31" r="1.1" fill="#73304a" stroke="#1f1f1f" stroke-width="0.6"/>
<circle cx="572.60" cy="802.29" r="1.1" fill="#73304a" stroke="#1f1f1f" stroke-width="0.6"/>
<circle cx="573.90" cy="804.43" r="1.1" fill="#73304a" stroke="#1f1f1f" stroke-width="0.6"/>
<circle cx="572.00" cy="800.64" r="1.1" fill="#73304a" stroke="#1f1f1f" stroke-width="0.6"/>
<rect x="586.60" y="828.61" width="9.40" height="15.79" fill="#f3c6cf" stroke="#1f1f1f" stroke-width="0.8"/>
<path d="M591.30 824.99V832.23M589.30 824.99H593.30M589.30 832.23H593.30" fill="none" stroke="#1f1f1f" stroke-width="0.9"/>
<circle cx="589.70" cy="831.14" r="1.1" fill="#f3c6cf" stroke="#1f1f1f" stroke-width="0.6"/>
<circle cx="592.70" cy="825.35" r="1.1" fill="#f3c6cf" stroke="#1f1f1f" stroke-width="0.6"/>
<circle cx="590.90" cy="827.52" r="1.1" fill="#f3c6cf" stroke="#1f1f1f" stroke-width="0.6"/>
<circle cx="592.20" cy="829.87" r="1.1" fill="#f3c6cf" stroke="#1f1f1f" stroke-width="0.6"/>
<circle cx="590.30" cy="825.71" r="1.1" fill="#f3c6cf" stroke="#1f1f1f" stroke-width="0.6"/>
<rect x="605.20" y="804.59" width="9.60" height="39.81" fill="#db6781" stroke="#1f1f1f" stroke-width="0.8"/>
<path d="M610.00 800.64V808.54M608.00 800.64H612.00M608.00 808.54H612.00" fill="none" stroke="#1f1f1f" stroke-width="0.9"/>
<circle cx="608.40" cy="807.35" r="1.1" fill="#db6781" stroke="#1f1f1f" stroke-width="0.6"/>
<circle cx="611.40" cy="801.04" r="1.1" fill="#db6781" stroke="#1f1f1f" stroke-width="0.6"/>
<circle cx="609.60" cy="803.41" r="1.1" fill="#db6781" stroke="#1f1f1f" stroke-width="0.6"/>
<circle cx="610.90" cy="805.97" r="1.1" fill="#db6781" stroke="#1f1f1f" stroke-width="0.6"/>
<circle cx="609.00" cy="801.43" r="1.1" fill="#db6781" stroke="#1f1f1f" stroke-width="0.6"/>
<rect x="623.50" y="799.66" width="9.60" height="44.74" fill="#3d3f44" stroke="#1f1f1f" stroke-width="0.8"/>
<path d="M628.30 792.42V806.89M626.30 792.42H630.30M626.30 806.89H630.30" fill="none" stroke="#1f1f1f" stroke-width="0.9"/>
<circle cx="626.70" cy="804.72" r="1.1" fill="#3d3f44" stroke="#1f1f1f" stroke-width="0.6"/>
<circle cx="629.70" cy="793.14" r="1.1" fill="#3d3f44" stroke="#1f1f1f" stroke-width="0.6"/>
<circle cx="627.90" cy="797.48" r="1.1" fill="#3d3f44" stroke="#1f1f1f" stroke-width="0.6"/>
<circle cx="629.20" cy="802.19" r="1.1" fill="#3d3f44" stroke="#1f1f1f" stroke-width="0.6"/>
<circle cx="627.30" cy="793.87" r="1.1" fill="#3d3f44" stroke="#1f1f1f" stroke-width="0.6"/>
<rect x="642.40" y="800.64" width="9.50" height="43.76" fill="#b1b7bc" stroke="#1f1f1f" stroke-width="0.8"/>
<path d="M647.15 792.75V808.54M645.15 792.75H649.15M645.15 808.54H649.15" fill="none" stroke="#1f1f1f" stroke-width="0.9"/>
<circle cx="645.55" cy="806.17" r="1.1" fill="#b1b7bc" stroke="#1f1f1f" stroke-width="0.6"/>
<circle cx="648.55" cy="793.54" r="1.1" fill="#b1b7bc" stroke="#1f1f1f" stroke-width="0.6"/>
<circle cx="646.75" cy="798.27" r="1.1" fill="#b1b7bc" stroke="#1f1f1f" stroke-width="0.6"/>
<circle cx="648.05" cy="803.41" r="1.1" fill="#b1b7bc" stroke="#1f1f1f" stroke-width="0.6"/>
<circle cx="646.15" cy="794.33" r="1.1" fill="#b1b7bc" stroke="#1f1f1f" stroke-width="0.6"/>
<rect x="660.70" y="801.30" width="9.80" height="43.10" fill="#7f8388" stroke="#1f1f1f" stroke-width="0.8"/>
<path d="M665.60 795.05V807.55M663.60 795.05H667.60M663.60 807.55H667.60" fill="none" stroke="#1f1f1f" stroke-width="0.9"/>
<circle cx="664.00" cy="805.68" r="1.1" fill="#7f8388" stroke="#1f1f1f" stroke-width="0.6"/>
<circle cx="667.00" cy="795.68" r="1.1" fill="#7f8388" stroke="#1f1f1f" stroke-width="0.6"/>
<circle cx="665.20" cy="799.43" r="1.1" fill="#7f8388" stroke="#1f1f1f" stroke-width="0.6"/>
<circle cx="666.50" cy="803.49" r="1.1" fill="#7f8388" stroke="#1f1f1f" stroke-width="0.6"/>
<circle cx="664.60" cy="796.30" r="1.1" fill="#7f8388" stroke="#1f1f1f" stroke-width="0.6"/>
<line x1="560.30" y1="778.15" x2="560.30" y2="844.85" stroke="#1f1f1f" stroke-width="0.95"/>
<line x1="560.30" y1="844.40" x2="678.80" y2="844.40" stroke="#1f1f1f" stroke-width="1.0"/>
<line x1="573.00" y1="844.40" x2="573.00" y2="847.20" stroke="#1f1f1f" stroke-width="0.8"/>
<line x1="591.30" y1="844.40" x2="591.30" y2="847.20" stroke="#1f1f1f" stroke-width="0.8"/>
<line x1="610.00" y1="844.40" x2="610.00" y2="847.20" stroke="#1f1f1f" stroke-width="0.8"/>
<line x1="628.30" y1="844.40" x2="628.30" y2="847.20" stroke="#1f1f1f" stroke-width="0.8"/>
<line x1="647.15" y1="844.40" x2="647.15" y2="847.20" stroke="#1f1f1f" stroke-width="0.8"/>
<line x1="665.60" y1="844.40" x2="665.60" y2="847.20" stroke="#1f1f1f" stroke-width="0.8"/>
<line x1="557.10" y1="844.40" x2="560.30" y2="844.40" stroke="#1f1f1f" stroke-width="0.8"/>
<text x="553.90" y="847.48" font-size="8.6" text-anchor="end">0</text>
<line x1="557.10" y1="831.24" x2="560.30" y2="831.24" stroke="#1f1f1f" stroke-width="0.8"/>
<text x="553.90" y="834.32" font-size="8.6" text-anchor="end">20</text>
<line x1="557.10" y1="818.08" x2="560.30" y2="818.08" stroke="#1f1f1f" stroke-width="0.8"/>
<text x="553.90" y="821.16" font-size="8.6" text-anchor="end">40</text>
<line x1="557.10" y1="804.92" x2="560.30" y2="804.92" stroke="#1f1f1f" stroke-width="0.8"/>
<text x="553.90" y="808.00" font-size="8.6" text-anchor="end">60</text>
<line x1="557.10" y1="791.76" x2="560.30" y2="791.76" stroke="#1f1f1f" stroke-width="0.8"/>
<text x="553.90" y="794.84" font-size="8.6" text-anchor="end">80</text>
<line x1="557.10" y1="778.60" x2="560.30" y2="778.60" stroke="#1f1f1f" stroke-width="0.8"/>
<text x="553.90" y="781.68" font-size="8.6" text-anchor="end">100</text>
<text transform="translate(531.10 808.80) rotate(-90)" y="3.04" font-size="8.5" text-anchor="middle">apoptosis rate (%)</text>
<text x="583.30" y="791.88" font-size="7.5" text-anchor="middle">p&lt;0.0001</text>
<line x1="574.50" y1="794.50" x2="590.50" y2="794.50" stroke="#1f1f1f" stroke-width="0.75"/>
<text x="597.10" y="780.78" font-size="7.5" text-anchor="middle">p&lt;0.0001</text>
<line x1="589.60" y1="783.20" x2="608.50" y2="783.20" stroke="#1f1f1f" stroke-width="0.75"/>
<text x="634.30" y="786.28" font-size="7.5" text-anchor="middle">p=0.9990</text>
<line x1="627.30" y1="788.80" x2="645.00" y2="788.80" stroke="#1f1f1f" stroke-width="0.75"/>
<text x="653.10" y="774.98" font-size="7.5" text-anchor="middle">p&gt;0.9999</text>
<line x1="646.10" y1="777.50" x2="663.80" y2="777.50" stroke="#1f1f1f" stroke-width="0.75"/>
<text x="565.80" y="859.15" font-size="8.8" text-anchor="end">rACLY</text>
<text x="565.80" y="869.75" font-size="8.8" text-anchor="end">shSAT1#1</text>
<text x="573.00" y="857.78" font-size="7.2" text-anchor="middle">—</text>
<text x="573.00" y="868.38" font-size="7.2" text-anchor="middle">—</text>
<text x="590.80" y="858.59" font-size="7.8" text-anchor="middle">WT</text>
<text x="591.30" y="868.38" font-size="7.2" text-anchor="middle">—</text>
<text x="609.50" y="858.59" font-size="7.8" text-anchor="middle">NES</text>
<text x="610.00" y="868.38" font-size="7.2" text-anchor="middle">—</text>
<text x="628.30" y="857.78" font-size="7.2" text-anchor="middle">—</text>
<text x="628.30" y="870.90" font-size="12" text-anchor="middle">+</text>
<text x="646.65" y="858.59" font-size="7.8" text-anchor="middle">WT</text>
<text x="647.15" y="870.90" font-size="12" text-anchor="middle">+</text>
<text x="665.10" y="858.59" font-size="7.8" text-anchor="middle">NES</text>
<text x="665.60" y="870.90" font-size="12" text-anchor="middle">+</text>
<text x="618.50" y="885.55" font-size="8.8" text-anchor="middle">det: OVCA433</text>
</svg>
</body>
</html>
